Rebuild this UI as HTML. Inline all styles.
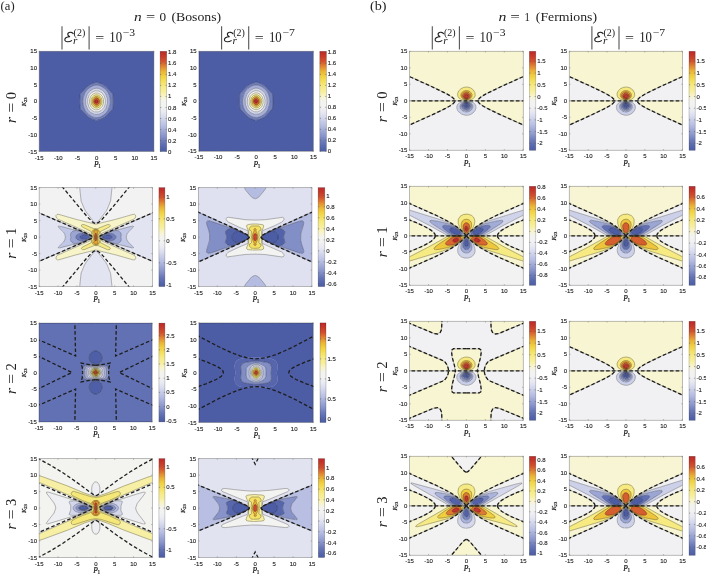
<!DOCTYPE html><html><head><meta charset="utf-8"><style>html,body{margin:0;padding:0;background:#fff;width:706px;height:574px;overflow:hidden}svg{display:block;filter:blur(0.3px)}.tk{font-family:"Liberation Sans",sans-serif;font-size:6px;fill:#222;stroke:#222;stroke-width:0.12px}.al{font-family:"Liberation Serif",serif;font-size:7.5px;font-style:italic;fill:#111;stroke:#111;stroke-width:0.18px}.sub{font-size:5.2px;font-style:normal}.ttl{font-family:"Liberation Serif",serif;font-size:14.5px;fill:#222}.ttls{font-family:"Liberation Serif",serif;font-size:9.5px;fill:#222}.hd{font-family:"Liberation Serif",serif;font-size:11px;fill:#222}.rl{font-family:"Liberation Serif",serif;font-size:14.5px;fill:#222}</style></head><body>
<svg width="706" height="574" viewBox="0 0 706 574">
<text x="0.60" y="10.30" font-family="Liberation Serif" font-size="12.5" textLength="14.00" lengthAdjust="spacingAndGlyphs" fill="#222">(a)</text>
<text x="370.00" y="10.30" font-family="Liberation Serif" font-size="12.5" textLength="16.50" lengthAdjust="spacingAndGlyphs" fill="#222">(b)</text>
<text x="134.00" y="21.20" font-family="Liberation Serif" font-size="12.5" font-style="italic" textLength="7.70" lengthAdjust="spacingAndGlyphs" fill="#222">n</text>
<text x="146.00" y="21.20" font-family="Liberation Serif" font-size="12.5" textLength="9.20" lengthAdjust="spacingAndGlyphs" fill="#222">=</text>
<text x="159.50" y="21.20" font-family="Liberation Serif" font-size="12.5" textLength="6.60" lengthAdjust="spacingAndGlyphs" fill="#222">0</text>
<text x="171.40" y="21.20" font-family="Liberation Serif" font-size="12.5" textLength="49.80" lengthAdjust="spacingAndGlyphs" fill="#222">(Bosons)</text>
<text x="498.50" y="21.20" font-family="Liberation Serif" font-size="12.5" font-style="italic" textLength="7.90" lengthAdjust="spacingAndGlyphs" fill="#222">n</text>
<text x="510.20" y="21.20" font-family="Liberation Serif" font-size="12.5" textLength="9.60" lengthAdjust="spacingAndGlyphs" fill="#222">=</text>
<text x="524.60" y="21.20" font-family="Liberation Serif" font-size="12.5" textLength="5.40" lengthAdjust="spacingAndGlyphs" fill="#222">1</text>
<text x="535.80" y="21.20" font-family="Liberation Serif" font-size="12.5" textLength="61.20" lengthAdjust="spacingAndGlyphs" fill="#222">(Fermions)</text>
<path d="M62.00 26.3V49.4M89.10 26.3V49.4" stroke="#555" stroke-width="1.1"/>
<path d="M73.20 33.6C72.40 32.2 69.60 31.8 68.30 33.0C67.20 34.1 67.80 36.1 70.00 36.7C66.40 36.7 64.30 38.4 64.90 40.3C65.50 42.1 69.30 42.3 71.60 40.6" fill="none" stroke="#222" stroke-width="1.15" stroke-linecap="round"/>
<text x="73.60" y="35.90" font-family="Liberation Serif" font-size="9.5" textLength="11.60" lengthAdjust="spacingAndGlyphs" fill="#222">(2)</text>
<text x="73.00" y="43.60" font-family="Liberation Serif" font-size="9.5" font-style="italic" textLength="4.40" lengthAdjust="spacingAndGlyphs" fill="#222">r</text>
<text x="95.20" y="41.60" font-family="Liberation Serif" font-size="13.5" textLength="9.00" lengthAdjust="spacingAndGlyphs" fill="#222">=</text>
<text x="109.30" y="41.70" font-family="Liberation Serif" font-size="14.5" textLength="12.80" lengthAdjust="spacingAndGlyphs" fill="#222">10</text>
<text x="122.80" y="36.20" font-family="Liberation Serif" font-size="9.5" textLength="12.40" lengthAdjust="spacingAndGlyphs" fill="#222">−3</text>
<path d="M221.60 26.3V49.4M248.70 26.3V49.4" stroke="#555" stroke-width="1.1"/>
<path d="M232.80 33.6C232.00 32.2 229.20 31.8 227.90 33.0C226.80 34.1 227.40 36.1 229.60 36.7C226.00 36.7 223.90 38.4 224.50 40.3C225.10 42.1 228.90 42.3 231.20 40.6" fill="none" stroke="#222" stroke-width="1.15" stroke-linecap="round"/>
<text x="233.20" y="35.90" font-family="Liberation Serif" font-size="9.5" textLength="11.60" lengthAdjust="spacingAndGlyphs" fill="#222">(2)</text>
<text x="232.60" y="43.60" font-family="Liberation Serif" font-size="9.5" font-style="italic" textLength="4.40" lengthAdjust="spacingAndGlyphs" fill="#222">r</text>
<text x="254.80" y="41.60" font-family="Liberation Serif" font-size="13.5" textLength="9.00" lengthAdjust="spacingAndGlyphs" fill="#222">=</text>
<text x="268.90" y="41.70" font-family="Liberation Serif" font-size="14.5" textLength="12.80" lengthAdjust="spacingAndGlyphs" fill="#222">10</text>
<text x="282.40" y="36.20" font-family="Liberation Serif" font-size="9.5" textLength="12.40" lengthAdjust="spacingAndGlyphs" fill="#222">−7</text>
<path d="M432.30 26.3V49.4M459.40 26.3V49.4" stroke="#555" stroke-width="1.1"/>
<path d="M443.50 33.6C442.70 32.2 439.90 31.8 438.60 33.0C437.50 34.1 438.10 36.1 440.30 36.7C436.70 36.7 434.60 38.4 435.20 40.3C435.80 42.1 439.60 42.3 441.90 40.6" fill="none" stroke="#222" stroke-width="1.15" stroke-linecap="round"/>
<text x="443.90" y="35.90" font-family="Liberation Serif" font-size="9.5" textLength="11.60" lengthAdjust="spacingAndGlyphs" fill="#222">(2)</text>
<text x="443.30" y="43.60" font-family="Liberation Serif" font-size="9.5" font-style="italic" textLength="4.40" lengthAdjust="spacingAndGlyphs" fill="#222">r</text>
<text x="465.50" y="41.60" font-family="Liberation Serif" font-size="13.5" textLength="9.00" lengthAdjust="spacingAndGlyphs" fill="#222">=</text>
<text x="479.60" y="41.70" font-family="Liberation Serif" font-size="14.5" textLength="12.80" lengthAdjust="spacingAndGlyphs" fill="#222">10</text>
<text x="493.10" y="36.20" font-family="Liberation Serif" font-size="9.5" textLength="12.40" lengthAdjust="spacingAndGlyphs" fill="#222">−3</text>
<path d="M591.90 26.3V49.4M619.00 26.3V49.4" stroke="#555" stroke-width="1.1"/>
<path d="M603.10 33.6C602.30 32.2 599.50 31.8 598.20 33.0C597.10 34.1 597.70 36.1 599.90 36.7C596.30 36.7 594.20 38.4 594.80 40.3C595.40 42.1 599.20 42.3 601.50 40.6" fill="none" stroke="#222" stroke-width="1.15" stroke-linecap="round"/>
<text x="603.50" y="35.90" font-family="Liberation Serif" font-size="9.5" textLength="11.60" lengthAdjust="spacingAndGlyphs" fill="#222">(2)</text>
<text x="602.90" y="43.60" font-family="Liberation Serif" font-size="9.5" font-style="italic" textLength="4.40" lengthAdjust="spacingAndGlyphs" fill="#222">r</text>
<text x="625.10" y="41.60" font-family="Liberation Serif" font-size="13.5" textLength="9.00" lengthAdjust="spacingAndGlyphs" fill="#222">=</text>
<text x="639.20" y="41.70" font-family="Liberation Serif" font-size="14.5" textLength="12.80" lengthAdjust="spacingAndGlyphs" fill="#222">10</text>
<text x="652.70" y="36.20" font-family="Liberation Serif" font-size="9.5" textLength="12.40" lengthAdjust="spacingAndGlyphs" fill="#222">−7</text>
<g>
<clipPath id="cA0"><rect x="39.2" y="51.3" width="114.7" height="100.2"/></clipPath>
<g clip-path="url(#cA0)">
<path fill="#4c5ca5" stroke="#4c5ca5" stroke-width="0.3" d="M39.6 151.5l114.3 0 0-100.2-114.7 0 0 100.2zM95.9 120.4l-4.7-1.5-3.1-1.8-7.8-8-0.5-6.7 0.3-8.3 6.8-7.4 3.9-2.7 5.8-1.9 5.3 1.8 2.3 1.2 1.9 1.5 6.9 7.5 0.3 7.3-0.3 7.3-6.1 6.7-2.3 2-3.5 1.8-4.5 1.5-0.4-0.1z"/>
<path fill="#717fbd" stroke="#717fbd" stroke-width="0.3" d="M96.2 120.6l0.4 0.1 4.5-1.5 3.5-1.8 2.3-2 6.1-6.7 0.3-7.3-0.3-7.3-6.9-7.5-1.9-1.5-2.3-1.2-5.3-1.8-5.8 1.9-3.9 2.7-6.8 7.4-0.3 8.3 0.5 6.7 7.8 8 3.1 1.8 4.7 1.5zM94.1 117.4l-2.5-1-3.1-2-1.8-1.6-1.4-2-1.4-3.1-0.8-3-0.3-3 0.2-3.3 0.8-3 1.1-2.7 1.6-2.3 2-2 3.1-2 2.3-1 2.7-0.3 2.6 0.3 2.3 1 3.1 2 1.8 1.6 1.6 2.4 1.2 2.7 0.8 3 0.3 3-0.2 3.3-0.8 3-1.1 2.7-1.6 2.3-1.6 1.7-2.9 2-2.5 1.2-2.7 0.4-2.6-0.2z"/>
<path fill="#a6afda" stroke="#a6afda" stroke-width="0.3" d="M94.3 117.5l2.6 0.2 2.7-0.4 2.5-1.2 2.9-2 1.6-1.7 1.6-2.3 1.1-2.7 0.8-3 0.2-3.3-0.3-3-0.8-3-1.2-2.7-1.6-2.4-1.8-1.6-3.1-2-2.3-1-2.6-0.3-2.7 0.3-2.3 1-3.1 2-2 2-1.6 2.3-1.1 2.7-0.8 3-0.2 3.3 0.3 3 0.8 3 1.4 3.1 1.4 2 1.8 1.6 3.1 2 2.5 1zM94.8 114.4l-2.1-0.6-1.9-1.1-1.8-1.6-1.5-2-1.1-2.4-0.7-2.3-0.2-2.3 0.1-2.7 0.6-2.7 1-2.3 1.3-2 1.6-1.7 1.9-1.3 1.9-0.8 2.3-0.4 2.3 0.2 1.9 0.6 1.9 1.1 1.8 1.6 1.5 2 1.1 2.4 0.7 2.3 0.2 2.3-0.1 2.7-0.6 2.7-1 2.3-1.3 2-1.5 1.7-2 1.3-1.9 0.8-1.9 0.4-2.3-0.1z"/>
<path fill="#d3d7ec" stroke="#d3d7ec" stroke-width="0.3" d="M95 114.5l2.3 0.1 1.9-0.4 1.9-0.8 2-1.3 1.5-1.7 1.3-2 1-2.3 0.6-2.7 0.1-2.7-0.2-2.3-0.7-2.3-1.1-2.4-1.5-2-1.8-1.6-1.9-1.1-1.9-0.6-2.3-0.2-2.3 0.4-1.9 0.8-1.9 1.3-1.6 1.7-1.3 2-1 2.3-0.6 2.7-0.1 2.7 0.2 2.3 0.7 2.3 1.1 2.4 1.5 2 1.8 1.6 1.9 1.1 2.1 0.6zM94.4 111.8l-1.7-0.8-1.5-1-2.4-3.3-1.1-4 0.2-4 1.4-3.6 2.7-2.9 1.5-0.8 1.9-0.6 3.4 0.3 3.1 1.7 2.4 3.3 1.1 4-0.2 4-1.4 3.6-2.7 2.9-3 1.3-3.5-0.1z"/>
<path fill="#f2f2f3" stroke="#f2f2f3" stroke-width="0.3" d="M94.6 111.8l3.5 0.1 3-1.3 2.7-2.9 1.4-3.6 0.2-4-1.1-4-2.4-3.3-3.1-1.7-3.4-0.3-1.9 0.6-1.5 0.8-2.7 2.9-1.4 3.6-0.2 4 1.1 4 2.4 3.3 1.5 1 1.7 0.8zM95.3 109.8l-2.6-1.2-2.1-2.5-1-3 0-3.4 1-3 2.1-2.5 2.7-1.2 2.7 0.1 2.4 1.3 2 2.3 1 3 0 3.4-1 3-2 2.3-2.4 1.3-2.7 0.1z"/>
<path fill="#f8f4cb" stroke="#f8f4cb" stroke-width="0.3" d="M95.4 109.8l2.7-0.1 2.4-1.3 2-2.3 1-3 0-3.4-1-3-2-2.3-2.4-1.3-2.7-0.1-2.7 1.2-2.1 2.5-1 3 0 3.4 1 3 2.1 2.5 2.6 1.2zM94.9 107.7l-2-1.3-1.3-2-0.6-2.3 0.2-2.7 1.1-2.3 1.6-1.5 2.3-0.8 2 0.3 2 1.3 1.3 2 0.6 2.3-0.2 2.7-1.1 2.3-1.6 1.5-1.9 0.8-2.3-0.2z"/>
<path fill="#f6e97f" stroke="#f6e97f" stroke-width="0.3" d="M95 107.8l2.3 0.2 1.9-0.8 1.8-1.8 0.9-2.3 0.1-2.7-0.6-2.3-1.4-1.9-1.9-1.2-2.3-0.2-1.9 0.8-1.6 1.5-1.1 2.3-0.2 2.7 0.6 2.3 1.3 2 2 1.3zM95.8 106.4l-1.5-0.7-1.2-1.3-0.7-2 0-2 0.7-2 1.2-1.3 1.5-0.7 1.5 0 1.5 0.7 1.2 1.3 0.7 2 0 2-0.7 2-1.2 1.3-1.5 0.7-1.5 0z"/>
<path fill="#eec53d" stroke="#eec53d" stroke-width="0.3" d="M95.8 106.4l1.5 0 1.5-0.7 1.2-1.3 0.7-2 0-2-0.7-2-1.2-1.3-1.5-0.7-1.5 0-1.5 0.7-1.2 1.3-0.7 2 0 2 0.7 2 1.2 1.3 1.5 0.7zM95.3 104.7l-1-0.9-0.6-1.1-0.2-1.3 0.2-1.3 0.8-1.4 0.9-0.7 1.2-0.3 1.1 0.3 0.9 0.7 0.8 1.4 0.2 1.3-0.2 1.3-0.8 1.4-0.9 0.7-1.1 0.3-1.2-0.3z"/>
<path fill="#d8672e" stroke="#d8672e" stroke-width="0.3" d="M95.4 104.8l1.2 0.3 1.1-0.3 0.9-0.7 0.8-1.4 0.2-1.3-0.2-1.3-0.6-1.1-1-0.9-1.2-0.4-1.2 0.3-0.9 0.7-0.8 1.4-0.2 1.3 0.2 1.3 0.6 1.1 1 0.9zM96.3 103.4l-1-0.7-0.4-1.6 0.7-1.4 1.2-0.3 1 0.7 0.4 1.3-0.5 1.5-1.1 0.5z"/>
<path fill="#be2c28" stroke="#be2c28" stroke-width="0.3" d="M96.5 103.4l1.1-0.5 0.5-1.5-0.5-1.5-1.1-0.5-1.2 0.5-0.5 1.5 0.4 1.3 1 0.7z"/>
<path fill="none" stroke="#000" stroke-opacity="0.55" stroke-width="0.5" d="M96.2 120.6l4.9-1.4 3.5-1.8 2.3-2 6.1-6.7 0.3-7.3-0.3-7.3-6.9-7.5-4.2-2.7-5.3-1.8-5.8 1.9-3.9 2.7-6.8 7.4-0.3 8.3 0.5 6.7 7.8 8 3.1 1.8 4.7 1.5M94.3 117.5l2.6 0.2 2.7-0.4 2.5-1.2 2.9-2 1.6-1.7 1.6-2.3 1.9-5.7 0.2-3.3-0.3-3-0.8-3-1.2-2.7-1.6-2.4-1.8-1.6-3.1-2-2.3-1-2.6-0.3-2.7 0.3-2.3 1-3.1 2-2 2-1.6 2.3-1.9 5.7-0.2 3.3 0.3 3 0.8 3 1.4 3.1 3.2 3.6 3.1 2 2.5 1M95 114.5l4.2-0.3 3.9-2.1 2.8-3.7 1.6-5-0.1-5-1.8-4.7-3.3-3.6-3.8-1.7-2.3-0.2-2.3 0.4-3.8 2.1-2.9 3.7-1.6 5 0.1 5 1.8 4.7 3.3 3.6 4 1.7M94.6 111.8l3.5 0.1 3-1.3 2.7-2.9 1.4-3.6 0.2-4-1.1-4-2.4-3.3-3.1-1.7-3.4-0.3-3.4 1.4-2.7 2.9-1.4 3.6-0.2 4 1.1 4 2.4 3.3 3.2 1.8M95.4 109.8l2.7-0.1 2.4-1.3 2-2.3 1-3 0-3.4-1-3-2-2.3-2.4-1.3-2.7-0.1-2.7 1.2-2.1 2.5-1 3 0 3.4 1 3 2.1 2.5 2.6 1.2M95 107.8l2.3 0.2 1.9-0.8 1.8-1.8 0.9-2.3 0.1-2.7-0.6-2.3-1.4-1.9-1.9-1.2-2.3-0.2-1.9 0.8-1.6 1.5-1.1 2.3-0.2 2.7 0.6 2.3 1.3 2 2 1.3M95.8 106.4l1.5 0 1.5-0.7 1.2-1.3 0.7-2 0-2-0.7-2-1.2-1.3-1.5-0.7-1.5 0-1.5 0.7-1.2 1.3-0.7 2 0 2 0.7 2 1.2 1.3 1.5 0.7M95.4 104.8l1.2 0.3 1.1-0.3 0.9-0.7 0.8-1.4 0-2.6-1.6-2-1.2-0.4-1.2 0.3-0.9 0.7-0.8 1.4 0 2.6 1.6 2M96.5 103.4l1.1-0.5 0.5-1.5-0.5-1.5-1.1-0.5-1.2 0.5-0.5 1.5 0.4 1.3 1 0.7"/>
</g>
<rect x="39.2" y="51.3" width="114.7" height="100.2" fill="none" stroke="#000" stroke-opacity="0.33" stroke-width="0.8"/>
<path stroke="#777" stroke-width="0.5" d="M39.2 151.5v-1.2M39.2 51.3v1.2M39.2 151.5h1.2M153.9 151.5h-1.2M58.3 151.5v-1.2M58.3 51.3v1.2M39.2 134.8h1.2M153.9 134.8h-1.2M77.4 151.5v-1.2M77.4 51.3v1.2M39.2 118.1h1.2M153.9 118.1h-1.2M96.6 151.5v-1.2M96.6 51.3v1.2M39.2 101.4h1.2M153.9 101.4h-1.2M115.7 151.5v-1.2M115.7 51.3v1.2M39.2 84.7h1.2M153.9 84.7h-1.2M134.8 151.5v-1.2M134.8 51.3v1.2M39.2 68.0h1.2M153.9 68.0h-1.2M153.9 151.5v-1.2M153.9 51.3v1.2M39.2 51.3h1.2M153.9 51.3h-1.2"/>
<text class="tk" x="39.2" y="159.6" text-anchor="middle">-15</text>
<text class="tk" x="37.0" y="153.5" text-anchor="end">-15</text>
<text class="tk" x="58.3" y="159.6" text-anchor="middle">-10</text>
<text class="tk" x="37.0" y="136.8" text-anchor="end">-10</text>
<text class="tk" x="77.4" y="159.6" text-anchor="middle">-5</text>
<text class="tk" x="37.0" y="120.1" text-anchor="end">-5</text>
<text class="tk" x="96.6" y="159.6" text-anchor="middle">0</text>
<text class="tk" x="37.0" y="103.4" text-anchor="end">0</text>
<text class="tk" x="115.7" y="159.6" text-anchor="middle">5</text>
<text class="tk" x="37.0" y="86.7" text-anchor="end">5</text>
<text class="tk" x="134.8" y="159.6" text-anchor="middle">10</text>
<text class="tk" x="37.0" y="70.0" text-anchor="end">10</text>
<text class="tk" x="153.9" y="159.6" text-anchor="middle">15</text>
<text class="tk" x="37.0" y="53.3" text-anchor="end">15</text>
<text class="al" x="94.0" y="166.7">P<tspan class="sub" dx="-0.4" dy="1.0">1</tspan></text>
<text class="al" style="font-size:6.6px" transform="translate(26.2,106.2) rotate(-90)">K<tspan class="sub" style="font-size:4.6px" dx="-0.2" dy="1.0">23</tspan></text>
<linearGradient id="gA0" x1="0" y1="1" x2="0" y2="0"><stop offset="0.000" stop-color="#4c5ca5"/><stop offset="0.050" stop-color="#5969ae"/><stop offset="0.100" stop-color="#6c7ab9"/><stop offset="0.150" stop-color="#8793c9"/><stop offset="0.200" stop-color="#9da7d5"/><stop offset="0.250" stop-color="#b4bce1"/><stop offset="0.300" stop-color="#c7cde8"/><stop offset="0.350" stop-color="#dbddef"/><stop offset="0.400" stop-color="#eaebf2"/><stop offset="0.450" stop-color="#f2f2f2"/><stop offset="0.500" stop-color="#f3f3f0"/><stop offset="0.550" stop-color="#f8f4ca"/><stop offset="0.600" stop-color="#f7ee9c"/><stop offset="0.650" stop-color="#f6ea84"/><stop offset="0.700" stop-color="#f4df60"/><stop offset="0.750" stop-color="#f1d040"/><stop offset="0.800" stop-color="#eab437"/><stop offset="0.850" stop-color="#e08431"/><stop offset="0.900" stop-color="#d1522d"/><stop offset="0.950" stop-color="#c63a2a"/><stop offset="1.000" stop-color="#bc2828"/></linearGradient>
<rect x="160.1" y="51.3" width="6.6" height="100.2" fill="url(#gA0)" stroke="#000" stroke-opacity="0.3" stroke-width="0.6"/>
<text class="tk" x="168.1" y="153.5">0</text>
<text class="tk" x="168.1" y="142.5">0.2</text>
<text class="tk" x="168.1" y="131.5">0.4</text>
<text class="tk" x="168.1" y="120.5">0.6</text>
<text class="tk" x="168.1" y="109.5">0.8</text>
<text class="tk" x="168.1" y="98.4">1</text>
<text class="tk" x="168.1" y="87.4">1.2</text>
<text class="tk" x="168.1" y="76.4">1.4</text>
<text class="tk" x="168.1" y="65.4">1.6</text>
<text class="tk" x="168.1" y="54.4">1.8</text>
<path stroke="#555" stroke-width="0.5" d="M166.7 151.5h-1.2M160.1 151.5h1.2M166.7 140.5h-1.2M160.1 140.5h1.2M166.7 129.5h-1.2M160.1 129.5h1.2M166.7 118.5h-1.2M160.1 118.5h1.2M166.7 107.5h-1.2M160.1 107.5h1.2M166.7 96.4h-1.2M160.1 96.4h1.2M166.7 85.4h-1.2M160.1 85.4h1.2M166.7 74.4h-1.2M160.1 74.4h1.2M166.7 63.4h-1.2M160.1 63.4h1.2M166.7 52.4h-1.2M160.1 52.4h1.2"/>
</g>
<g>
<clipPath id="cA20"><rect x="198.9" y="51.3" width="114.5" height="100.0"/></clipPath>
<g clip-path="url(#cA20)">
<path fill="#4c5ca5" stroke="#4c5ca5" stroke-width="0.3" d="M199.3 151.3l114.1 0 0-100-114.5 0 0 100zM255.5 120.3l-4.7-1.5-3-1.8-7.8-8-0.6-6.7 0.4-8.3 6.7-7.4 3.9-2.6 5.8-2 5.3 1.8 2.3 1.2 1.9 1.5 6.8 7.5 0.4 7.3-0.4 7.3-6 6.7-2.3 2-3.5 1.8-4.5 1.5-0.4-0.2z"/>
<path fill="#717fbd" stroke="#717fbd" stroke-width="0.3" d="M255.8 120.4l0.4 0.2 4.5-1.5 3.5-1.8 2.3-2 6-6.7 0.4-7.3-0.4-7.3-6.8-7.5-1.9-1.5-2.3-1.2-5.3-1.8-5.8 2-3.9 2.6-6.7 7.4-0.4 8.3 0.6 6.7 7.8 8 3 1.8 4.7 1.5zM253.7 117.3l-2.5-1-3.1-2-1.7-1.7-1.5-2-1.4-3-0.8-3-0.3-3 0.3-3.3 0.7-3 1.1-2.7 1.6-2.3 2-2 3.1-2 2.3-0.9 2.7-0.4 2.6 0.4 2.3 0.9 3.1 2 1.7 1.7 1.7 2.3 1.2 2.7 0.8 3 0.3 3-0.3 3.3-0.7 3-1.1 2.7-1.6 2.3-1.6 1.7-2.9 2-2.5 1.1-2.7 0.5-2.6-0.3z"/>
<path fill="#a6afda" stroke="#a6afda" stroke-width="0.3" d="M253.9 117.3l2.6 0.3 2.7-0.5 2.5-1.1 2.9-2 1.6-1.7 1.6-2.3 1.1-2.7 0.7-3 0.3-3.3-0.3-3-0.8-3-1.2-2.7-1.7-2.3-1.7-1.7-3.1-2-2.3-0.9-2.6-0.4-2.7 0.4-2.3 0.9-3.1 2-2 2-1.6 2.3-1.1 2.7-0.7 3-0.3 3.3 0.3 3 0.8 3 1.4 3 1.5 2 1.7 1.7 3.1 2 2.5 1zM254.4 114.3l-2.1-0.6-1.9-1.1-1.8-1.6-1.5-2-1.1-2.4-0.6-2.3-0.3-2.3 0.1-2.7 0.6-2.7 1-2.3 1.3-2 1.6-1.7 1.9-1.3 1.9-0.8 2.3-0.4 2.3 0.2 1.9 0.6 1.9 1.1 1.8 1.6 1.5 2 1.1 2.4 0.6 2.3 0.3 2.3-0.1 2.7-0.6 2.7-1 2.3-1.3 2-1.6 1.7-1.9 1.3-1.9 0.8-1.9 0.3-2.3-0.1z"/>
<path fill="#d3d7ec" stroke="#d3d7ec" stroke-width="0.3" d="M254.6 114.3l2.3 0.1 1.9-0.3 1.9-0.8 1.9-1.3 1.6-1.7 1.3-2 1-2.3 0.6-2.7 0.1-2.7-0.3-2.3-0.6-2.3-1.1-2.4-1.5-2-1.8-1.6-1.9-1.1-1.9-0.6-2.3-0.2-2.3 0.4-1.9 0.8-1.9 1.3-1.6 1.7-1.3 2-1 2.3-0.6 2.7-0.1 2.7 0.3 2.3 0.6 2.3 1.1 2.4 1.5 2 1.8 1.6 1.9 1.1 2.1 0.6zM254 111.6l-1.7-0.7-1.5-1.1-2.4-3.2-1.1-4 0.2-4 1.5-3.6 2.6-2.8 1.5-0.9 1.9-0.6 3.4 0.3 3.1 1.8 2.4 3.2 1.1 4-0.2 4-1.5 3.6-2.6 2.8-3 1.4-3.5-0.1z"/>
<path fill="#f2f2f3" stroke="#f2f2f3" stroke-width="0.3" d="M254.2 111.7l3.5 0.1 3-1.4 2.6-2.8 1.5-3.6 0.2-4-1.1-4-2.4-3.2-3.1-1.8-3.4-0.3-1.9 0.6-1.5 0.9-2.6 2.8-1.5 3.6-0.2 4 1.1 4 2.4 3.2 1.5 1.1 1.7 0.7zM254.9 109.6l-2.6-1.2-2.1-2.4-1-3 0-3.4 1-3 2.1-2.4 2.7-1.3 2.7 0.1 2.4 1.3 2 2.3 1 3 0 3.4-1 3-2 2.3-2.4 1.3-2.7 0.1z"/>
<path fill="#f8f4cb" stroke="#f8f4cb" stroke-width="0.3" d="M255 109.7l2.7-0.1 2.4-1.3 2-2.3 1-3 0-3.4-1-3-2-2.3-2.4-1.3-2.7-0.1-2.7 1.3-2.1 2.4-1 3 0 3.4 1 3 2.1 2.4 2.6 1.2zM254.5 107.6l-2-1.3-1.3-2-0.6-2.3 0.3-2.7 1-2.3 1.6-1.5 2.3-0.8 2 0.3 2 1.3 1.3 2 0.6 2.3-0.3 2.7-1 2.3-1.6 1.5-1.9 0.8-2.3-0.2z"/>
<path fill="#f6e97f" stroke="#f6e97f" stroke-width="0.3" d="M254.6 107.7l2.3 0.2 1.9-0.8 1.6-1.5 1-2.3 0.3-2.7-0.6-2.3-1.3-2-2-1.3-2-0.3-2.3 0.8-1.6 1.5-1 2.3-0.3 2.7 0.6 2.3 1.3 2 2 1.3zM255.4 106.3l-1.5-0.7-1.2-1.3-0.7-2 0-2 0.7-2 1.2-1.3 1.5-0.7 1.5 0 1.5 0.7 1.2 1.3 0.7 2 0 2-0.7 2-1.2 1.3-1.5 0.7-1.5 0z"/>
<path fill="#eec53d" stroke="#eec53d" stroke-width="0.3" d="M255.4 106.3l1.5 0 1.5-0.7 1.2-1.3 0.7-2 0-2-0.7-2-1.2-1.3-1.5-0.7-1.5 0-1.5 0.7-1.2 1.3-0.7 2 0 2 0.7 2 1.2 1.3 1.5 0.7zM254.9 104.6l-1-0.9-0.6-1.1-0.2-1.3 0.2-1.3 0.8-1.4 0.9-0.7 1.2-0.3 1.1 0.3 0.9 0.7 0.8 1.4 0.2 1.3-0.2 1.3-0.8 1.4-0.9 0.7-1.1 0.3-1.2-0.3z"/>
<path fill="#d8672e" stroke="#d8672e" stroke-width="0.3" d="M255 104.7l1.2 0.3 1.1-0.3 0.9-0.7 0.8-1.4 0.2-1.3-0.2-1.3-0.8-1.4-0.9-0.7-1.1-0.3-1.2 0.3-0.9 0.7-0.8 1.4-0.2 1.3 0.2 1.3 0.6 1.1 1 0.9zM255.9 103.3l-1-0.7-0.4-1.3 0.5-1.5 1.2-0.5 1.1 0.5 0.5 1.5-0.5 1.5-1.1 0.5z"/>
<path fill="#be2c28" stroke="#be2c28" stroke-width="0.3" d="M256.1 103.3l1.1-0.5 0.5-1.5-0.5-1.5-1.1-0.5-1.2 0.5-0.5 1.5 0.4 1.3 1 0.7z"/>
<path fill="none" stroke="#000" stroke-opacity="0.55" stroke-width="0.5" d="M255.8 120.4l4.9-1.3 3.5-1.8 2.3-2 6-6.7 0.4-7.3-0.4-7.3-6.8-7.5-4.2-2.7-5.3-1.8-5.8 2-3.9 2.6-6.7 7.4-0.4 8.3 0.6 6.7 7.8 8 3 1.8 4.7 1.5M253.9 117.3l2.6 0.3 2.7-0.5 2.5-1.1 2.9-2 1.6-1.7 1.6-2.3 1.8-5.7 0.3-3.3-0.3-3-0.8-3-1.2-2.7-1.7-2.3-1.7-1.7-3.1-2-2.3-0.9-2.6-0.4-2.7 0.4-2.3 0.9-3.1 2-2 2-1.6 2.3-1.8 5.7-0.3 3.3 0.3 3 0.8 3 1.4 3 3.2 3.7 3.1 2 2.5 1M254.6 114.3l4.2-0.2 3.8-2.1 2.9-3.7 1.6-5-0.2-5-1.7-4.7-3.3-3.6-3.8-1.7-2.3-0.2-2.3 0.4-3.8 2.1-2.9 3.7-1.6 5 0.2 5 1.7 4.7 3.3 3.6 4 1.7M254.2 111.7l3.5 0.1 3-1.4 2.6-2.8 1.5-3.6 0.2-4-1.1-4-2.4-3.2-3.1-1.8-3.4-0.3-3.4 1.5-2.6 2.8-1.5 3.6-0.2 4 1.1 4 2.4 3.2 3.2 1.8M255 109.7l2.7-0.1 2.4-1.3 2-2.3 1-3 0-3.4-1-3-2-2.3-2.4-1.3-2.7-0.1-2.7 1.3-2.1 2.4-1 3 0 3.4 1 3 2.1 2.4 2.6 1.2M254.6 107.7l2.3 0.2 1.9-0.8 1.6-1.5 1-2.3 0.3-2.7-0.6-2.3-1.3-2-2-1.3-2-0.3-2.3 0.8-1.6 1.5-1 2.3-0.3 2.7 0.6 2.3 1.3 2 2 1.3M255.4 106.3l1.5 0 1.5-0.7 1.2-1.3 0.7-2 0-2-0.7-2-1.2-1.3-1.5-0.7-1.5 0-1.5 0.7-1.2 1.3-0.7 2 0 2 0.7 2 1.2 1.3 1.5 0.7M255 104.7l1.2 0.3 1.1-0.3 0.9-0.7 0.8-1.4 0-2.6-0.8-1.4-0.9-0.7-1.1-0.3-1.2 0.3-0.9 0.7-0.8 1.4 0 2.6 1.6 2M256.1 103.3l1.1-0.5 0.5-1.5-0.5-1.5-1.1-0.5-1.2 0.5-0.5 1.5 0.4 1.3 1 0.7"/>
</g>
<rect x="198.9" y="51.3" width="114.5" height="100.0" fill="none" stroke="#000" stroke-opacity="0.33" stroke-width="0.8"/>
<path stroke="#777" stroke-width="0.5" d="M198.9 151.3v-1.2M198.9 51.3v1.2M198.9 151.3h1.2M313.4 151.3h-1.2M218.0 151.3v-1.2M218.0 51.3v1.2M198.9 134.6h1.2M313.4 134.6h-1.2M237.1 151.3v-1.2M237.1 51.3v1.2M198.9 118.0h1.2M313.4 118.0h-1.2M256.1 151.3v-1.2M256.1 51.3v1.2M198.9 101.3h1.2M313.4 101.3h-1.2M275.2 151.3v-1.2M275.2 51.3v1.2M198.9 84.6h1.2M313.4 84.6h-1.2M294.3 151.3v-1.2M294.3 51.3v1.2M198.9 68.0h1.2M313.4 68.0h-1.2M313.4 151.3v-1.2M313.4 51.3v1.2M198.9 51.3h1.2M313.4 51.3h-1.2"/>
<text class="tk" x="198.9" y="159.4" text-anchor="middle">-15</text>
<text class="tk" x="196.7" y="153.3" text-anchor="end">-15</text>
<text class="tk" x="218.0" y="159.4" text-anchor="middle">-10</text>
<text class="tk" x="196.7" y="136.6" text-anchor="end">-10</text>
<text class="tk" x="237.1" y="159.4" text-anchor="middle">-5</text>
<text class="tk" x="196.7" y="120.0" text-anchor="end">-5</text>
<text class="tk" x="256.1" y="159.4" text-anchor="middle">0</text>
<text class="tk" x="196.7" y="103.3" text-anchor="end">0</text>
<text class="tk" x="275.2" y="159.4" text-anchor="middle">5</text>
<text class="tk" x="196.7" y="86.6" text-anchor="end">5</text>
<text class="tk" x="294.3" y="159.4" text-anchor="middle">10</text>
<text class="tk" x="196.7" y="70.0" text-anchor="end">10</text>
<text class="tk" x="313.4" y="159.4" text-anchor="middle">15</text>
<text class="tk" x="196.7" y="53.3" text-anchor="end">15</text>
<text class="al" x="253.5" y="166.5">P<tspan class="sub" dx="-0.4" dy="1.0">1</tspan></text>
<text class="al" style="font-size:6.6px" transform="translate(185.9,106.1) rotate(-90)">K<tspan class="sub" style="font-size:4.6px" dx="-0.2" dy="1.0">23</tspan></text>
<linearGradient id="gA20" x1="0" y1="1" x2="0" y2="0"><stop offset="0.000" stop-color="#4c5ca5"/><stop offset="0.050" stop-color="#5969ae"/><stop offset="0.100" stop-color="#6c7ab9"/><stop offset="0.150" stop-color="#8793c9"/><stop offset="0.200" stop-color="#9da7d5"/><stop offset="0.250" stop-color="#b4bce1"/><stop offset="0.300" stop-color="#c7cde8"/><stop offset="0.350" stop-color="#dbddef"/><stop offset="0.400" stop-color="#eaebf2"/><stop offset="0.450" stop-color="#f2f2f2"/><stop offset="0.500" stop-color="#f3f3f0"/><stop offset="0.550" stop-color="#f8f4ca"/><stop offset="0.600" stop-color="#f7ee9c"/><stop offset="0.650" stop-color="#f6ea84"/><stop offset="0.700" stop-color="#f4df60"/><stop offset="0.750" stop-color="#f1d040"/><stop offset="0.800" stop-color="#eab437"/><stop offset="0.850" stop-color="#e08431"/><stop offset="0.900" stop-color="#d1522d"/><stop offset="0.950" stop-color="#c63a2a"/><stop offset="1.000" stop-color="#bc2828"/></linearGradient>
<rect x="319.8" y="51.3" width="6.6" height="100.0" fill="url(#gA20)" stroke="#000" stroke-opacity="0.3" stroke-width="0.6"/>
<text class="tk" x="327.8" y="153.3">0</text>
<text class="tk" x="327.8" y="142.3">0.2</text>
<text class="tk" x="327.8" y="131.3">0.4</text>
<text class="tk" x="327.8" y="120.3">0.6</text>
<text class="tk" x="327.8" y="109.3">0.8</text>
<text class="tk" x="327.8" y="98.4">1</text>
<text class="tk" x="327.8" y="87.4">1.2</text>
<text class="tk" x="327.8" y="76.4">1.4</text>
<text class="tk" x="327.8" y="65.4">1.6</text>
<text class="tk" x="327.8" y="54.4">1.8</text>
<path stroke="#555" stroke-width="0.5" d="M326.4 151.3h-1.2M319.8 151.3h1.2M326.4 140.3h-1.2M319.8 140.3h1.2M326.4 129.3h-1.2M319.8 129.3h1.2M326.4 118.3h-1.2M319.8 118.3h1.2M326.4 107.3h-1.2M319.8 107.3h1.2M326.4 96.4h-1.2M319.8 96.4h1.2M326.4 85.4h-1.2M319.8 85.4h1.2M326.4 74.4h-1.2M319.8 74.4h1.2M326.4 63.4h-1.2M319.8 63.4h1.2M326.4 52.4h-1.2M319.8 52.4h1.2"/>
</g>
<g>
<clipPath id="cA1"><rect x="39.2" y="187.6" width="113.3" height="99.0"/></clipPath>
<g clip-path="url(#cA1)">
<path fill="#5160a8" stroke="#5160a8" stroke-width="0.3" d="M82.3 239.2l3.7 0 1.5-0.4 0.9-0.7 0.4-0.7-0.1-1-0.8-0.7-1.5-0.7-3.8-0.1-1.5 0.5-1 0.7-0.5 1 0.2 0.7 0.7 0.6 1.4 0.7zM105.3 239.2l3.8 0.1 1.5-0.5 1-0.7 0.5-1-0.2-0.7-0.7-0.6-1.4-0.7-3.4-0.2-2.8 0.9-0.7 1 0.1 1 0.8 0.7 1.2 0.6z"/>
<path fill="#707dbc" stroke="#707dbc" stroke-width="0.3" d="M80 240.8l2.6 0.3 2.4-0.4 3-1.3 1.3-1 0.4-1.3-0.4-1.3-1.3-1-3-1.3-2.4-0.4-2.6 0.3-2.6 1.1-1.4 1.3-0.3 1.6 0.6 1.4 1.4 1.1 2.1 0.8zM81.9 239.1l-1.4-0.7-0.7-0.6-0.2-0.7 0.5-1 1-0.7 1.5-0.5 3.8 0.1 1.5 0.7 0.8 0.7 0.1 1-0.4 0.7-0.9 0.7-1.5 0.4-3.7 0zM106.8 240.7l2.3 0.4 2.6-0.3 2.6-1.1 1.4-1.3 0.3-1.6-0.6-1.3-1.4-1.2-2.3-0.9-2.6-0.3-2.4 0.4-3 1.3-1.3 1-0.4 1.3 0.4 1.3 1.3 1 3 1.3zM105 239.1l-1.2-0.6-0.8-0.7-0.1-1 0.7-1 2.8-0.9 3.4 0.2 1.4 0.7 0.7 0.6 0.2 0.7-0.5 1-1 0.7-1.5 0.5-3.8-0.1z"/>
<path fill="#9ba5d4" stroke="#9ba5d4" stroke-width="0.3" d="M75.5 243.7l3.4-0.5 3.6-1.2 6.1-2.6 1.7-1 0.3-0.6 0-1.7-0.3-0.3-2.4-1.4-7.2-2.9-4.9-1-1.9 0.1-1.8 1.1-1.1 1.1-0.6 2 0.5 2.3-0.5 2.3 0.6 2 0.9 1 1.6 1 1.8 0.3zM79.8 240.7l-2.1-0.8-1.4-1.1-0.6-1.4 0.3-1.6 1.4-1.3 2.6-1.1 2.6-0.3 2.4 0.4 3 1.3 1.3 1 0.4 1.3-0.4 1.3-1.3 1-3 1.3-2.4 0.4-2.6-0.3zM115.9 243.7l1.9-0.1 1.8-1.1 1.1-1.1 0.6-2-0.5-2.3 0.5-2.3-0.5-1.7-1.2-1.4-1.5-0.9-1.1-0.3-3 0.3-4.8 1.4-6.1 2.6-1.7 1-0.3 0.6 0 1.7 0.3 0.3 2.4 1.4 7.2 2.9 4.7 1zM106.7 240.7l-3-1.3-1.3-1-0.4-1.3 0.4-1.3 1.3-1 3-1.3 2.4-0.4 2.6 0.3 2.3 0.9 1.4 1.2 0.6 1.3-0.3 1.6-1.4 1.3-2.6 1.1-2.6 0.3-2.3-0.4z"/>
<path fill="#c1c7e6" stroke="#c1c7e6" stroke-width="0.3" d="M58.8 248.1l3.8-0.7 10.2-2.8 4.5-0.3 9.5-3.8 3.9-2.1 0.5-0.6 0.1-1-1.1-1.4-4.2-2.1-8.7-3.4-4.5-0.3-10.2-2.8-4.1-0.6-0.3 0.7 0.5 0.6 4.7 4.3 1.5 2.7 0.5 2.3-0.5 2.9-1.5 2.7-4.7 4.3-0.5 0.6 0.3 0.7zM75.3 243.7l-1.8-0.3-1.6-1-0.9-1-0.6-2 0.5-2.3-0.5-2.3 0.6-2 1.1-1.1 1.8-1.1 1.9-0.1 4.9 1 7.2 2.9 2.4 1.4 0.3 0.3 0 1.7-0.3 0.6-1.7 1-6.1 2.6-3.6 1.2-3.4 0.5zM132.5 248l0.7 0 0.3-0.3-0.2-0.7-5-4.6-1.5-2.7-0.5-1.6 0-1.7 0.5-1.9 1.5-2.7 4.7-4.3 0.5-0.6-0.3-0.7-4.1 0.6-10.2 2.8-2.3 0.3-1.9-0.1-1.1 0.3-11.3 4.9-1.6 1.1-0.3 1 0.3 1 1.6 1.1 11.3 4.9 1.1 0.3 1.9-0.1 2.3 0.3 10.2 2.8 3.2 0.6zM115.7 243.7l-4.7-1-7.2-2.9-2.4-1.4-0.3-0.3 0-1.7 0.3-0.6 1.7-1 6.1-2.6 4.8-1.4 3-0.3 1.1 0.3 1.5 0.9 1.2 1.4 0.5 1.7-0.5 2.3 0.5 2.3-0.6 2-1.1 1.1-1.8 1.1-1.9 0.1z"/>
<path fill="#e2e4f1" stroke="#e2e4f1" stroke-width="0.3" d="M80 286.6l32 0-1.4-13.2-3.3-8.2-1.3-2.4-7.9-10.2-1.1-1-1.2-0.3-1.1 0.3-1.1 1-7.9 10.2-1.3 2.4-3.3 7.9-1.4 13.5zM39.5 261.2l48-20.7 3.1-1.6 1.3-1.8-1.3-1.8-3.1-1.6-48.3-20.8 0 48.4zM58.5 248l-0.3-0.7 0.5-0.6 4.7-4.3 1.5-2.7 0.5-2.9-0.5-2.3-1.5-2.7-4.7-4.3-0.5-0.6 0.3-0.7 4.1 0.6 10.2 2.8 4.5 0.3 8.7 3.4 4.2 2.1 1.1 1.4-0.1 1-0.5 0.6-3.9 2.1-9.5 3.8-4.5 0.3-10.2 2.8-3.8 0.7zM152.5 261.3l0-48.4-48.3 20.8-3.1 1.6-1.3 1.8 1.3 1.8 3.1 1.6 48 20.7zM132.3 248l-3.2-0.6-10.2-2.8-2.3-0.3-1.9 0.1-1.1-0.3-11.3-4.9-1.6-1.1-0.3-1 0.3-1 1.6-1.1 11.3-4.9 1.1-0.3 1.9 0.1 2.3-0.3 10.2-2.8 4.1-0.6 0.3 0.7-0.5 0.6-4.7 4.3-1.5 2.7-0.5 1.9 0 1.7 0.5 1.6 1.5 2.7 5 4.6 0.2 0.7-0.3 0.3-0.7 0zM94.7 222.6l1.5 0.2 1.6-0.9 9.2-12.2 3.6-8.6 1.4-13.5-32.3 0 1.3 12.9 0.5 1.9 3.8 8.3 8.3 10.9 1.1 1z"/>
<path fill="#f2f2f2" stroke="#f2f2f2" stroke-width="0.3" d="M39.6 286.6l40.1 0 1.4-13.5 3.3-7.9 1.3-2.4 7.9-10.2 1.1-1 1.1-0.3 1.2 0.3 1.1 1 7.9 10.2 1.3 2.4 3.3 8.2 1.4 13.2 40.5 0 0-25.3-48.3-20.8-3.1-1.6-1.3-1.8 1.3-1.8 3.1-1.6 48.3-20.8 0-25.3-40.5 0-1.4 13.2-3.3 8.2-1.3 2.4-7.9 10.2-1.1 1-1.2 0.3-1.1-0.3-1.1-1-7.9-10.2-1.3-2.4-3.3-7.9-1.4-13.5-40.5 0 0 25.3 48.3 20.8 3.1 1.6 1.3 1.8-1.3 1.8-3.1 1.6-48.3 20.8 0 25.3zM57.1 259.9l-0.9-0.8-0.2-1.2 0.5-1.7 1.2-1.1 3-1.6 29.1-12.6 0.8-0.6 0.5-1.5 1.4-1.7-1.4-1.6-0.5-1.5-0.8-0.7-29.1-12.6-3-1.6-1.1-1-0.6-1.5 0.1-1.3 0.9-0.9 1.8 0 17.8 5.1 19.2 4.7 5-1.4 13.9-3.2 17.8-5.1 1.9-0.2 1 0.7 0.3 1.3-0.5 1.7-1.2 1.1-3 1.6-29.5 12.8-0.9 2-1.4 1.6 1.4 1.7 0.9 2 29.5 12.7 3 1.6 1.1 1 0.6 1.5-0.1 1.3-0.9 0.9-1.8 0-16.7-4.8-20.4-5-20 4.9-16.6 4.8-1.9 0.2z"/>
<path fill="#f8f4c9" stroke="#f8f4c9" stroke-width="0.3" d="M57.3 259.9l1.9-0.2 16.6-4.8 20-4.9 20.4 5 16.7 4.8 1.8 0 0.9-0.9 0.1-1.3-0.6-1.5-1.1-1-3-1.6-29.5-12.7-0.9-2-1.4-1.7 1.4-1.7 0.9-1.9 29.5-12.8 3-1.6 1.2-1.1 0.5-1.7-0.2-1.2-0.9-0.8-1.7 0.1-17.8 5.1-19.3 4.7-19.2-4.7-17.8-5.1-1.8 0-0.9 0.9-0.1 1.3 0.6 1.5 1.1 1 3 1.6 29.1 12.6 0.8 0.7 0.5 1.4 1.4 1.7-1.4 1.7-0.5 1.5-0.8 0.6-29.1 12.6-3 1.6-1.2 1.1-0.5 1.7 0.2 1.2 0.9 0.8zM82.3 249.6l-0.9-1 0.1-0.6 0.6-0.7 9.1-4.6 0.5-3.6 1.5-2-1.5-1.9-0.5-3.7-8.9-4.5-0.9-1.1 0.3-1 0.9-0.4 1.5 0.1 9.5 4 3.8 0.1 9.8-4 2.2-0.1 0.6 0.3 0.3 0.7-0.1 0.6-0.6 0.7-9.1 4.6-0.5 3.7-1.5 1.9 1.5 2 0.5 3.6 8.9 4.5 0.9 1.1-0.3 1-0.9 0.4-1.5 0-9.5-4.1-3.8-0.1-1.1 0.3-8.7 3.7-1.9 0.2z"/>
<path fill="#f6eb89" stroke="#f6eb89" stroke-width="0.3" d="M82.6 249.7l1.9-0.2 8.7-3.7 1.1-0.3 3.8 0.1 9.5 4.1 1.5 0 0.9-0.4 0.3-1-0.9-1.1-8.9-4.5-0.5-3.6-1.5-2 1.5-1.9 0.5-3.7 9.1-4.6 0.6-0.7 0.1-0.6-0.3-0.7-0.6-0.3-2.2 0.1-9.8 4-3.8-0.1-9.5-4-1.5-0.1-0.9 0.4-0.3 1 0.9 1.1 8.9 4.5 0.5 3.7 1.5 1.9-1.5 2-0.5 3.6-9.1 4.6-0.6 0.7-0.1 0.7 0.9 0.9zM94.4 244.7l-1.6-0.7-0.5-1.3-0.1-1.3 1.1-1.7 0.4-2.3 0.3-0.3-0.3-0.3-0.4-2-1.1-2 0.1-1.3 0.3-1 1-0.7 1.5-0.5 2.2 0.2 1.6 0.7 0.5 1.3 0.1 1.3-1.2 2-0.3 2-0.3 0.3 0.3 0.3 0.4 2.3 1.1 1.7-0.1 1.3-0.3 1-0.6 0.6-1.9 0.6-1.9-0.1z"/>
<path fill="#f3d94a" stroke="#f3d94a" stroke-width="0.3" d="M94.7 244.8l1.9 0.1 1.9-0.6 0.6-0.6 0.3-1 0.1-1.3-1.1-1.7-0.4-2.3-0.3-0.3 0.3-0.3 0.3-2 1.2-2-0.1-1.3-0.5-1.3-1.6-0.7-2.2-0.2-1.5 0.5-1 0.7-0.3 1-0.1 1.3 1.1 2 0.4 2 0.3 0.3-0.3 0.3-0.4 2.3-1.1 1.7 0.1 1.3 0.5 1.3 1.6 0.7zM94.6 244l-0.7-0.3-0.4-0.7 0.7-1.9 0.2-3.7 0.2-0.3-0.2-0.3-0.2-3.7-0.6-2.3 1.5-0.8 1.9 0.1 0.8 0.4 0.4 0.7-0.6 1.6-0.3 4-0.2 0.3 0.2 0.3 0.2 3.7 0.6 2.3-1.5 0.8-1.9-0.1z"/>
<path fill="#e6a335" stroke="#e6a335" stroke-width="0.3" d="M94.7 244.1l1.9 0.1 1.5-0.8-0.6-2.3-0.2-3.7-0.2-0.3 0.2-0.3 0.3-4 0.6-1.6-0.4-0.7-0.7-0.3-2-0.2-1.5 0.8 0.6 2.3 0.2 3.7 0.2 0.3-0.2 0.3-0.2 3.7-0.7 1.9 0.4 0.7 0.7 0.3zM95.8 241.1l-0.6-1.4-0.2-2.3 0.4-0.3-0.4-0.7 0.5-2.9 0.3-0.4 0.4 0.4 0.5 2.9-0.4 0.7 0.4 0.7-0.3 2.3-0.6 1z"/>
<path fill="#cf4b2c" stroke="#cf4b2c" stroke-width="0.3" d="M95.8 241.1l0.6-1 0.3-2.3-0.4-0.7 0.4-0.7-0.5-2.9-0.4-0.4-0.3 0.4-0.5 2.9 0.4 0.7-0.4 0.3 0.2 2.3 0.6 1.4z"/>
<path fill="none" stroke="#000" stroke-opacity="0.55" stroke-width="0.5" d="M82.3 239.2l-1.8-0.8-0.8-1 0.1-1 1.3-1 2.3-0.6 2.3 0.1 1.8 0.5 1.2 1 0 1.4-1.2 1-2.6 0.6-2.6-0.2M105.3 239.2l-2.3-1.4-0.1-1 0.4-0.7 2.4-1.1 3.7 0 1.6 0.6 0.9 0.8 0.2 0.7-0.5 1-2.2 1.1-3.7 0M80 240.8l-3-1.4-1.3-1.6 0.3-2 2.1-1.7 3-0.9 3 0.1 3.9 1.5 1.5 1.3 0 2-2.1 1.6-3.6 1.3-3.8-0.2M106.8 240.7l-3.1-1.3-1.5-1.3 0-2 1.5-1.3 3-1.3 3.5-0.3 3.4 0.9 2.1 1.7 0.3 1-0.2 1.3-1.8 1.8-3.4 1.1-3.8-0.3M75.5 243.7l-1.9-0.3-1.7-1-1-1.3-0.5-1.7 0.5-2.3-0.5-2.3 0.5-1.7 1-1.3 1.7-1 2.4-0.3 4.7 1 6.5 2.6 3.4 2 0 2-2.7 1.7-7.2 2.9-5.2 1M115.9 243.7l-4.9-1-4.2-1.6-5-2.3-0.7-1 0.3-2 2.4-1.4 7.2-2.9 4.9-1 1.9 0.1 1.8 1.1 1.1 1.1 0.6 2-0.5 2.3 0.5 2.3-0.6 2-2.5 2-2 0.3M58.8 248.1l-0.6-0.4 0.3-0.8 5.2-5 1.2-2.2 0.5-2.6-0.5-2.6-1.2-2.2-5.2-5-0.3-0.8 0.6-0.4 3.8 0.7 10.2 2.8 5.3 0.5 11.3 4.9 1.6 1.1 0.3 1-0.3 1-1.6 1.1-11.3 4.9-5.3 0.5-13.6 3.4M132.5 248l-13.6-3.4-5.3-0.5-11.3-4.9-1.6-1.1-0.3-1 0.3-1 1.6-1.1 11.3-4.9 5.3-0.5 10.2-2.8 3.8-0.7 0.6 0.4-0.3 0.8-5.2 5-1.2 2.2-0.5 2.6 0.5 2.6 1.2 2.2 5.2 5 0.3 0.8-0.6 0.4M79.7 286.6l1.4-13.5 3.3-7.9 1.3-2.4 7.9-10.2 1.1-1 1.1-0.3 1.2 0.3 1.1 1 7.9 10.2 1.3 2.4 3.3 8.2 1.4 13.2M152.5 261.3l-48.3-20.8-3.1-1.6-1.3-1.8 1.3-1.8 3.1-1.6 48.3-20.8M39.2 212.9l48.3 20.8 3.1 1.6 1.3 1.8-1.3 1.8-3.1 1.6-48.3 20.8M112 187.6l-1.4 13.2-3.3 8.2-1.3 2.4-7.9 10.2-1.1 1-1.2 0.3-1.1-0.3-1.1-1-7.9-10.2-1.3-2.4-3.3-7.9-1.4-13.5M57.3 259.9l1.9-0.2 16.6-4.8 20-4.9 20.4 5 16.7 4.8 1.8 0 0.9-0.9 0.1-1.3-0.6-1.5-1.1-1-32.5-14.3-0.9-2-1.4-1.7 1.4-1.7 0.9-1.9 32.5-14.4 1.2-1.1 0.5-1.7-0.2-1.2-0.9-0.8-1.7 0.1-17.8 5.1-19.3 4.7-19.2-4.7-17.8-5.1-1.8 0-0.9 0.9-0.1 1.3 0.6 1.5 1.1 1 32.1 14.2 2.7 3.8-1.4 1.7-0.5 1.5-0.8 0.6-32.1 14.2-1.2 1.1-0.5 1.7 0.2 1.2 0.9 0.8M82.6 249.7l1.9-0.2 9.8-4 3.8 0.1 9.5 4.1 1.5 0 0.9-0.4 0.3-1-0.9-1.1-8.9-4.5-0.5-3.6-1.5-2 1.5-1.9 0.5-3.7 9.1-4.6 0.7-1.3-0.9-1-2.2 0.1-9.8 4-3.8-0.1-9.5-4-1.5-0.1-0.9 0.4-0.3 1 0.9 1.1 8.9 4.5 0.5 3.7 1.5 1.9-1.5 2-0.5 3.6-9.1 4.6-0.7 1.4 0.9 0.9M94.7 244.8l1.9 0.1 1.9-0.6 0.9-1.6 0.1-1.3-1.1-1.7-0.7-2.6 0.6-2.3 1.2-2-0.1-1.3-0.5-1.3-1.6-0.7-2.2-0.2-1.5 0.5-1 0.7-0.3 1-0.1 1.3 1.1 2 0.7 2.3-0.7 2.6-1.1 1.7 0.1 1.3 0.5 1.3 1.6 0.7M94.7 244.1l1.9 0.1 1.5-0.8-1-6.3 0.5-4.3 0.6-1.6-1.1-1-2-0.2-1.5 0.8 1 6.3-0.4 4-0.7 1.9 1.1 1M95.8 241.1l0.6-1 0.3-2.3-0.4-0.7 0.4-0.7-0.5-2.9-0.4-0.4-0.3 0.4-0.5 2.9 0.4 0.7-0.4 0.3 0.2 2.3 0.6 1.4"/>
<path fill="none" stroke="#1e1e1e" stroke-width="1.3" stroke-dasharray="3.6 2.2" d="M35.3 263l50.2-21.7 5.9-2.9 0.9-0.7 0.3-0.6-0.3-0.6-0.9-0.7-5.9-2.9-50.2-21.7"/>
<path fill="none" stroke="#1e1e1e" stroke-width="1.3" stroke-dasharray="3.6 2.2" d="M156.4 263l-50.2-21.7-5.9-2.9-0.9-0.7-0.3-0.6 0.3-0.6 0.9-0.7 5.9-2.9 50.2-21.7"/>
<path fill="none" stroke="#1e1e1e" stroke-width="1.3" stroke-dasharray="3.6 2.2" d="M58.1 181.8l28.7 34.4 5.7 5.8 1.9 1.2 1 0.3 0.9 0 1.9-0.8 2-1.5 2.8-2.9 9.6-11.1 21-25.4"/>
<path fill="none" stroke="#1e1e1e" stroke-width="1.3" stroke-dasharray="3.6 2.2" d="M58.1 292.4l28.7-34.4 5.7-5.8 1.9-1.2 1-0.3 0.9 0 1.9 0.8 2 1.5 2.8 2.9 9.6 11.1 21 25.4"/>
</g>
<rect x="39.2" y="187.6" width="113.3" height="99.0" fill="none" stroke="#000" stroke-opacity="0.33" stroke-width="0.8"/>
<path stroke="#777" stroke-width="0.5" d="M39.2 286.6v-1.2M39.2 187.6v1.2M39.2 286.6h1.2M152.5 286.6h-1.2M58.1 286.6v-1.2M58.1 187.6v1.2M39.2 270.1h1.2M152.5 270.1h-1.2M77.0 286.6v-1.2M77.0 187.6v1.2M39.2 253.6h1.2M152.5 253.6h-1.2M95.8 286.6v-1.2M95.8 187.6v1.2M39.2 237.1h1.2M152.5 237.1h-1.2M114.7 286.6v-1.2M114.7 187.6v1.2M39.2 220.6h1.2M152.5 220.6h-1.2M133.6 286.6v-1.2M133.6 187.6v1.2M39.2 204.1h1.2M152.5 204.1h-1.2M152.5 286.6v-1.2M152.5 187.6v1.2M39.2 187.6h1.2M152.5 187.6h-1.2"/>
<text class="tk" x="39.2" y="294.7" text-anchor="middle">-15</text>
<text class="tk" x="37.0" y="288.6" text-anchor="end">-15</text>
<text class="tk" x="58.1" y="294.7" text-anchor="middle">-10</text>
<text class="tk" x="37.0" y="272.1" text-anchor="end">-10</text>
<text class="tk" x="77.0" y="294.7" text-anchor="middle">-5</text>
<text class="tk" x="37.0" y="255.6" text-anchor="end">-5</text>
<text class="tk" x="95.8" y="294.7" text-anchor="middle">0</text>
<text class="tk" x="37.0" y="239.1" text-anchor="end">0</text>
<text class="tk" x="114.7" y="294.7" text-anchor="middle">5</text>
<text class="tk" x="37.0" y="222.6" text-anchor="end">5</text>
<text class="tk" x="133.6" y="294.7" text-anchor="middle">10</text>
<text class="tk" x="37.0" y="206.1" text-anchor="end">10</text>
<text class="tk" x="152.5" y="294.7" text-anchor="middle">15</text>
<text class="tk" x="37.0" y="189.6" text-anchor="end">15</text>
<text class="al" x="93.2" y="301.8">P<tspan class="sub" dx="-0.4" dy="1.0">1</tspan></text>
<text class="al" style="font-size:6.6px" transform="translate(26.2,241.9) rotate(-90)">K<tspan class="sub" style="font-size:4.6px" dx="-0.2" dy="1.0">23</tspan></text>
<linearGradient id="gA1" x1="0" y1="1" x2="0" y2="0"><stop offset="0.000" stop-color="#4c5ca5"/><stop offset="0.050" stop-color="#5969ae"/><stop offset="0.100" stop-color="#6c7ab9"/><stop offset="0.150" stop-color="#8793c9"/><stop offset="0.200" stop-color="#9da7d5"/><stop offset="0.250" stop-color="#b4bce1"/><stop offset="0.300" stop-color="#c7cde8"/><stop offset="0.350" stop-color="#dbddef"/><stop offset="0.400" stop-color="#eaebf2"/><stop offset="0.450" stop-color="#f2f2f2"/><stop offset="0.500" stop-color="#f3f3f0"/><stop offset="0.550" stop-color="#f8f4ca"/><stop offset="0.600" stop-color="#f7ee9c"/><stop offset="0.650" stop-color="#f6ea84"/><stop offset="0.700" stop-color="#f4df60"/><stop offset="0.750" stop-color="#f1d040"/><stop offset="0.800" stop-color="#eab437"/><stop offset="0.850" stop-color="#e08431"/><stop offset="0.900" stop-color="#d1522d"/><stop offset="0.950" stop-color="#c63a2a"/><stop offset="1.000" stop-color="#bc2828"/></linearGradient>
<rect x="158.9" y="187.6" width="6.0" height="99.0" fill="url(#gA1)" stroke="#000" stroke-opacity="0.3" stroke-width="0.6"/>
<text class="tk" x="166.3" y="286.8">-1</text>
<text class="tk" x="166.3" y="264.8">-0.5</text>
<text class="tk" x="166.3" y="242.8">0</text>
<text class="tk" x="166.3" y="220.8">0.5</text>
<text class="tk" x="166.3" y="198.8">1</text>
<path stroke="#555" stroke-width="0.5" d="M164.9 284.8h-1.2M158.9 284.8h1.2M164.9 262.8h-1.2M158.9 262.8h1.2M164.9 240.8h-1.2M158.9 240.8h1.2M164.9 218.8h-1.2M158.9 218.8h1.2M164.9 196.8h-1.2M158.9 196.8h1.2"/>
</g>
<g>
<clipPath id="cA21"><rect x="198.4" y="187.6" width="113.5" height="99.0"/></clipPath>
<g clip-path="url(#cA21)">
<path fill="#4c5ca5" stroke="#4c5ca5" stroke-width="0.3" d="M237.4 242.8l2.1-0.1 2.4-1 4.9-2.6 1.2-0.9 0.3-0.8-0.3-1.3-1.2-1-7.2-3.6-1.9-0.1-3 1-1.6 1.4-0.8 1.7 0 3.3 0.8 1.6 1.6 1.4 2.5 0.9zM271 242.8l1.9 0 2.7-1 1.6-1.4 0.8-1.6 0-3.3-0.8-1.7-1.6-1.4-3-1-1.9 0.1-4.3 2-3.4 1.9-1 1.4 0.3 1.3 1.2 1 7.3 3.6z"/>
<path fill="#5363aa" stroke="#5363aa" stroke-width="0.3" d="M230.2 245.7l1.1 0.3 2.1-0.3 7.4-3.2 6.4-3.4 1.5-1.7-0.4-1.3-2.2-1.7-5.3-2.7-7.4-3.2-2.1-0.3-2.3 0.6-2.2 1.2-1.3 1.5 0 1.3 1.1 3 0 1.3 0 1.3-1.1 3 0 1.3 1.5 1.7 3 1.3zM237.2 242.7l-2.5-0.9-1.6-1.4-0.8-1.6 0-3.3 0.8-1.7 1.6-1.4 3-1 1.9 0.1 7.2 3.6 1.2 1 0.3 1.3-0.3 0.8-1.2 0.9-4.9 2.6-2.4 1-2.1 0.1zM277.1 245.7l2.3 0.2 1.9-0.5 2.2-1.2 1.3-1.5 0-1.3-1.1-3 0-1.3 0-1.3 1.1-3 0-1.3-1.3-1.5-2.6-1.3-1.9-0.5-2.9 0.6-11.1 5.2-2.3 1.4-1.1 1.4 0.4 1.3 2.2 1.7 5.3 2.7 7.4 3.2zM270.8 242.7l-7.3-3.6-1.2-1-0.3-1.3 1-1.4 3.4-1.9 4.3-2 1.9-0.1 3 1 1.6 1.4 0.8 1.7 0 3.3-0.8 1.6-1.6 1.4-2.7 1-1.9 0z"/>
<path fill="#828ec6" stroke="#828ec6" stroke-width="0.3" d="M207.5 253.3l2.3 0 4.5-1.3 13.2-4.7 5.3-1.1 12.1-5.6 2.7-1.6 1.4-1.9-1.4-1.9-2.7-1.6-12.1-5.6-5.3-1.1-13.2-4.7-4.5-1.3-2.3 0-0.9 1 0 2 2.1 6.3 0.8 3.6 0.1 5.9-0.5 3-2.5 7.6 0 2 0.8 1zM230 245.7l-3-1.3-1.5-1.7 0-1.3 1.1-3 0-1.3 0-1.3-1.1-3 0-1.3 1.3-1.5 2.2-1.2 2.3-0.6 2.1 0.3 7.4 3.2 5.3 2.7 2.2 1.7 0.4 1.3-1.5 1.7-6.4 3.4-7.4 3.2-2.1 0.3-1.1-0.3zM300.5 253.3l2.3 0 0.8-0.7 0.2-0.6-0.1-1.7-2.1-6.3-0.9-3.9 0.1-6.3 0.8-3.6 2.1-6.3 0-2-0.9-1-2.3 0-4.5 1.3-13.2 4.7-5.7 1.2-12.9 6.1-1.9 1.4-1 1.5 1 1.5 1.9 1.4 12.9 6.1 5.7 1.2 13.2 4.7 4.4 1.3zM276.9 245.7l-7.4-3.2-5.3-2.7-2.2-1.7-0.4-1.3 1.1-1.4 2.3-1.4 11.1-5.2 2.9-0.6 1.9 0.5 2.6 1.3 1.3 1.5 0 1.3-1.1 3 0 1.3 0 1.3 1.1 3 0 1.3-1.3 1.5-2.2 1.2-1.9 0.5-2.3-0.2z"/>
<path fill="#b4bce1" stroke="#b4bce1" stroke-width="0.3" d="M244.2 286.6l21.9 0-1.8-3-5.6-6.6-1.7-1-1.8-0.6-1.9 0.6-1.7 1-5.6 6.6-1.8 3zM198.7 261.9l43.6-19.6 4.9-2.7 2-2.4-2-2.4-4.9-2.7-43.9-19.8 0 49.8zM207.4 253.3l-0.8-1 0-2 2.5-7.6 0.5-3-0.1-5.9-0.8-3.6-2.1-6.3 0-2 0.9-1 2.3 0 4.5 1.3 13.2 4.7 5.3 1.1 12.1 5.6 2.7 1.6 1.4 1.9-1.4 1.9-2.7 1.6-12.1 5.6-5.3 1.1-13.2 4.7-4.5 1.3-2.3 0zM311.9 262l0-49.8-43.9 19.8-4.9 2.7-2 2.4 2 2.4 4.9 2.7 43.6 19.6zM300.4 253.3l-4.4-1.3-13.2-4.7-5.7-1.2-12.9-6.1-1.9-1.4-1-1.5 1-1.5 1.9-1.4 12.9-6.1 5.7-1.2 13.2-4.7 4.5-1.3 2.3 0 0.9 1 0 2-2.1 6.3-0.8 3.6-0.1 6.3 0.9 3.9 2.1 6.3 0.1 1.7-0.2 0.6-0.8 0.7-2.3 0zM254 198.6l1.2 0.2 1.1-0.2 2.3-1.3 5.7-6.7 1.8-3-21.9 0 1.8 3 5.4 6.3 1 0.9 1.5 0.7z"/>
<path fill="#dfe1f0" stroke="#dfe1f0" stroke-width="0.3" d="M198.8 286.6l45.4 0 1.8-3 5.6-6.6 1.7-1 1.9-0.6 1.8 0.6 1.7 1 5.6 6.6 1.8 3 45.8 0 0-24.6-43.9-19.8-4.9-2.7-2-2.4 2-2.4 4.9-2.7 43.9-19.8 0-24.6-45.8 0-1.8 3-5.6 6.6-1.7 1-1.8 0.6-1.9-0.6-1.7-1-5.6-6.6-1.8-3-45.8 0 0 24.6 43.9 19.8 4.9 2.7 2 2.4-2 2.4-4.9 2.7-43.9 19.8 0 24.6zM227.5 256.9l-1.1-0.7-0.2-1.3 0.7-1.3 1.4-1.4 10.6-5 8.7-3.6 0.4-0.9 0-3.3 1.3-2.3-1.3-2.3 0-3.3-0.4-0.9-8.3-3.3-10.6-5.1-1.3-0.9-1.1-1.7-0.1-1 0.6-1 1.9-0.3 7.9 1.4 8.7 1 9.9 0.4 10.2-0.4 17.4-2.4 1 0.7 0.2 1.3-0.9 1.6-1.5 1.3-7.9 3.9-11 4.5-0.4 0.9 0 3.3-1.3 2.3 1.3 2.3 0 3.3 0.4 0.9 13.3 5.6 5.6 2.8 1.5 1.3 0.8 1.3 0.1 1-0.6 1-1.8 0.3-7.9-1.4-8.7-1-9.8-0.4-10.3 0.4-17.4 2.4z"/>
<path fill="#f3f3f1" stroke="#f3f3f1" stroke-width="0.3" d="M227.5 256.9l17.4-2.4 10.3-0.4 9.8 0.4 8.7 1 7.9 1.4 1.8-0.3 0.6-1-0.1-1-0.8-1.3-1.5-1.3-5.6-2.8-13.3-5.6-0.4-0.9 0-3.3-1.3-2.3 1.3-2.3 0-3.3 0.4-0.9 11-4.5 7.9-3.9 1.5-1.3 0.9-1.6-0.2-1.3-1-0.7-17.4 2.4-10.2 0.4-9.9-0.4-8.7-1-7.9-1.4-1.9 0.3-0.6 1 0.1 1 1.1 1.7 1.3 0.9 10.6 5.1 8.3 3.3 0.4 0.9 0 3.3 1.3 2.3-1.3 2.3 0 3.3-0.4 0.9-8.7 3.6-10.6 5-1.4 1.4-0.7 1.3 0.2 1.3 1.1 0.7zM252.2 250l-3.9-0.3-1.1-0.4-0.5-0.7 0.1-1.6 1.8-4 0.1-4.2 0.9-1.7-0.9-1.7-0.1-4.2-1.9-4.3 0.1-1.7 1.9-0.8 4.6-0.4 3.7 0 5.7 0.7 0.8 0.5 0.1 1.7-1.9 4.3-0.1 4.2-0.9 1.7 0.9 1.7 0.1 4.2 1.9 4.3-0.1 1.7-1.9 0.8-4.6 0.4-4.5-0.1z"/>
<path fill="#f7efa3" stroke="#f7efa3" stroke-width="0.3" d="M252.5 250.1l4.5 0.1 4.6-0.4 1.9-0.8 0.1-1.7-1.9-4.3-0.1-4.2-0.9-1.7 0.9-1.7 0.1-4.2 1.9-4.3-0.1-1.7-0.8-0.5-5.7-0.7-3.7 0-4.6 0.4-1.9 0.8-0.1 1.7 1.9 4.3 0.1 4.2 0.9 1.7-0.9 1.7-0.1 4.2-1.8 4-0.1 1.6 0.5 0.7 1.1 0.4 3.9 0.3zM252.9 248.3l-1.5-0.2-0.8-0.6-1-1.2-0.4-1.3 0.3-1.1 1.5-0.5 0.5-0.7-0.5-4.9 0.8-0.7-0.8-0.7 0.5-4.9-0.5-0.7-1.7-0.6 0-1.7 0.7-1.3 1.7-1.2 6.9 0 1.8 1.4 0.7 1.8-0.3 1.1-1.5 0.5-0.5 0.7 0.5 4.9-0.8 0.7 0.8 0.7-0.5 4.9 0.5 0.7 1.7 0.6 0 1.7-0.6 1.1-1.5 1.3-1.9 0.3-3.7 0z"/>
<path fill="#f4e164" stroke="#f4e164" stroke-width="0.3" d="M253.3 248.4l3.7 0 1.9-0.3 1.5-1.3 0.6-1.1 0-1.7-1.7-0.6-0.5-0.7 0.5-4.9-0.8-0.7 0.8-0.7-0.5-4.9 0.5-0.7 1.5-0.5 0.3-1.1-0.7-1.8-1.8-1.4-6.9 0-1.7 1.2-0.7 1.3 0 1.7 1.7 0.6 0.5 0.7-0.5 4.9 0.8 0.7-0.8 0.7 0.5 4.9-0.5 0.7-1.5 0.5-0.3 1.1 0.4 1.3 1 1.2 0.8 0.6 1.5 0.2zM254.9 245.7l-0.9-0.7 0.3-1.6-1.5-3.3-0.4-2.3 0.5-0.7-0.5-0.7 0.5-2.6 1.4-3-0.3-1.6 0.8-0.7 0.6 0 0.9 0.7-0.3 1.6 1.5 3.3 0.4 2.3-0.5 0.7 0.5 0.7-0.5 2.6-1.4 3 0.3 1.6-1.1 0.7z"/>
<path fill="#e9af36" stroke="#e9af36" stroke-width="0.3" d="M255.1 245.7l1.1-0.7-0.3-1.6 1.4-3 0.5-2.6-0.5-0.7 0.5-0.7-0.4-2.3-1.5-3.3 0.3-1.6-0.9-0.7-0.6 0-0.8 0.7 0.3 1.6-1.4 3-0.5 2.6 0.5 0.7-0.5 0.7 0.4 2.3 1.5 3.3-0.3 1.6 0.9 0.7zM255.1 240.7l-0.7-0.3-0.6-1-0.4-1.6 0.6-0.7-0.6-0.7 0.6-2.1 1.2-0.8 1.1 0.8 0.6 2.1-0.6 0.7 0.6 0.7-0.4 1.6-0.6 1-0.7 0.3z"/>
<path fill="#cd462c" stroke="#cd462c" stroke-width="0.3" d="M255.2 240.7l0.7-0.3 0.6-1 0.4-1.6-0.6-0.7 0.6-0.7-0.6-2.1-1.1-0.8-1.2 0.8-0.6 2.1 0.6 0.7-0.6 0.7 0.4 1.6 0.6 1 0.7 0.3z"/>
<path fill="none" stroke="#000" stroke-opacity="0.55" stroke-width="0.5" d="M237.4 242.8l-2.7-1-1.6-1.4-0.8-1.6 0-3.3 0.8-1.7 1.6-1.4 3-1 1.8 0.1 7.3 3.6 1.2 1 0.3 1.3-1 1.4-3.4 1.9-4.3 2-1.9 0.1M271 242.8l-7.5-3.7-1.2-1-0.3-1.3 1-1.4 3.4-1.9 4.3-2 1.9-0.1 3 1 1.6 1.4 0.8 1.7 0 3.3-0.8 1.6-1.5 1.3-2.8 1.1-1.5 0M230.2 245.7l-3.2-1.3-1.5-1.7 0-1.3 1.1-3 0-1.3 0-1.3-1.1-3 0-1.3 1.3-1.5 2.2-1.2 1.9-0.5 2.3 0.2 12.9 5.9 1.9 1.4 0.7 1.5-1.5 1.8-5.7 3-8.1 3.6-2.8 0.2M277.1 245.7l-12.9-5.9-2.2-1.7-0.4-1.2 1.5-1.8 5.7-3 8.1-3.6 2.8-0.2 3.4 1.5 1.6 1.4 0.1 1.6-1.1 3 0 2 1.1 3.6 0 1.3-1.3 1.5-2.2 1.2-1.9 0.5-1.9-0.1M207.5 253.3l-0.9-1 0-2 2.9-9.9 0.1-6.3-0.9-3.9-2.1-6.3-0.1-1.7 0.2-0.6 0.8-0.7 2.3 0 17.7 6 5.7 1.2 12.9 6.1 1.9 1.4 1 1.5-1 1.5-1.9 1.4-12.9 6.1-5.7 1.2-16.6 5.7-3 0.4M300.5 253.3l-17.7-6-5.7-1.2-12.9-6.1-1.9-1.4-1-1.5 1-1.5 1.9-1.4 12.9-6.1 5.7-1.2 16.6-5.7 3-0.4 1.2 0.8 0.1 2.3-2.9 9.9-0.1 6.3 0.9 3.9 2.1 6.3 0.1 1.7-0.2 0.6-0.8 0.7-1.9 0.1M244.2 286.6l1.8-3 5.6-6.6 1.7-1 1.9-0.6 1.8 0.6 1.7 1 5.6 6.6 1.8 3M311.9 262l-43.9-19.8-4.9-2.7-2-2.4 2-2.4 4.9-2.7 43.9-19.8M198.4 212.2l43.9 19.8 4.9 2.7 2 2.4-2 2.4-4.9 2.7-43.9 19.8M266.1 187.6l-1.8 3-5.6 6.6-1.7 1-1.8 0.6-1.9-0.6-1.7-1-5.6-6.6-1.8-3M227.5 256.9l17.4-2.4 10.3-0.4 9.8 0.4 16.6 2.4 1.8-0.3 0.6-1-0.1-1-0.8-1.3-1.5-1.3-18.9-8.4-0.4-0.9 0-3.3-1.3-2.3 1.3-2.3 0-3.3 0.4-0.9 11-4.5 7.9-3.9 1.5-1.3 0.9-1.6-0.2-1.3-1-0.7-17.4 2.4-10.2 0.4-9.9-0.4-16.6-2.4-1.9 0.3-0.6 1 0.1 1 1.1 1.7 1.3 0.9 10.6 5.1 8.3 3.3 0.4 0.9 0 3.3 1.3 2.3-1.3 2.3 0 3.3-0.4 0.9-8.7 3.6-10.6 5-1.4 1.4-0.7 1.3 0.2 1.3 1.1 0.7M252.5 250.1l9.1-0.3 1.9-0.8 0.1-1.7-1.9-4.3-0.1-4.2-0.9-1.7 0.9-1.7 0.1-4.2 1.9-4.3-0.1-1.7-0.8-0.5-5.7-0.7-3.7 0-4.6 0.4-1.9 0.8-0.1 1.7 1.9 4.3 0.1 4.2 0.9 1.7-0.9 1.7-0.1 4.2-1.8 4-0.1 1.6 0.5 0.7 1.1 0.4 3.9 0.3M253.3 248.4l5.6-0.3 1.5-1.3 0.6-1.1 0-1.7-1.7-0.6-0.5-0.7 0.5-4.9-0.8-0.7 0.8-0.7-0.5-4.9 0.5-0.7 1.5-0.5 0.3-1.1-0.7-1.8-1.8-1.4-6.9 0-1.7 1.2-0.7 1.3 0 1.7 1.7 0.6 0.5 0.7-0.5 4.9 0.8 0.7-0.8 0.7 0.5 4.9-0.5 0.7-1.5 0.5-0.3 1.1 0.4 1.3 1 1.2 0.8 0.6 1.5 0.2M255.1 245.7l1.1-0.7-0.3-1.6 1.4-3 0.5-2.6-0.5-0.7 0.5-0.7-0.4-2.3-1.5-3.3 0.3-1.6-0.9-0.7-0.6 0-0.8 0.7 0.3 1.6-1.4 3-0.5 2.6 0.5 0.7-0.5 0.7 0.4 2.3 1.5 3.3-0.3 1.6 0.9 0.7M255.2 240.7l0.7-0.3 0.6-1 0.4-1.6-0.6-0.7 0.6-0.7-0.6-2.1-1.1-0.8-1.2 0.8-0.6 2.1 0.6 0.7-0.6 0.7 0.4 1.6 0.6 1 0.7 0.3"/>
<path fill="none" stroke="#1e1e1e" stroke-width="1.3" stroke-dasharray="3.6 2.2" d="M194.3 263.8l46.7-21 6.2-3.4 1.7-1.3 0.4-1-0.4-1-1.7-1.3-6.2-3.4-46.7-21"/>
<path fill="none" stroke="#1e1e1e" stroke-width="1.3" stroke-dasharray="3.6 2.2" d="M316 263.8l-46.7-21-6.2-3.4-1.7-1.3-0.4-1 0.4-1 1.7-1.3 6.2-3.4 46.7-21"/>
</g>
<rect x="198.4" y="187.6" width="113.5" height="99.0" fill="none" stroke="#000" stroke-opacity="0.33" stroke-width="0.8"/>
<path stroke="#777" stroke-width="0.5" d="M198.4 286.6v-1.2M198.4 187.6v1.2M198.4 286.6h1.2M311.9 286.6h-1.2M217.3 286.6v-1.2M217.3 187.6v1.2M198.4 270.1h1.2M311.9 270.1h-1.2M236.2 286.6v-1.2M236.2 187.6v1.2M198.4 253.6h1.2M311.9 253.6h-1.2M255.1 286.6v-1.2M255.1 187.6v1.2M198.4 237.1h1.2M311.9 237.1h-1.2M274.1 286.6v-1.2M274.1 187.6v1.2M198.4 220.6h1.2M311.9 220.6h-1.2M293.0 286.6v-1.2M293.0 187.6v1.2M198.4 204.1h1.2M311.9 204.1h-1.2M311.9 286.6v-1.2M311.9 187.6v1.2M198.4 187.6h1.2M311.9 187.6h-1.2"/>
<text class="tk" x="198.4" y="294.7" text-anchor="middle">-15</text>
<text class="tk" x="196.2" y="288.6" text-anchor="end">-15</text>
<text class="tk" x="217.3" y="294.7" text-anchor="middle">-10</text>
<text class="tk" x="196.2" y="272.1" text-anchor="end">-10</text>
<text class="tk" x="236.2" y="294.7" text-anchor="middle">-5</text>
<text class="tk" x="196.2" y="255.6" text-anchor="end">-5</text>
<text class="tk" x="255.1" y="294.7" text-anchor="middle">0</text>
<text class="tk" x="196.2" y="239.1" text-anchor="end">0</text>
<text class="tk" x="274.1" y="294.7" text-anchor="middle">5</text>
<text class="tk" x="196.2" y="222.6" text-anchor="end">5</text>
<text class="tk" x="293.0" y="294.7" text-anchor="middle">10</text>
<text class="tk" x="196.2" y="206.1" text-anchor="end">10</text>
<text class="tk" x="311.9" y="294.7" text-anchor="middle">15</text>
<text class="tk" x="196.2" y="189.6" text-anchor="end">15</text>
<text class="al" x="252.5" y="301.8">P<tspan class="sub" dx="-0.4" dy="1.0">1</tspan></text>
<text class="al" style="font-size:6.6px" transform="translate(185.4,241.9) rotate(-90)">K<tspan class="sub" style="font-size:4.6px" dx="-0.2" dy="1.0">23</tspan></text>
<linearGradient id="gA21" x1="0" y1="1" x2="0" y2="0"><stop offset="0.000" stop-color="#4c5ca5"/><stop offset="0.050" stop-color="#5969ae"/><stop offset="0.100" stop-color="#6c7ab9"/><stop offset="0.150" stop-color="#8793c9"/><stop offset="0.200" stop-color="#9da7d5"/><stop offset="0.250" stop-color="#b4bce1"/><stop offset="0.300" stop-color="#c7cde8"/><stop offset="0.350" stop-color="#dbddef"/><stop offset="0.400" stop-color="#eaebf2"/><stop offset="0.450" stop-color="#f2f2f2"/><stop offset="0.500" stop-color="#f3f3f0"/><stop offset="0.550" stop-color="#f8f4ca"/><stop offset="0.600" stop-color="#f7ee9c"/><stop offset="0.650" stop-color="#f6ea84"/><stop offset="0.700" stop-color="#f4df60"/><stop offset="0.750" stop-color="#f1d040"/><stop offset="0.800" stop-color="#eab437"/><stop offset="0.850" stop-color="#e08431"/><stop offset="0.900" stop-color="#d1522d"/><stop offset="0.950" stop-color="#c63a2a"/><stop offset="1.000" stop-color="#bc2828"/></linearGradient>
<rect x="318.1" y="187.6" width="6.7" height="99.0" fill="url(#gA21)" stroke="#000" stroke-opacity="0.3" stroke-width="0.6"/>
<text class="tk" x="326.2" y="285.9">-0.6</text>
<text class="tk" x="326.2" y="274.9">-0.4</text>
<text class="tk" x="326.2" y="263.9">-0.2</text>
<text class="tk" x="326.2" y="252.9">0</text>
<text class="tk" x="326.2" y="241.9">0.2</text>
<text class="tk" x="326.2" y="230.8">0.4</text>
<text class="tk" x="326.2" y="219.8">0.6</text>
<text class="tk" x="326.2" y="208.8">0.8</text>
<text class="tk" x="326.2" y="197.8">1</text>
<path stroke="#555" stroke-width="0.5" d="M324.8 283.9h-1.2M318.1 283.9h1.2M324.8 272.9h-1.2M318.1 272.9h1.2M324.8 261.9h-1.2M318.1 261.9h1.2M324.8 250.9h-1.2M318.1 250.9h1.2M324.8 239.9h-1.2M318.1 239.9h1.2M324.8 228.8h-1.2M318.1 228.8h1.2M324.8 217.8h-1.2M318.1 217.8h1.2M324.8 206.8h-1.2M318.1 206.8h1.2M324.8 195.8h-1.2M318.1 195.8h1.2"/>
</g>
<g>
<clipPath id="cA2"><rect x="39.0" y="323.1" width="113.2" height="98.8"/></clipPath>
<g clip-path="url(#cA2)">
<path fill="#4f5fa7" stroke="#4f5fa7" stroke-width="0.3" d="M94.1 393.9l2.3 0.2 2.2-0.8 1.7-1.4 1.2-1.9 0.5-2.7-0.4-2.6-1.1-2-1.7-1-3.2-0.3-3.2 0.3-1.7 1-1 1.7-0.5 2.9 0.7 3 1.7 2.3 2.4 1.3zM92.6 363.3l3.4 0.3 3-0.4 1.5-0.9 1.1-2 0.4-2.9-0.8-3-1.8-2.2-2.7-1.2-2.2 0-2 0.8-1.8 1.5-1.1 2.1-0.4 2.6 0.4 2.3 1.1 2 1.7 1z"/>
<path fill="#6271b4" stroke="#6271b4" stroke-width="0.3" d="M39.4 421.9l112.8 0 0-98.8-113.2 0 0 98.8zM94 393.9l-2.4-1.3-1.7-2.3-0.7-3 0.5-2.9 1-1.7 1.7-1 3.2-0.3 3.2 0.3 1.7 1 1.1 2 0.4 2.6-0.5 2.7-1.2 1.9-1.7 1.4-2.2 0.8-2.3-0.2zM87.7 380.1l-3.4-1-1.1-1-0.4-1-0.2-8.2 0.3-1.3 0.6-1.1 1.9-1.1 2.7-0.5 15.4 0 3.4 1 1.1 1 0.4 1 0.2 8.2-0.3 1.3-0.6 1.1-1.9 1.1-2.7 0.5-15 0zM92.4 363.3l-1.7-1-1.1-2-0.4-2.3 0.4-2.6 1.1-2.1 1.8-1.5 2-0.8 2.2 0 2.7 1.2 1.8 2.2 0.8 3-0.4 2.9-1.1 2-1.5 0.9-3 0.4-3.4-0.3z"/>
<path fill="#8995ca" stroke="#8995ca" stroke-width="0.3" d="M88.1 380.1l15 0 2.7-0.5 1.9-1.1 0.6-1.1 0.3-1.3-0.2-8.2-0.4-1-1.1-1-3.4-1-15.4 0-2.7 0.5-1.9 1.1-0.6 1.1-0.3 1.3 0.2 8.2 0.4 1 1.1 1 3.4 1zM91.6 379.4l-4.3-0.6-1.3-0.7-0.8-1-0.5-2.3 0.1-5.3 0.4-1.6 1.3-1.3 2.3-0.7 5.7-0.5 5.1 0.2 4.3 0.6 1.3 0.7 0.8 1 0.5 2.3-0.1 5.3-0.4 1.6-1.3 1.3-2.3 0.7-5.7 0.5-4.9-0.2z"/>
<path fill="#aab2db" stroke="#aab2db" stroke-width="0.3" d="M91.8 379.4l4.9 0.2 5.7-0.5 2.3-0.7 1.3-1.3 0.4-1.6 0.1-5.3-0.5-2.3-0.8-1-1.3-0.7-4.5-0.6-4.9-0.2-5.7 0.5-2.3 0.7-1.3 1.3-0.5 2.3 0.1 5.3 0.4 1.6 0.8 1 1.3 0.7 4.3 0.6zM92.4 378.8l-3.6-0.9-1.6-1.4-0.4-1.4-0.1-2.6 0.1-2.6 0.4-1.4 1.3-1.3 2.2-0.7 4.1-0.5 3.8 0.2 3.8 0.9 1.6 1.4 0.4 1.4 0.1 2.6-0.1 2.6-0.4 1.4-1.3 1.3-2.2 0.7-4.1 0.5-3.8-0.2z"/>
<path fill="#c7cce8" stroke="#c7cce8" stroke-width="0.3" d="M92.6 378.8l3.8 0.2 4.1-0.5 2.2-0.7 1.3-1.3 0.4-1.4 0.1-2.6-0.1-2.6-0.4-1.4-1.6-1.4-3.6-0.9-4-0.2-4.1 0.5-2.2 0.7-1.3 1.3-0.4 1.4-0.1 2.6 0.1 2.6 0.4 1.4 1.6 1.4 3.6 0.9zM92.8 378.1l-2.6-1-1.4-1.6-0.4-3.3 0.6-3 1.2-1.3 2.4-1 2.6-0.3 3 0.3 2.7 0.9 1.3 1.4 0.6 3.3-0.6 3.3-1.2 1.3-2.4 1-2.6 0.3-3-0.3z"/>
<path fill="#e2e3f0" stroke="#e2e3f0" stroke-width="0.3" d="M93 378.1l3 0.3 2.6-0.3 2.4-1 1.2-1.3 0.6-3-0.4-3.3-1.4-1.6-2.6-1-2.8-0.3-3 0.3-2.4 1-1.2 1.3-0.6 3 0.4 3.3 1.4 1.6 2.6 1zM94.6 377.8l-2.4-0.7-1.7-1.3-0.8-2 0-2.6 0.6-1.7 1.3-1.3 2.1-0.8 2.7-0.2 2.6 0.7 1.7 1.3 0.8 2 0 2.3-0.6 2-1.3 1.3-2.1 0.8-2.7 0.2z"/>
<path fill="#f2f2f2" stroke="#f2f2f2" stroke-width="0.3" d="M94.8 377.8l2.7-0.2 2.1-0.8 1.3-1.3 0.6-2 0-2.3-0.8-2-1.7-1.3-2.6-0.7-2.7 0.2-2.1 0.8-1.3 1.3-0.6 1.7 0 2.6 0.8 2 1.7 1.3 2.4 0.7zM94.2 377.1l-1.7-0.6-1.3-1.4-0.7-1.9 0.2-2 0.7-1.7 1.2-1 1.9-0.7 2.2 0 2 0.7 1.3 1.4 0.7 1.9-0.2 2-0.7 1.7-1.2 1-1.9 0.7-2.2 0z"/>
<path fill="#f5f4e6" stroke="#f5f4e6" stroke-width="0.3" d="M94.5 377.2l2.2 0 1.9-0.7 1.2-1 0.7-1.7 0.2-2-0.7-1.9-1.3-1.4-1.7-0.6-2.2-0.1-1.8 0.5-1.3 0.9-1 1.7-0.2 1.9 0.6 2.1 1.1 1.3 2 0.9zM94 376.5l-1.4-0.8-0.9-1.2-0.5-2 0.3-1.6 0.9-1.4 1.3-0.9 1.5-0.3 1.9 0.2 1.5 0.8 0.9 1.2 0.5 2-0.3 1.6-0.9 1.4-1.3 0.9-1.5 0.3-1.9-0.2z"/>
<path fill="#f7efa2" stroke="#f7efa2" stroke-width="0.3" d="M94.1 376.5l1.9 0.2 1.5-0.3 1.3-0.9 0.9-1.4 0.3-1.6-0.5-2-0.9-1.2-1.4-0.8-1.6-0.2-1.9 0.3-1.3 0.9-0.9 1.4-0.3 1.6 0.5 2 0.9 1.2 1.4 0.8zM94.9 376.1l-1.2-0.4-1.1-1-0.6-1.2-0.1-1.7 0.5-1.3 0.9-1 1.2-0.5 1.5-0.2 1.5 0.5 1.1 0.9 0.6 1.3 0.1 1.3-0.5 1.7-0.9 1-1.2 0.5-1.5 0.2z"/>
<path fill="#f6e980" stroke="#f6e980" stroke-width="0.3" d="M95.2 376.2l1.5-0.2 1.2-0.5 0.9-1 0.5-1.3-0.1-1.7-0.6-1.2-1.1-1-1.2-0.4-1.5 0-1.5 0.6-0.9 1-0.5 1.3 0.1 1.7 0.6 1.2 1.1 1 1.2 0.4zM94.5 375.5l-1.1-0.7-0.7-1-0.3-1.3 0.2-1 0.5-1 1-0.8 1.1-0.3 1.5 0.1 1.1 0.7 0.7 1 0.3 1.3-0.2 1-0.5 1-1 0.8-1.1 0.3-1.2 0z"/>
<path fill="#f2d84a" stroke="#f2d84a" stroke-width="0.3" d="M94.8 375.6l1.2 0 1.1-0.3 1-0.8 0.5-1 0.2-1-0.3-1.3-0.7-1-1.1-0.7-1.5-0.1-1.1 0.3-1 0.8-0.5 1-0.2 1 0.3 1.3 0.7 1 1.1 0.7zM94.4 374.8l-0.8-0.7-0.5-0.9 0.2-2 1.5-1.2 1.9 0.1 0.9 0.8 0.5 0.9-0.2 2-1.5 1.2-1.9-0.1z"/>
<path fill="#eab237" stroke="#eab237" stroke-width="0.3" d="M94.5 374.9l1.9 0.1 1.5-1.2 0.2-2-0.5-0.9-0.9-0.8-1.9-0.1-1.5 1.2-0.2 2 0.5 0.9 0.8 0.7zM95.2 374.5l-1.1-0.7-0.5-1.6 0.9-1.3 1.1-0.4 1.5 0.7 0.5 1.3-0.5 1.3-1.5 0.7z"/>
<path fill="#da6c2f" stroke="#da6c2f" stroke-width="0.3" d="M95.6 374.5l1.5-0.7 0.5-1.3-0.5-1.3-1.5-0.7-1.1 0.4-0.9 1.3 0.5 1.6 1.1 0.7zM94.8 373.5l-0.4-0.7 0.1-1 0.7-0.5 1.2 0.2 0.4 0.7-0.1 1-0.7 0.5-1.2-0.2z"/>
<path fill="#c73b2a" stroke="#c73b2a" stroke-width="0.3" d="M94.8 373.5l1.2 0.2 0.7-0.5 0.1-1-0.4-0.7-1.2-0.2-0.7 0.5-0.1 1 0.4 0.7z"/>
<path fill="none" stroke="#000" stroke-opacity="0.55" stroke-width="0.5" d="M94.1 393.9l-2.5-1.3-1.7-2.3-0.7-3 0.5-2.9 1-1.7 1.7-1 4-0.3 3 0.5 1.3 1.1 1.1 2.3 0.2 2.7-0.7 2.3-1.2 1.8-1.9 1.4-1.8 0.6-2.3-0.2M92.6 363.3l-1.9-1-1.1-2-0.4-2.3 0.4-2.6 1.1-2.1 1.8-1.5 2-0.8 2.2 0 2.7 1.2 1.8 2.2 0.8 2.6-0.3 3-1 2-1.3 1.1-2.7 0.5-3.7-0.2M88.1 380.1l15 0 2.7-0.5 1.9-1.1 0.9-2.4-0.2-8.2-1.5-2-3.4-1-15.4 0-2.7 0.5-1.9 1.1-0.9 2.4 0.2 8.2 1.5 2 3.4 1M91.8 379.4l4.9 0.2 5.7-0.5 2.3-0.7 1.3-1.3 0.4-1.6 0.1-5.3-0.5-2.3-0.8-1-1.3-0.7-4.5-0.6-4.9-0.2-5.7 0.5-2.3 0.7-1.3 1.3-0.5 2.3 0.1 5.3 0.4 1.6 0.8 1 1.3 0.7 4.3 0.6M92.6 378.8l3.8 0.2 4.1-0.5 2.2-0.7 1.3-1.3 0.5-4-0.5-4-1.6-1.4-3.6-0.9-4-0.2-4.1 0.5-2.2 0.7-1.3 1.3-0.5 4 0.5 4 1.6 1.4 3.6 0.9M93 378.1l3 0.3 2.6-0.3 2.4-1 1.2-1.3 0.6-3-0.4-3.3-1.4-1.6-2.6-1-2.8-0.3-3 0.3-2.4 1-1.2 1.3-0.6 3 0.4 3.3 1.4 1.6 2.6 1M94.8 377.8l2.7-0.2 2.1-0.8 1.3-1.3 0.6-2 0-2.3-0.8-2-1.7-1.3-2.6-0.7-2.7 0.2-2.1 0.8-1.3 1.3-0.6 1.7 0 2.6 0.8 2 1.7 1.3 2.4 0.7M94.5 377.2l2.2 0 1.9-0.7 1.2-1 0.7-1.7 0.2-2-0.7-1.9-1.3-1.4-1.7-0.6-2.2-0.1-1.8 0.5-1.3 0.9-1 1.7-0.2 1.9 0.6 2.1 1.1 1.3 2 0.9M94.1 376.5l1.9 0.2 1.5-0.3 1.3-0.9 0.9-1.4 0.3-1.6-0.5-2-0.9-1.2-1.4-0.8-1.6-0.2-1.9 0.3-1.3 0.9-0.9 1.4-0.3 1.6 0.5 2 0.9 1.2 1.4 0.8M95.2 376.2l2.7-0.7 0.9-1 0.5-1.3-0.1-1.7-0.6-1.2-1.1-1-1.2-0.4-1.5 0-1.5 0.6-0.9 1-0.5 1.3 0.1 1.7 0.6 1.2 1.1 1 1.2 0.4M94.8 375.6l2.3-0.3 1.5-1.8-0.1-2.3-0.7-1-1.1-0.7-1.5-0.1-1.1 0.3-1.5 1.8 0.1 2.3 0.7 1 1.1 0.7M94.5 374.9l1.9 0.1 1.5-1.2 0.2-2-1.4-1.7-1.9-0.1-1.5 1.2-0.2 2 1.3 1.6M95.6 374.5l1.5-0.7 0.5-1.3-0.5-1.3-1.5-0.7-1.1 0.4-0.9 1.3 0.5 1.6 1.1 0.7M94.8 373.5l1.2 0.2 0.7-0.5 0.1-1-0.4-0.7-1.2-0.2-0.7 0.5-0.1 1 0.4 0.7"/>
<path fill="none" stroke="#1e1e1e" stroke-width="1.3" stroke-dasharray="3.6 2.2" d="M36.7 338.9l38.9 17.1-0.8-34.9"/>
<path fill="none" stroke="#1e1e1e" stroke-width="1.3" stroke-dasharray="3.6 2.2" d="M154.5 338.9l-38.9 17.1 0.8-34.9"/>
<path fill="none" stroke="#1e1e1e" stroke-width="1.3" stroke-dasharray="3.6 2.2" d="M36.7 406.1l38.9-17.1-0.8 34.9"/>
<path fill="none" stroke="#1e1e1e" stroke-width="1.3" stroke-dasharray="3.6 2.2" d="M154.5 406.1l-38.9-17.1 0.8 34.9"/>
<path fill="none" stroke="#1e1e1e" stroke-width="1.3" stroke-dasharray="3.6 2.2" d="M36.7 355.4l35.3 17.1-35.3 17.1"/>
<path fill="none" stroke="#1e1e1e" stroke-width="1.3" stroke-dasharray="3.6 2.2" d="M154.5 355.4l-35.3 17.1 35.3 17.1"/>
<path fill="none" stroke="#1e1e1e" stroke-width="1.3" stroke-dasharray="3.6 2.2" d="M95.6 365.3l-9.4-1.1-5.3-1.2-0.1 0.4 1.5 3.9 0.3 5.2"/>
<path fill="none" stroke="#1e1e1e" stroke-width="1.3" stroke-dasharray="3.6 2.2" d="M95.6 365.3l9.4-1.1 5.3-1.2 0.1 0.4-1.5 3.9-0.3 5.2"/>
<path fill="none" stroke="#1e1e1e" stroke-width="1.3" stroke-dasharray="3.6 2.2" d="M95.6 379.7l-9.4 1.1-5.3 1.2-0.1-0.4 1.5-3.9 0.3-5.2"/>
<path fill="none" stroke="#1e1e1e" stroke-width="1.3" stroke-dasharray="3.6 2.2" d="M95.6 379.7l9.4 1.1 5.3 1.2 0.1-0.4-1.5-3.9-0.3-5.2"/>
</g>
<rect x="39.0" y="323.1" width="113.2" height="98.8" fill="none" stroke="#000" stroke-opacity="0.33" stroke-width="0.8"/>
<path stroke="#777" stroke-width="0.5" d="M39.0 421.9v-1.2M39.0 323.1v1.2M39.0 421.9h1.2M152.2 421.9h-1.2M57.9 421.9v-1.2M57.9 323.1v1.2M39.0 405.4h1.2M152.2 405.4h-1.2M76.7 421.9v-1.2M76.7 323.1v1.2M39.0 389.0h1.2M152.2 389.0h-1.2M95.6 421.9v-1.2M95.6 323.1v1.2M39.0 372.5h1.2M152.2 372.5h-1.2M114.5 421.9v-1.2M114.5 323.1v1.2M39.0 356.0h1.2M152.2 356.0h-1.2M133.3 421.9v-1.2M133.3 323.1v1.2M39.0 339.6h1.2M152.2 339.6h-1.2M152.2 421.9v-1.2M152.2 323.1v1.2M39.0 323.1h1.2M152.2 323.1h-1.2"/>
<text class="tk" x="39.0" y="430.0" text-anchor="middle">-15</text>
<text class="tk" x="36.8" y="423.9" text-anchor="end">-15</text>
<text class="tk" x="57.9" y="430.0" text-anchor="middle">-10</text>
<text class="tk" x="36.8" y="407.4" text-anchor="end">-10</text>
<text class="tk" x="76.7" y="430.0" text-anchor="middle">-5</text>
<text class="tk" x="36.8" y="391.0" text-anchor="end">-5</text>
<text class="tk" x="95.6" y="430.0" text-anchor="middle">0</text>
<text class="tk" x="36.8" y="374.5" text-anchor="end">0</text>
<text class="tk" x="114.5" y="430.0" text-anchor="middle">5</text>
<text class="tk" x="36.8" y="358.0" text-anchor="end">5</text>
<text class="tk" x="133.3" y="430.0" text-anchor="middle">10</text>
<text class="tk" x="36.8" y="341.6" text-anchor="end">10</text>
<text class="tk" x="152.2" y="430.0" text-anchor="middle">15</text>
<text class="tk" x="36.8" y="325.1" text-anchor="end">15</text>
<text class="al" x="93.0" y="437.1">P<tspan class="sub" dx="-0.4" dy="1.0">1</tspan></text>
<text class="al" style="font-size:6.6px" transform="translate(26.0,377.3) rotate(-90)">K<tspan class="sub" style="font-size:4.6px" dx="-0.2" dy="1.0">23</tspan></text>
<linearGradient id="gA2" x1="0" y1="1" x2="0" y2="0"><stop offset="0.000" stop-color="#4c5ca5"/><stop offset="0.050" stop-color="#5969ae"/><stop offset="0.100" stop-color="#6c7ab9"/><stop offset="0.150" stop-color="#8793c9"/><stop offset="0.200" stop-color="#9da7d5"/><stop offset="0.250" stop-color="#b4bce1"/><stop offset="0.300" stop-color="#c7cde8"/><stop offset="0.350" stop-color="#dbddef"/><stop offset="0.400" stop-color="#eaebf2"/><stop offset="0.450" stop-color="#f2f2f2"/><stop offset="0.500" stop-color="#f3f3f0"/><stop offset="0.550" stop-color="#f8f4ca"/><stop offset="0.600" stop-color="#f7ee9c"/><stop offset="0.650" stop-color="#f6ea84"/><stop offset="0.700" stop-color="#f4df60"/><stop offset="0.750" stop-color="#f1d040"/><stop offset="0.800" stop-color="#eab437"/><stop offset="0.850" stop-color="#e08431"/><stop offset="0.900" stop-color="#d1522d"/><stop offset="0.950" stop-color="#c63a2a"/><stop offset="1.000" stop-color="#bc2828"/></linearGradient>
<rect x="158.9" y="323.1" width="6.0" height="98.8" fill="url(#gA2)" stroke="#000" stroke-opacity="0.3" stroke-width="0.6"/>
<text class="tk" x="166.3" y="422.8">-0.5</text>
<text class="tk" x="166.3" y="408.6">0</text>
<text class="tk" x="166.3" y="394.4">0.5</text>
<text class="tk" x="166.3" y="380.2">1</text>
<text class="tk" x="166.3" y="366.0">1.5</text>
<text class="tk" x="166.3" y="351.8">2</text>
<text class="tk" x="166.3" y="337.6">2.5</text>
<path stroke="#555" stroke-width="0.5" d="M164.9 420.8h-1.2M158.9 420.8h1.2M164.9 406.6h-1.2M158.9 406.6h1.2M164.9 392.4h-1.2M158.9 392.4h1.2M164.9 378.2h-1.2M158.9 378.2h1.2M164.9 364.0h-1.2M158.9 364.0h1.2M164.9 349.8h-1.2M158.9 349.8h1.2M164.9 335.6h-1.2M158.9 335.6h1.2"/>
</g>
<g>
<clipPath id="cA22"><rect x="198.9" y="322.9" width="114.4" height="99.6"/></clipPath>
<g clip-path="url(#cA22)">
<path fill="#4c5ca5" stroke="#4c5ca5" stroke-width="0.3" d="M199.3 422.5l114 0 0-99.6-114.4 0 0 99.6zM246.3 387.6l-4.3-0.5-3.1-0.9-2.2-1.6-1.6-2.3-0.6-3.3 0.9-6.6-0.9-6.7 0.5-2.3 0.8-1.7 1.2-1.3 1.9-1.2 5-1.2 11.4-0.6 11.1 0.4 4.2 0.6 3 1 2.3 1.7 1.3 2.3 0.5 3.3-0.9 6.3 0.9 6.7-0.5 2.3-0.8 1.7-1.2 1.3-1.9 1.2-5 1.2-11.4 0.6-10.3-0.3z"/>
<path fill="#5665ac" stroke="#5665ac" stroke-width="0.3" d="M246.6 387.7l10.3 0.3 11.4-0.6 5-1.2 1.9-1.2 1.2-1.3 0.8-1.7 0.5-2.3-0.9-6.7 0.9-6.3-0.5-3.3-1.3-2.3-2.3-1.7-3-1-4.2-0.6-11.1-0.4-11.4 0.6-5 1.2-1.9 1.2-1.2 1.3-0.8 1.7-0.5 2.3 0.9 6.7-0.9 6.6 0.6 3.3 1.6 2.3 2.2 1.6 3.1 0.9 4.3 0.5zM253.6 384.3l-8.6-1.3-2.2-1-1.4-1.3-0.8-2.7 0.5-5.3-0.4-6.3 0.5-1.3 0.8-1.1 1.3-0.9 1.7-0.7 8.8-1.3 5 0 8.4 1.3 2.2 1 1.4 1.3 0.8 2.7-0.5 5.3 0.4 6.3-0.5 1.3-0.8 1.1-1.3 0.9-1.7 0.7-8.8 1.3-4.6 0z"/>
<path fill="#818dc5" stroke="#818dc5" stroke-width="0.3" d="M253.8 384.3l4.6 0 8.8-1.3 1.7-0.7 1.3-0.9 0.8-1.1 0.5-1.3-0.4-6.3 0.5-5.3-0.8-2.7-1.4-1.3-2.2-1-8.4-1.3-5 0-8.8 1.3-1.7 0.7-1.3 0.9-0.8 1.1-0.5 1.3 0.4 6.3-0.5 5.3 0.8 2.7 1.4 1.3 2.2 1 8.6 1.3zM254 382.3l-4.4-1.6-1.8-1.4-1.1-1.3-0.6-2.6 0.2-7 0.6-1.3 0.9-1 3.3-2.1 3.9-1.1 3.4 0.2 2.3 0.7 2.4 1.3 1.3 1 1.1 1.3 0.6 2.6-0.2 6.7-1.1 2.3-3.4 2.2-3.8 1.2-3.4 0z"/>
<path fill="#aeb7de" stroke="#aeb7de" stroke-width="0.3" d="M254.2 382.4l3.4 0 3.8-1.2 3.4-2.2 1.1-2.3 0.2-6.7-0.6-2.6-1.1-1.3-1.3-1-2.4-1.3-2.3-0.7-3.4-0.2-3.9 1.1-3.3 2.1-0.9 1-0.6 1.3-0.2 7 0.6 2.6 1.1 1.3 1.8 1.4 4.4 1.6zM255.2 381l-2.9-1.1-2.1-2.2-1-3-0.1-3.7 0.9-2.9 1.9-2.3 2.7-1.3 2.6-0.1 2.7 1.1 2.1 2.2 1 3 0.1 3.3-0.7 3-1.8 2.3-2.6 1.5-2.7 0.2z"/>
<path fill="#d6d9ed" stroke="#d6d9ed" stroke-width="0.3" d="M255.3 381l2.7-0.2 2.6-1.5 1.8-2.3 0.7-3-0.1-3.3-1-3-2.1-2.2-2.7-1.1-2.6 0.1-2.7 1.3-1.9 2.3-0.9 2.9 0.1 3.7 1 3 2.1 2.2 2.9 1.1zM254.8 379.7l-2.1-1.2-1.4-1.8-0.8-2.7 0.1-3.3 0.8-2.3 1.6-1.8 2.3-1 2.3 0.2 2.1 1.3 1.4 1.9 0.7 2.7-0.2 3-0.8 2.3-1.6 1.8-2 0.9-2.2 0z"/>
<path fill="#f2f2f3" stroke="#f2f2f3" stroke-width="0.3" d="M255 379.7l2.2 0 2-0.9 1.6-1.8 0.8-2.3 0.2-3-0.7-2.7-1.4-1.9-2.1-1.3-2.3-0.2-2.3 1-1.6 1.8-0.8 2.3-0.1 3.3 0.8 2.7 1.4 1.8 2.1 1.2zM255.2 378.7l-1.8-0.9-1.1-1.4-0.9-2.4 0-2.3 0.7-2.3 1.2-1.7 1.7-0.9 1.9-0.1 1.9 0.9 1.1 1.4 0.9 2.4 0 2.3-0.7 2.3-1.2 1.7-1.7 0.9-1.9 0.1z"/>
<path fill="#f7f5d6" stroke="#f7f5d6" stroke-width="0.3" d="M255.3 378.7l1.9-0.1 1.7-0.9 1.2-1.7 0.7-2.3 0-2.3-0.9-2.4-1.1-1.4-1.9-0.9-1.9 0.1-1.7 0.9-1.2 1.7-0.7 2.3 0 2.3 0.9 2.4 1.1 1.4 1.8 0.9zM255.3 377.7l-1.5-0.8-1.1-1.5-0.5-1.7 0-2 0.5-1.7 1.1-1.5 1.5-0.8 1.6 0 1.5 0.8 1.1 1.5 0.5 1.7 0 2-0.5 1.7-1.1 1.5-1.5 0.8-1.6 0z"/>
<path fill="#f6eb8a" stroke="#f6eb8a" stroke-width="0.3" d="M255.3 377.7l1.6 0 1.5-0.8 1.1-1.5 0.5-1.7 0-2-0.5-1.7-1.1-1.5-1.5-0.8-1.6 0-1.5 0.8-1.1 1.5-0.5 1.7 0 2 0.5 1.7 1.1 1.5 1.5 0.8zM255.2 376.7l-1-0.7-0.9-1.3-0.3-1.3 0-1.7 0.7-1.7 0.9-0.9 1.1-0.5 1.2 0.1 1.1 0.7 0.8 1 0.4 1.6 0 1.7-0.7 1.7-0.9 0.9-1.1 0.5-1.2-0.1z"/>
<path fill="#f2d643" stroke="#f2d643" stroke-width="0.3" d="M255.3 376.7l1.2 0.1 1.1-0.5 0.9-0.9 0.7-1.7 0-1.7-0.4-1.6-0.8-1-1.1-0.7-1.2-0.1-1.1 0.5-0.9 0.9-0.7 1.7 0 1.7 0.3 1.3 0.9 1.3 1 0.7zM255.4 375.7l-1.3-1.3-0.3-2.4 0.4-1.2 0.7-0.8 1.6-0.4 0.7 0.4 0.8 0.8 0.4 1.2 0 1.4-0.4 1.2-0.7 0.8-1.6 0.4z"/>
<path fill="#e28e32" stroke="#e28e32" stroke-width="0.3" d="M255.7 375.8l1.6-0.4 0.7-0.8 0.4-1.2-0.3-2.4-1.3-1.3-1.1-0.1-0.7 0.4-1.2 1.8-0.1 1.2 0.4 1.4 1.3 1.3zM255.5 374.4l-0.7-1 0-1.4 0.5-0.8 1.2-0.3 0.8 0.8 0.2 1.3-0.6 1.2-1.2 0.3z"/>
<path fill="#c83d2b" stroke="#c83d2b" stroke-width="0.3" d="M255.7 374.5l1.2-0.3 0.5-0.8 0-1.4-0.7-1-1-0.1-0.9 1.1 0 1.4 0.7 1z"/>
<path fill="none" stroke="#000" stroke-opacity="0.55" stroke-width="0.5" d="M253.8 384.3l4.6 0 8.8-1.3 3-1.6 1.3-2.4-0.4-6.3 0.5-5.3-0.8-2.7-1.4-1.3-2.2-1-8.4-1.3-5 0-8.8 1.3-3 1.6-1.3 2.4 0.4 6.3-0.5 5.3 0.8 2.7 1.4 1.3 2.2 1 8.6 1.3M254.2 382.4l3.4 0 3.8-1.2 3.4-2.2 1.1-2.3 0.2-6.7-0.6-2.6-2.4-2.3-4.7-2-3.4-0.2-3.9 1.1-3.3 2.1-1.5 2.3-0.2 7 0.6 2.6 1.1 1.3 1.8 1.4 4.4 1.6M255.3 381l2.7-0.2 2.6-1.5 1.8-2.3 0.7-3-0.1-3.3-1-3-2.1-2.2-2.7-1.1-2.6 0.1-2.7 1.3-1.9 2.3-0.9 2.9 0.1 3.7 1 3 2.1 2.2 2.9 1.1M255 379.7l2.2 0 2-0.9 1.6-1.8 0.8-2.3 0.2-3-0.7-2.7-1.4-1.9-2.1-1.3-2.3-0.2-2.3 1-1.6 1.8-0.8 2.3-0.1 3.3 0.8 2.7 1.4 1.8 2.1 1.2M255.3 378.7l1.9-0.1 1.7-0.9 1.2-1.7 0.7-2.3 0-2.3-0.9-2.4-1.1-1.4-1.9-0.9-1.9 0.1-1.7 0.9-1.2 1.7-0.7 2.3 0 2.3 0.9 2.4 1.1 1.4 1.8 0.9M255.3 377.7l1.6 0 1.5-0.8 1.1-1.5 0.5-1.7 0-2-0.5-1.7-1.1-1.5-1.5-0.8-1.6 0-1.5 0.8-1.1 1.5-0.5 1.7 0 2 0.5 1.7 1.1 1.5 1.5 0.8M255.3 376.7l1.2 0.1 1.1-0.5 0.9-0.9 0.7-1.7 0-1.7-0.4-1.6-0.8-1-1.1-0.7-1.2-0.1-1.1 0.5-0.9 0.9-0.7 1.7 0.3 3 0.9 1.3 1 0.7M255.7 375.8l1.6-0.4 1.1-2-0.3-2.4-1.3-1.3-1.8 0.3-1.2 1.8 0.3 2.6 1.3 1.3M255.7 374.5l1.2-0.3 0.5-0.8 0-1.4-0.7-1-1-0.1-0.9 1.1 0 1.4 0.7 1"/>
<path fill="none" stroke="#1e1e1e" stroke-width="1.3" stroke-dasharray="3.6 2.2" d="M196.6 335.1l21.6 11.4 8.5 4 7.2 3.1 6 2.2 6 1.7 4.8 0.9 4.8 0.4 4.8-0.2 4.8-0.8 6-1.6 6-2.1 7.2-3.1 8.5-3.9 22.8-12"/>
<path fill="none" stroke="#1e1e1e" stroke-width="1.3" stroke-dasharray="3.6 2.2" d="M196.6 410.3l21.6-11.4 8.5-4 7.2-3.1 6-2.2 6-1.7 4.8-0.9 4.8-0.4 4.8 0.2 4.8 0.8 6 1.6 6 2.1 7.2 3.1 8.5 3.9 22.8 12"/>
<path fill="none" stroke="#1e1e1e" stroke-width="1.3" stroke-dasharray="3.6 2.2" d="M192.5 388.6l13.5-4.8 10.1-4.3 2.9-1.7 2.3-1.6 1.5-1.6 0.6-1.6-0.3-1.7-1.2-1.6-2.1-1.6-2.7-1.6-9.7-4.3-14.9-5.4"/>
<path fill="none" stroke="#1e1e1e" stroke-width="1.3" stroke-dasharray="3.6 2.2" d="M319.7 388.6l-13.5-4.8-10.1-4.3-2.9-1.7-2.3-1.6-1.5-1.6-0.6-1.6 0.3-1.7 1.2-1.6 2.1-1.6 2.7-1.6 9.7-4.3 14.9-5.4"/>
</g>
<rect x="198.9" y="322.9" width="114.4" height="99.6" fill="none" stroke="#000" stroke-opacity="0.33" stroke-width="0.8"/>
<path stroke="#777" stroke-width="0.5" d="M198.9 422.5v-1.2M198.9 322.9v1.2M198.9 422.5h1.2M313.3 422.5h-1.2M218.0 422.5v-1.2M218.0 322.9v1.2M198.9 405.9h1.2M313.3 405.9h-1.2M237.0 422.5v-1.2M237.0 322.9v1.2M198.9 389.3h1.2M313.3 389.3h-1.2M256.1 422.5v-1.2M256.1 322.9v1.2M198.9 372.7h1.2M313.3 372.7h-1.2M275.2 422.5v-1.2M275.2 322.9v1.2M198.9 356.1h1.2M313.3 356.1h-1.2M294.2 422.5v-1.2M294.2 322.9v1.2M198.9 339.5h1.2M313.3 339.5h-1.2M313.3 422.5v-1.2M313.3 322.9v1.2M198.9 322.9h1.2M313.3 322.9h-1.2"/>
<text class="tk" x="198.9" y="430.6" text-anchor="middle">-15</text>
<text class="tk" x="196.7" y="424.5" text-anchor="end">-15</text>
<text class="tk" x="218.0" y="430.6" text-anchor="middle">-10</text>
<text class="tk" x="196.7" y="407.9" text-anchor="end">-10</text>
<text class="tk" x="237.0" y="430.6" text-anchor="middle">-5</text>
<text class="tk" x="196.7" y="391.3" text-anchor="end">-5</text>
<text class="tk" x="256.1" y="430.6" text-anchor="middle">0</text>
<text class="tk" x="196.7" y="374.7" text-anchor="end">0</text>
<text class="tk" x="275.2" y="430.6" text-anchor="middle">5</text>
<text class="tk" x="196.7" y="358.1" text-anchor="end">5</text>
<text class="tk" x="294.2" y="430.6" text-anchor="middle">10</text>
<text class="tk" x="196.7" y="341.5" text-anchor="end">10</text>
<text class="tk" x="313.3" y="430.6" text-anchor="middle">15</text>
<text class="tk" x="196.7" y="324.9" text-anchor="end">15</text>
<text class="al" x="253.5" y="437.7">P<tspan class="sub" dx="-0.4" dy="1.0">1</tspan></text>
<text class="al" style="font-size:6.6px" transform="translate(185.9,377.5) rotate(-90)">K<tspan class="sub" style="font-size:4.6px" dx="-0.2" dy="1.0">23</tspan></text>
<linearGradient id="gA22" x1="0" y1="1" x2="0" y2="0"><stop offset="0.000" stop-color="#4c5ca5"/><stop offset="0.050" stop-color="#5969ae"/><stop offset="0.100" stop-color="#6c7ab9"/><stop offset="0.150" stop-color="#8793c9"/><stop offset="0.200" stop-color="#9da7d5"/><stop offset="0.250" stop-color="#b4bce1"/><stop offset="0.300" stop-color="#c7cde8"/><stop offset="0.350" stop-color="#dbddef"/><stop offset="0.400" stop-color="#eaebf2"/><stop offset="0.450" stop-color="#f2f2f2"/><stop offset="0.500" stop-color="#f3f3f0"/><stop offset="0.550" stop-color="#f8f4ca"/><stop offset="0.600" stop-color="#f7ee9c"/><stop offset="0.650" stop-color="#f6ea84"/><stop offset="0.700" stop-color="#f4df60"/><stop offset="0.750" stop-color="#f1d040"/><stop offset="0.800" stop-color="#eab437"/><stop offset="0.850" stop-color="#e08431"/><stop offset="0.900" stop-color="#d1522d"/><stop offset="0.950" stop-color="#c63a2a"/><stop offset="1.000" stop-color="#bc2828"/></linearGradient>
<rect x="320.0" y="322.9" width="6.0" height="99.6" fill="url(#gA22)" stroke="#000" stroke-opacity="0.3" stroke-width="0.6"/>
<text class="tk" x="327.4" y="420.9">0</text>
<text class="tk" x="327.4" y="400.9">0.5</text>
<text class="tk" x="327.4" y="380.9">1</text>
<text class="tk" x="327.4" y="360.9">1.5</text>
<text class="tk" x="327.4" y="340.9">2</text>
<path stroke="#555" stroke-width="0.5" d="M326.0 418.9h-1.2M320.0 418.9h1.2M326.0 398.9h-1.2M320.0 398.9h1.2M326.0 378.9h-1.2M320.0 378.9h1.2M326.0 358.9h-1.2M320.0 358.9h1.2M326.0 338.9h-1.2M320.0 338.9h1.2"/>
</g>
<g>
<clipPath id="cA3"><rect x="39.2" y="458.6" width="113.2" height="98.9"/></clipPath>
<g clip-path="url(#cA3)">
<path fill="#4c5ca5" stroke="#4c5ca5" stroke-width="0.3" d="M81.8 509.7l3.3 0 2.1-1 0.3-0.7-0.3-0.6-1-0.7-1.3-0.3-3.3 0-2.1 1-0.3 0.6 0.3 0.7 2.1 1zM106.7 509.7l3.3 0 2.1-1 0.3-0.6-0.3-0.7-2.1-1-3.5 0-2.1 1-0.3 0.6 0.3 0.7 2.1 1z"/>
<path fill="#6170b3" stroke="#6170b3" stroke-width="0.3" d="M81.5 510.1l3.4 0 2.6-0.9 0.7-0.8 0-0.7-0.7-0.8-1.1-0.6-3.8-0.4-1.9 0.3-1.5 0.6-0.8 0.9 0.2 1 1 0.8 1.8 0.5zM81.6 509.7l-2.1-1-0.3-0.7 0.3-0.6 2.1-1 3.3 0 1.3 0.3 1 0.7 0.3 0.6-0.3 0.7-2.1 1-3.3 0zM106.4 510l3.4 0.1 1.5-0.3 1.4-0.8 0.5-1-0.2-0.6-1.7-1.1-1.9-0.4-2.3 0-3 1-0.7 0.8 0.2 1 0.9 0.7 1.8 0.6zM106.5 509.7l-2.1-1-0.3-0.7 0.3-0.6 2.1-1 3.5 0 2.1 1 0.3 0.6-0.3 0.7-2.1 1-3.3 0z"/>
<path fill="#8d98cc" stroke="#8d98cc" stroke-width="0.3" d="M80 511.1l2.2 0.2 2.7-0.2 2.3-0.7 1.5-1 0.5-1-0.3-1.3-1.7-1.4-2-0.6-2.6-0.3-2.6 0.2-2.2 0.7-1.4 1-0.6 1.3 0.4 1.1 1.1 1 2.4 0.9zM81.4 510l-1.8-0.5-1-0.8-0.2-1 0.8-0.9 1.5-0.6 1.9-0.3 3.8 0.4 1.1 0.6 0.7 0.8 0 0.7-0.7 0.8-2.6 0.9-3.4 0zM106.7 511.1l2.7 0.2 2.2-0.2 2.2-0.7 1.4-1 0.6-1.4-0.6-1.3-1.4-1-2.2-0.7-2.2-0.2-2.7 0.2-2.3 0.7-1.5 1-0.5 1 0.3 1.3 1.7 1.4 2 0.6zM106.3 510l-1.8-0.6-0.9-0.7-0.2-1 0.7-0.8 3-1 2.3 0 1.9 0.4 1.7 1.1 0.2 0.6-0.5 1-1.4 0.8-1.5 0.3-3.4-0.1z"/>
<path fill="#b3bbe0" stroke="#b3bbe0" stroke-width="0.3" d="M79.2 512.7l2.9 0 2.4-0.7 4.4-2 1.4-1.3 0-1.3-0.9-1-4.1-2-3.2-1-2.9 0-2.6 0.7-2.1 1.3-1.2 1.7-0.1 1.6 1.1 1.8 1.9 1.3 2.8 0.9zM79.7 511l-2.4-0.9-1.1-1-0.4-1.1 0.6-1.3 1.4-1 2.2-0.7 2.6-0.2 2.6 0.3 2 0.6 1.7 1.4 0.3 1.3-0.5 1-1.5 1-2.3 0.7-2.7 0.2-2.2-0.2zM109.8 512.7l2.8 0 2.8-0.9 2-1.4 1-1.7-0.1-1.6-1.2-1.7-2.1-1.3-2.6-0.7-2.9 0-2.4 0.7-4.4 2-1.4 1.3 0 1.3 0.9 1 4.1 2 3.2 1zM106.4 511l-2-0.6-1.7-1.4-0.3-1.3 0.5-1 1.5-1 2.3-0.7 2.7-0.2 2.2 0.2 2.2 0.7 1.4 1 0.6 1.3-0.6 1.4-1.4 1-2.2 0.7-2.2 0.2-2.7-0.2z"/>
<path fill="#d4d7ec" stroke="#d4d7ec" stroke-width="0.3" d="M71.7 515.3l3.7 0.1 1.6-0.4 10.1-3.8 2.7-1.4 1.2-1.1-0.2-1.6-2.2-1.5-5.3-2.3-7.9-2.6-4 0.1-1.6 0.3-0.6 0.7 0.1 1 0.9 1.3 0.5 2 0 4.6-1.4 2.6-0.1 1 0.6 0.7 1.6 0.3zM79 512.7l-2.8-0.9-1.9-1.3-1.1-1.8 0.1-1.6 1.2-1.7 2.1-1.3 2.6-0.7 2.9 0 3.2 1 4.1 2 0.9 1 0 1.3-1.4 1.3-4.4 2-2.4 0.7-2.9 0zM115.8 515.3l4.1 0 1.9-0.3 0.4-0.4 0.2-0.9-1-1.7-0.5-1.6 0-5 1.5-3.3-0.2-0.7-0.7-0.4-3.1-0.4-2.8 0.2-11.1 4.1-2.7 1.4-1.2 1.1 0.2 1.6 2.2 1.5 4.5 2 8.1 2.8zM109.5 512.7l-3.2-1-4.1-2-0.9-1 0-1.3 1.4-1.3 4.4-2 2.4-0.7 2.9 0 2.6 0.7 2.1 1.3 1.2 1.7 0.1 1.6-1 1.7-2 1.4-2.8 0.9-2.8 0z"/>
<path fill="#eeeff2" stroke="#eeeff2" stroke-width="0.3" d="M95 534.1l1.6 0 1.1-0.7 1.2-1.6 0.8-2.3 0.3-2.7-0.3-2.6-0.8-2.3-1.2-1.1-2.3-0.4-1.7 0.5-1 1-0.8 2.3-0.2 3 0.5 3.3 1.1 2.3 1.6 1.3zM46.7 524l2.7-0.3 22.6-7.1 3.8-0.5 11.7-4.5 2.6-1.6 1.4-1.6-0.4-1.3-2.4-2-12.9-5.1-3.8-0.5-22.6-7.1-2.7-0.3-0.4 0.5 0.6 1.3 7.2 9.2 1.2 2.6 0.5 2.3-0.5 2.4-1.2 2.6-7 8.9-0.7 1.3 0.1 0.7zM71.4 515.3l-1.6-0.3-0.6-0.7 0.1-1 0.9-1.3 0.5-2 0-4.6-1.4-2.6-0.1-1 0.6-0.7 1.6-0.3 4-0.1 7.9 2.6 5.3 2.3 2.2 1.5 0.2 1.6-1.2 1.1-2.7 1.4-10.1 3.8-1.6 0.4-3.7-0.1zM143 523.9l1.9 0.1 0.4-0.5-0.2-0.6-7.6-9.9-1.5-3.3-0.3-2 1.6-4.3 7.4-9.5 0.6-1.3-0.4-0.5-2.7 0.3-22.6 7.1-4.6 0.8-11.5 4.5-2 1.3-1.4 1.6 0.4 1.3 2.8 2.3 11.7 4.5 4.6 0.8 23.3 7.3zM115.6 515.3l-8.1-2.8-4.5-2-2.2-1.5-0.2-1.6 1.2-1.1 2.7-1.4 11.1-4.1 2.8-0.2 3.1 0.4 0.7 0.4 0.2 0.7-1.5 3.3 0 5 0.5 1.6 1 1.7-0.2 0.9-0.4 0.4-1.9 0.3-4.1 0zM94.7 495.6l2.2 0 1.5-0.7 0.9-1.7 0.6-2.6-0.1-3-0.6-2.6-1.5-2.3-1.5-0.8-1.5 0.2-1.4 1.2-1 2-0.5 2.3-0.1 3 0.6 2.6 0.9 1.6 1.3 0.7z"/>
<path fill="#f3f3f0" stroke="#f3f3f0" stroke-width="0.3" d="M39.6 557.5l112.8 0 0-17.2-2.3-0.5-26.4-9.8-16.9-7.1-6.7-2.3-4.3-1.1-4.3 1.1-6.7 2.3-16.9 7.1-24.5 9.1-4.2 1.2 0 17.2zM94.9 534.1l-1.6-1.3-1.1-2.3-0.5-3.3 0.2-3 0.8-2.3 1-1 1.7-0.5 2.3 0.4 1.2 1.1 0.8 2.3 0.3 2.6-0.3 2.7-0.8 2.3-1.2 1.6-1.1 0.7-1.6 0zM39.6 533.6l29.8-13 5.3-2.8 5.3-2.4 10.1-3.9 0.5-0.5 1.3-3-1.3-2.9-0.5-0.5-8.6-3.3-6.8-3-4.9-2.6-28.4-12.4-2.2-0.6 0 50.9zM46.5 523.9l-0.1-0.7 0.7-1.3 7-8.9 1.2-2.6 0.5-2.4-0.5-2.3-1.2-2.6-7.2-9.2-0.6-1.3 0.4-0.5 2.7 0.3 22.6 7.1 3.8 0.5 12.9 5.1 2.4 2 0.4 1.3-1.4 1.6-2.6 1.6-11.7 4.5-3.8 0.5-22.6 7.1-2.7 0.3zM151.6 533.5l0.8 0.1 0-50.9-2.2 0.6-26.5 11.6-6.8 3.4-6.8 3-8.6 3.3-0.5 0.5-1.3 2.9 1.3 3 0.5 0.5 7.1 2.6 6.1 2.6 8.3 4.3 28.6 12.4zM142.9 523.9l-23.3-7.3-4.6-0.8-11.7-4.5-2.8-2.3-0.4-1.3 1.4-1.6 2-1.3 11.5-4.5 4.6-0.8 22.6-7.1 2.7-0.3 0.4 0.5-0.6 1.3-7.4 9.5-1.6 4.3 0.3 2 1.5 3.3 7.6 9.9 0.2 0.6-0.4 0.5-1.9-0.1zM95.4 496.6l1.5-0.2 3.2-0.9 7.6-2.6 16-6.8 24.5-9.1 4.2-1.2 0-17.2-113.2 0 0 17.2 4.2 1.2 24.5 9.1 16 6.8 11.2 3.6zM94.5 495.5l-1.3-0.7-0.9-1.6-0.6-2.6 0.1-3 0.5-2.3 1-2 1.4-1.2 1.5-0.2 1.5 0.8 1.5 2.3 0.6 2.6 0.1 3-0.6 2.6-0.9 1.7-1.5 0.7-2.2 0z"/>
<path fill="#f7efa3" stroke="#f7efa3" stroke-width="0.3" d="M39.6 540.2l28.3-10.2 16.9-7.1 6.7-2.3 4.3-1.1 4.3 1.1 6.7 2.3 16.9 7.1 26.4 9.8 2.3 0.5 0-6.7-1.9-0.6-27.5-12-6.1-3.2-6-2.7-9.4-3.6-0.5-0.5-1.3-3 1.3-2.9 0.5-0.5 8.6-3.3 6.8-3 6.8-3.4 26.5-11.6 2.2-0.6 0-6.9-4.2 1.2-24.5 9.1-16 6.8-7.6 2.6-4.3 1.1-4.3-1.1-7.6-2.6-16-6.8-24.5-9.1-4.2-1.2 0 6.9 2.2 0.6 28.4 12.4 4.9 2.6 6.8 3 8.6 3.3 0.5 0.5 1.3 3-1.3 2.9-0.5 0.5-9.4 3.6-6 2.7-5.3 2.8-27.9 12.3-2.3 0.7 0 6.7zM72.5 524.5l-0.8-0.6-0.5-1 0.3-1.3 0.6-1 3.5-2 6.7-3 8.2-3 0.5-0.6 1.6-4-1.6-3.9-0.5-0.6-7.4-2.7-7.5-3.3-3.2-1.8-0.8-0.8-0.4-1.4 0.2-0.9 0.6-0.7 1.2-0.5 1.1 0.1 16.6 5.2 4.9 0.7 4.5-0.6 16.6-5.2 2.2 0 0.8 0.6 0.5 1-0.3 1.3-0.6 1-3.5 2-6.7 3-8.2 3-0.5 0.6-1.6 3.9 1.6 4 0.5 0.6 7.4 2.7 7.5 3.3 3.2 1.8 0.8 0.8 0.4 1.4-0.2 0.9-0.6 0.7-1.2 0.5-1.1-0.1-16.6-5.2-4.9-0.7-4.9 0.7-15.9 5-2.2 0.2z"/>
<path fill="#f5e778" stroke="#f5e778" stroke-width="0.3" d="M72.8 524.6l2.2-0.2 15.9-5 4.9-0.7 4.9 0.7 16.6 5.2 1.1 0.1 1.2-0.5 0.6-0.7 0.2-0.9-0.4-1.4-0.8-0.8-3.2-1.8-7.5-3.3-7.4-2.7-0.5-0.6-1.6-4 1.6-3.9 0.5-0.6 8.2-3 6.7-3 3.5-2 0.6-1 0.3-1.3-0.5-1-0.8-0.6-2.2 0-16.6 5.2-4.5 0.6-4.9-0.7-16.6-5.2-1.1-0.1-1.2 0.5-0.6 0.7-0.2 0.9 0.4 1.4 0.8 0.8 3.2 1.8 7.5 3.3 7.4 2.7 0.5 0.6 1.6 3.9-1.6 4-0.5 0.6-8.2 3-6.7 3-3.5 2-0.6 1-0.3 1.3 0.5 1 0.8 0.6zM94 515.6l-1.7-1.3-0.7-1.3 0.1-1 1.6-1.3 0.4-1.3-0.2-3.6-1.5-1.2-0.4-1.5 0.7-1.3 1.6-1.3 1.9-0.2 1.9 0.2 1.6 1.3 0.7 1.3-0.4 1.5-1.5 1.2-0.2 3.6 0.4 1.3 1.6 1.3 0.1 1-0.7 1.3-1.6 1.3-3.4 0.1z"/>
<path fill="#f0cf40" stroke="#f0cf40" stroke-width="0.3" d="M94.3 515.7l3.4-0.1 1.6-1.3 0.7-1.3-0.1-1-1.6-1.3-0.4-1.3 0.2-3.6 1.5-1.2 0.4-1.5-0.7-1.3-1.6-1.3-1.9-0.2-1.9 0.2-1.6 1.3-0.7 1.3 0.4 1.5 1.5 1.2 0.2 3.6-0.4 1.3-1.6 1.3-0.1 1 0.7 1.3 1.7 1.3zM94.3 515l-1.1-1-0.4-1 1.3-2 0.3-1 0-4.3-1.5-2.3-0.1-0.6 1.5-1.7 3 0 1.1 1 0.4 1-1.3 2-0.3 1 0 4.3 1.5 2.3 0.1 0.6-1.5 1.7-3 0z"/>
<path fill="#e39133" stroke="#e39133" stroke-width="0.3" d="M94.3 515l3 0 1.5-1.7-0.1-0.6-1.5-2.3 0-4.3 0.3-1 1.3-2-0.4-1-1.1-1-3 0-1.5 1.7 0.1 0.6 1.5 2.3 0 4.3-0.3 1-1.3 2 0.4 1 1.1 1zM95.8 513.3l-0.7-0.3-0.3-0.7 0.4-1.9-0.3-2.4 0.3-2.3-0.4-1.6 0.2-0.9 0.8-0.4 0.7 0.3 0.3 0.7-0.4 1.9 0.3 2.3-0.3 2.4 0.4 1.6-0.2 0.9-0.8 0.4z"/>
<path fill="#cc442c" stroke="#cc442c" stroke-width="0.3" d="M95.8 513.3l0.8-0.4 0.2-0.9-0.4-1.6 0.3-2.4-0.3-2.3 0.4-1.9-0.3-0.7-0.7-0.3-0.8 0.4-0.2 0.9 0.4 1.6-0.3 2.3 0.3 2.4-0.4 1.9 0.3 0.7 0.7 0.3z"/>
<path fill="none" stroke="#000" stroke-opacity="0.55" stroke-width="0.5" d="M81.8 509.7l-2.3-1-0.3-0.7 0.3-0.6 2.1-1 2.9-0.1 2.3 0.8 0.7 0.6 0 0.7-0.7 0.6-1.7 0.7-2.9 0.1M106.7 509.7l-1.3-0.3-1.3-1 0.3-1 1-0.7 1.7-0.4 2.9 0.1 1.8 0.7 0.6 0.6-0.3 1-1 0.7-4.4 0.3M81.5 510.1l-1.9-0.6-1.2-1.1 0.2-1 1.7-1.1 1.9-0.4 2.7 0.1 2.2 0.7 1.1 1-0.2 1-1.6 1.1-2.3 0.4-2.6-0.1M106.4 510l-1.9-0.6-0.9-0.7-0.2-1 0.5-0.6 3.2-1.2 3.8 0.3 2.1 1.2 0.2 0.6-0.5 1-2.9 1.1-3.1 0M80 511.1l-2.2-0.7-1.4-1-0.6-1.4 0.6-1.3 1.4-1 2.2-0.7 4.9 0 2.3 0.7 1.5 1 0.5 1-0.3 1.3-1.7 1.4-2 0.6-4.9 0.2M106.7 511.1l-2.9-1.1-1.3-1.3 0.2-1.6 1.8-1.4 3.4-0.8 3.4 0 3 1.1 1.3 1.4-0.1 1.6-2 1.5-3.4 0.8-3.4-0.2M79.2 512.7l-3.8-1.3-1.2-1-0.9-1.4-0.1-1.3 0.5-1.3 2.2-2 3.1-1 3.2 0.1 5.4 1.9 2.6 1.7 0.2 0.9-0.2 1-1.9 1.4-4.8 1.9-4.3 0.4M109.8 512.7l-2.7-0.7-4.4-2-1.3-1-0.2-1.3 1-1.3 4.1-2 3.1-0.9 2.6-0.1 2.7 0.6 2.2 1.3 1.4 1.8 0.1 1.6-1 1.7-2 1.4-2.6 0.8-2.7 0.1M71.7 515.3l-1.9-0.3-0.6-0.7 1.5-4.3 0-4.6-1.4-2.6-0.1-1 0.9-0.8 4.9-0.3 8.3 2.6 4.6 1.9 2.9 1.9 0.3 1.3-0.3 0.6-1.4 1.1-6.1 2.7-7.3 2.5-4 0.1M115.8 515.3l-8.3-2.8-4.5-2-2.2-1.5-0.2-1.6 1.2-1.1 2.7-1.4 10.1-3.8 1.6-0.4 4 0.1 1.6 0.3 0.6 0.7-1.5 4.3 0 4.6 1.4 2.6 0.1 1-0.6 0.7-1.6 0.3-4 0.1M95 534.1l-1.5-1-1.1-2-0.6-2.6-0.1-3 0.6-2.6 0.9-1.6 1.3-0.7 2.1-0.1 1.5 0.5 1.1 1.6 0.6 2.6 0.1 3-0.6 2.6-1.2 2.3-1.5 1-1.6 0M46.7 524l-0.4-0.5 0.6-1.3 7.2-9.2 1.7-5-0.6-2.6-1.3-2.6-7.4-9.6 0-1 1.8-0.1 23.7 7.4 4.6 0.8 11.7 4.5 2.6 2 0.6 1.2-0.6 1.3-2.6 2-11.7 4.5-4.6 0.8-24.9 7.5M143 523.9l-23.4-7.3-4.6-0.8-11.7-4.5-2.8-2.3-0.4-1.3 1.4-1.6 2-1.3 11.5-4.5 4.6-0.8 22.6-7.1 2.7-0.3 0.4 0.5-0.6 1.3-7.4 9.5-1.6 4.3 0.3 2 1.5 3.3 7.6 9.9 0 1-1.8 0.1M94.7 495.6l-1.5-0.8-0.9-1.6-0.6-2.6 0-2.7 0.6-2.6 0.9-1.8 1.5-1.4 1.5-0.2 1.5 0.8 1.3 1.9 0.8 2.7 0.1 2.9-0.6 3-0.9 1.6-1.3 0.7-2.1 0.1M39.2 540.3l4.2-1.2 24.5-9.1 16.9-7.1 6.7-2.3 4.3-1.1 4.3 1.1 6.7 2.3 16.9 7.1 26.4 9.8 2.3 0.5M152.4 533.6l-29.4-12.6-6.1-3.2-6-2.7-9.4-3.6-1.8-3.5 1.8-3.4 8.6-3.3 13.6-6.4 26.5-11.6 2.2-0.6M39.2 482.7l2.2 0.6 28.4 12.4 11.7 5.6 8.6 3.3 1.8 3.5-1.8 3.4-9.4 3.6-6 2.7-5.3 2.8-30.2 13M152.4 475.8l-4.2 1.2-24.5 9.1-16 6.8-7.6 2.6-4.3 1.1-4.3-1.1-7.6-2.6-16-6.8-24.5-9.1-4.2-1.2M72.8 524.6l2.2-0.2 15.9-5 4.9-0.7 4.9 0.7 16.6 5.2 1.1 0.1 1.2-0.5 0.8-1.6-0.4-1.4-0.8-0.8-10.7-5.1-7.4-2.7-2.1-4.6 2.1-4.5 8.2-3 6.7-3 3.5-2 0.6-1 0.3-1.3-0.5-1-0.8-0.6-2.2 0-16.6 5.2-4.5 0.6-4.9-0.7-16.6-5.2-1.1-0.1-1.2 0.5-0.8 1.6 0.4 1.4 0.8 0.8 10.7 5.1 7.4 2.7 2.1 4.5-2.1 4.6-8.2 3-6.7 3-3.5 2-0.6 1-0.3 1.3 0.5 1 0.8 0.6M94.3 515.7l3.4-0.1 1.6-1.3 0.7-1.3-0.1-1-1.6-1.3-0.4-1.3 0.2-3.6 1.5-1.2 0.4-1.5-0.7-1.3-1.6-1.3-3.8 0-1.6 1.3-0.7 1.3 0.4 1.5 1.5 1.2 0.2 3.6-0.4 1.3-1.6 1.3-0.1 1 0.7 1.3 1.7 1.3M94.3 515l3 0 1.5-1.7-1.6-2.9 0-4.3 1.6-3-0.4-1-1.1-1-3 0-1.5 1.7 1.6 2.9 0 4.3-1.6 3 0.4 1 1.1 1M95.8 513.3l0.8-0.4 0.2-0.9-0.4-1.6 0.3-2.4-0.3-2.3 0.4-1.9-1-1-0.8 0.4-0.2 0.9 0.4 1.6-0.3 2.3 0.3 2.4-0.4 1.9 1 1"/>
<path fill="none" stroke="#1e1e1e" stroke-width="1.3" stroke-dasharray="3.6 2.2" d="M35.3 533.9l50.2-21.7 5.9-2.9 0.9-0.6 0.3-0.7-0.3-0.6-0.9-0.6-5.9-2.9-50.2-21.7"/>
<path fill="none" stroke="#1e1e1e" stroke-width="1.3" stroke-dasharray="3.6 2.2" d="M156.3 533.9l-50.2-21.7-5.9-2.9-0.9-0.6-0.3-0.7 0.3-0.6 0.9-0.6 5.9-2.9 50.2-21.7"/>
<path fill="none" stroke="#1e1e1e" stroke-width="1.3" stroke-dasharray="3.6 2.2" d="M37.3 458.1l12.8 6.9 12.8 7.8 12.7 8.7 16.8 12.4 1.9 1.2 1 0.3 1 0 1-0.3 1.9-1.2 17.7-13.1 13.8-9.3 11.8-7.1 11.8-6.3"/>
<path fill="none" stroke="#1e1e1e" stroke-width="1.3" stroke-dasharray="3.6 2.2" d="M37.3 558l12.8-6.9 12.8-7.8 12.7-8.7 16.8-12.4 1.9-1.2 1-0.3 1 0 1 0.3 1.9 1.2 17.7 13.1 13.8 9.3 11.8 7.1 11.8 6.3"/>
</g>
<rect x="39.2" y="458.6" width="113.2" height="98.9" fill="none" stroke="#000" stroke-opacity="0.33" stroke-width="0.8"/>
<path stroke="#777" stroke-width="0.5" d="M39.2 557.5v-1.2M39.2 458.6v1.2M39.2 557.5h1.2M152.4 557.5h-1.2M58.1 557.5v-1.2M58.1 458.6v1.2M39.2 541.0h1.2M152.4 541.0h-1.2M76.9 557.5v-1.2M76.9 458.6v1.2M39.2 524.5h1.2M152.4 524.5h-1.2M95.8 557.5v-1.2M95.8 458.6v1.2M39.2 508.1h1.2M152.4 508.1h-1.2M114.7 557.5v-1.2M114.7 458.6v1.2M39.2 491.6h1.2M152.4 491.6h-1.2M133.5 557.5v-1.2M133.5 458.6v1.2M39.2 475.1h1.2M152.4 475.1h-1.2M152.4 557.5v-1.2M152.4 458.6v1.2M39.2 458.6h1.2M152.4 458.6h-1.2"/>
<text class="tk" x="39.2" y="565.6" text-anchor="middle">-15</text>
<text class="tk" x="37.0" y="559.5" text-anchor="end">-15</text>
<text class="tk" x="58.1" y="565.6" text-anchor="middle">-10</text>
<text class="tk" x="37.0" y="543.0" text-anchor="end">-10</text>
<text class="tk" x="76.9" y="565.6" text-anchor="middle">-5</text>
<text class="tk" x="37.0" y="526.5" text-anchor="end">-5</text>
<text class="tk" x="95.8" y="565.6" text-anchor="middle">0</text>
<text class="tk" x="37.0" y="510.1" text-anchor="end">0</text>
<text class="tk" x="114.7" y="565.6" text-anchor="middle">5</text>
<text class="tk" x="37.0" y="493.6" text-anchor="end">5</text>
<text class="tk" x="133.5" y="565.6" text-anchor="middle">10</text>
<text class="tk" x="37.0" y="477.1" text-anchor="end">10</text>
<text class="tk" x="152.4" y="565.6" text-anchor="middle">15</text>
<text class="tk" x="37.0" y="460.6" text-anchor="end">15</text>
<text class="al" x="93.2" y="572.7">P<tspan class="sub" dx="-0.4" dy="1.0">1</tspan></text>
<text class="al" style="font-size:6.6px" transform="translate(26.2,512.9) rotate(-90)">K<tspan class="sub" style="font-size:4.6px" dx="-0.2" dy="1.0">23</tspan></text>
<linearGradient id="gA3" x1="0" y1="1" x2="0" y2="0"><stop offset="0.000" stop-color="#4c5ca5"/><stop offset="0.050" stop-color="#5969ae"/><stop offset="0.100" stop-color="#6c7ab9"/><stop offset="0.150" stop-color="#8793c9"/><stop offset="0.200" stop-color="#9da7d5"/><stop offset="0.250" stop-color="#b4bce1"/><stop offset="0.300" stop-color="#c7cde8"/><stop offset="0.350" stop-color="#dbddef"/><stop offset="0.400" stop-color="#eaebf2"/><stop offset="0.450" stop-color="#f2f2f2"/><stop offset="0.500" stop-color="#f3f3f0"/><stop offset="0.550" stop-color="#f8f4ca"/><stop offset="0.600" stop-color="#f7ee9c"/><stop offset="0.650" stop-color="#f6ea84"/><stop offset="0.700" stop-color="#f4df60"/><stop offset="0.750" stop-color="#f1d040"/><stop offset="0.800" stop-color="#eab437"/><stop offset="0.850" stop-color="#e08431"/><stop offset="0.900" stop-color="#d1522d"/><stop offset="0.950" stop-color="#c63a2a"/><stop offset="1.000" stop-color="#bc2828"/></linearGradient>
<rect x="158.9" y="458.6" width="6.0" height="98.9" fill="url(#gA3)" stroke="#000" stroke-opacity="0.3" stroke-width="0.6"/>
<text class="tk" x="166.3" y="551.6">-1</text>
<text class="tk" x="166.3" y="530.8">-0.5</text>
<text class="tk" x="166.3" y="510.1">0</text>
<text class="tk" x="166.3" y="489.3">0.5</text>
<text class="tk" x="166.3" y="468.5">1</text>
<path stroke="#555" stroke-width="0.5" d="M164.9 549.6h-1.2M158.9 549.6h1.2M164.9 528.8h-1.2M158.9 528.8h1.2M164.9 508.1h-1.2M158.9 508.1h1.2M164.9 487.3h-1.2M158.9 487.3h1.2M164.9 466.5h-1.2M158.9 466.5h1.2"/>
</g>
<g>
<clipPath id="cA23"><rect x="198.4" y="458.6" width="113.6" height="98.9"/></clipPath>
<g clip-path="url(#cA23)">
<path fill="#4c5ca5" stroke="#4c5ca5" stroke-width="0.3" d="M237.8 513.3l2.4-0.3 5.3-2.3 2.1-1.2 0.7-1.1-0.1-1-1-1-8.2-3.6-2.4 0.3-1.8 0.9-0.9 0.8-0.8 1.6 0 3.3 0.8 1.6 2 1.4 1.8 0.6zM271.5 513.3l2.3-0.3 2-1 0.7-0.7 0.8-1.6 0-3.3-0.8-1.6-2-1.4-1.9-0.6-2.4 0.3-5.3 2.3-2.1 1.2-0.8 1.1 0.2 1 1 1.1 8.2 3.5z"/>
<path fill="#5767ad" stroke="#5767ad" stroke-width="0.3" d="M231.3 515.7l2.6-0.1 7.3-2.8 6-2.9 1-0.9 0.5-1-0.8-1.3-2.2-1.3-5.3-2.4-7.2-2.7-2.2 0.2-1.9 0.6-2.3 1-0.5 1 1.3 3.3 0.1 1 0 2-1.3 3.3 0 0.6 1 1 3.6 1.3zM237.7 513.3l-1.8-0.6-2-1.4-0.8-1.6 0-3.3 0.8-1.6 0.9-0.8 1.8-0.9 2.4-0.3 8.2 3.6 1 1 0.1 1-0.7 1.1-2.1 1.2-5.3 2.3-2.4 0.3zM276.8 515.7l1.5 0.1 2.3-0.5 3-1.3 0.5-1-1.3-3.3-0.1-1 0-2 1.3-3.3 0-0.6-1-1-3.6-1.3-2.8 0-6.9 2.6-6.2 2.8-1.3 1.2-0.5 0.9 0.8 1.4 1.8 1.1 12.2 5.1zM271.4 513.3l-8.2-3.5-1-1.1-0.2-1 0.8-1.1 2.1-1.2 5.3-2.3 2.4-0.3 1.9 0.6 2 1.4 0.8 1.6 0 3.3-0.8 1.6-0.7 0.7-2 1-2.3 0.3z"/>
<path fill="#8893c9" stroke="#8893c9" stroke-width="0.3" d="M213.5 519.7l1.9-0.1 17.5-3.2 9.4-3.9 4.2-2 1.5-1 1-1.5-0.6-0.9-1.2-1.1-5.6-2.7-8-3.3-18.2-3.5-1.5-0.1-0.7 0.3-0.1 0.5 0.4 0.6 5 6 0.8 1.9 0.4 2.3-1 4-5.4 6.6-0.2 0.7 0.2 0.3zM231 515.6l-3.6-1.3-1-1 0-0.6 1.3-3.3 0-2-0.1-1-1.3-3.3 0.5-1 2.3-1 1.9-0.6 2.2-0.2 7.2 2.7 5.3 2.4 2.2 1.3 0.8 1.3-0.5 1-1 0.9-6 2.9-7.3 2.8-2.6 0.1zM295 519.6l1.9 0.1 0.3-0.3 0.1-0.5-5.6-6.9-0.8-2.3-0.2-2 1-3.6 5.4-6.6 0.2-0.7-0.4-0.4-1.9 0.1-18.2 3.5-12.9 5.6-1.5 1-1 1.5 1 1.4 1.5 1 12.9 5.6 18.1 3.5zM276.5 515.6l-12.2-5.1-1.8-1.1-0.8-1.4 0.5-0.9 1.3-1.2 6.2-2.8 6.9-2.6 2.8 0 3.6 1.3 1 1 0 0.6-1.3 3.3 0 2 0.1 1 1.3 3.3-0.5 1-3 1.3-2.3 0.5-1.5-0.1z"/>
<path fill="#b8bfe2" stroke="#b8bfe2" stroke-width="0.3" d="M198.8 530.8l42.8-17.7 5.6-2.7 2-2.4-2-2.3-5.6-2.7-43.2-17.9 0 45.9zM213.3 519.6l-0.2-0.3 0.2-0.7 5.4-6.6 1-3.9-0.4-2.4-0.8-1.9-5-6-0.4-0.6 0.1-0.5 0.7-0.3 1.5 0.1 18.2 3.5 8 3.3 5.6 2.7 1.2 1.1 0.6 1-1 1.4-1.5 1-4.2 2-9.4 3.9-17.5 3.2-1.9 0.1zM311.6 530.8l0.4 0.2 0-45.9-43.2 17.9-5.6 2.7-2 2.3 2 2.4 5.6 2.7 42.8 17.7zM294.9 519.6l-18.1-3.5-12.9-5.6-1.5-1-1-1.4 1-1.5 1.5-1 12.9-5.6 18.2-3.5 1.9-0.1 0.4 0.4-0.2 0.7-5.4 6.6-1 3.6 0.2 2 0.8 2.3 5.6 6.9-0.1 0.5-0.3 0.3-1.9-0.1z"/>
<path fill="#e1e3f0" stroke="#e1e3f0" stroke-width="0.3" d="M198.8 557.5l113.2 0 0-26.5-43.2-17.9-5.6-2.7-2-2.4 2-2.3 5.6-2.7 43.2-17.9 0-26.5-113.6 0 0 26.5 43.2 17.9 5.6 2.7 2 2.3-2 2.4-5.6 2.7-43.2 17.9 0 26.5zM223 527.5l-1.1-0.5-0.5-0.8 0.4-1 1.2-0.9 21.6-8.9 2.6-0.8 0.6-0.6 0.3-4 1.3-2-1.3-1.9-0.3-4-0.6-0.6-2.6-0.8-21.6-8.9-1.1-0.7-0.5-0.9 0-0.6 0.7-0.7 2.8-0.4 15.9 1.8 10.2 0.8 7.2 0 11.8-0.8 15.1-1.8 2.3 0.1 1.1 0.4 0.6 0.9-0.4 1-0.9 0.7-22 9.1-2.6 0.8-0.6 0.6-0.3 4-1.3 1.9 1.3 2 0.3 4 0.6 0.6 2.6 0.8 21.3 8.8 1.8 1.4 0.1 0.9-0.7 0.7-2.8 0.4-16.3-1.8-10.2-0.7-6.5-0.1-11.7 0.8-15.5 1.8-2.3-0.1z"/>
<path fill="#f3f3f1" stroke="#f3f3f1" stroke-width="0.3" d="M223 527.5l2.3 0.1 15.5-1.8 11.7-0.8 6.5 0.1 10.2 0.7 16.3 1.8 2.8-0.4 0.7-0.7-0.1-0.9-1.8-1.4-21.3-8.8-2.6-0.8-0.6-0.6-0.3-4-1.3-1.9 1.3-2 0.3-4 0.6-0.6 2.6-0.8 22-9.1 0.9-0.7 0.4-1-0.6-0.9-1.1-0.4-2.3-0.1-15.1 1.8-11.8 0.8-7.2 0-10.2-0.8-15.9-1.8-2.8 0.4-0.7 0.7 0 0.6 0.5 0.9 1.1 0.7 21.6 8.9 2.6 0.8 0.6 0.6 0.3 4 1.3 1.9-1.3 2-0.3 4-0.6 0.6-2.6 0.8-21.6 8.9-1.2 0.9-0.4 1 0.5 0.8 1.1 0.5zM253.8 521.6l-5.8-0.6-1.5-0.5-0.5-0.6 0-1 0.8-1.9 1.6-2.7 0.3-4.6 1-1.7-1-1.6-0.3-4.6-1.6-2.7-0.8-1.9 0-1 0.5-0.6 1.5-0.5 6.1-0.6 8.3 0.6 1.8 0.8 0.2 0.9-0.8 2.3-1.6 2.7-0.3 4.6-1.1 1.6 1.1 1.7 0.3 4.6 1.6 2.7 0.8 1.9 0 1-0.5 0.6-1.9 0.5-7.9 0.6z"/>
<path fill="#f7efa3" stroke="#f7efa3" stroke-width="0.3" d="M254.1 521.6l7.9-0.6 1.9-0.5 0.5-0.6 0-1-0.8-1.9-1.6-2.7-0.3-4.6-1.1-1.7 1.1-1.6 0.3-4.6 1.6-2.7 0.8-2.3-0.2-0.9-1.8-0.8-8.3-0.6-6.1 0.6-1.5 0.5-0.5 0.6 0 1 0.8 1.9 1.6 2.7 0.3 4.6 1 1.6-1 1.7-0.3 4.6-1.6 2.7-0.8 1.9 0 1 0.5 0.6 1.5 0.5 5.8 0.6zM253 519.3l-1.6-0.3-0.7-0.5-1.1-1.2-0.4-1.3 0.3-1.2 1.5-0.5 0.6-0.6-0.6-5 0.8-0.7-0.8-0.6 0.6-5-0.6-0.6-1.6-0.7 0-1.6 0.7-1.3 1.7-1.2 6.8 0 1.9 1.4 0.7 1.7-0.3 1.2-1.5 0.5-0.6 0.6 0.6 5-0.8 0.7 0.8 0.6-0.6 5 0.6 0.6 1.6 0.7 0 1.6-0.5 1.1-1.5 1.3-1.9 0.3-3.8 0z"/>
<path fill="#f4e166" stroke="#f4e166" stroke-width="0.3" d="M253.3 519.3l3.8 0 1.9-0.3 1.5-1.3 0.5-1.1 0-1.6-1.6-0.7-0.6-0.6 0.6-5-0.8-0.7 0.8-0.6-0.6-5 0.6-0.6 1.5-0.5 0.3-1.2-0.7-1.7-1.9-1.4-6.8 0-1.7 1.2-0.7 1.3 0 1.6 1.6 0.7 0.6 0.6-0.6 5 0.8 0.6-0.8 0.7 0.6 5-0.6 0.6-1.5 0.5-0.3 1.2 0.4 1.3 1.1 1.2 0.7 0.5 1.6 0.3zM255 516.6l-0.9-0.6 0.3-1.7-1.6-3.3-0.4-2.3 0.5-0.7-0.5-0.6 0.5-2.6 1.5-3-0.3-1.7 1.1-0.7 1.1 0.7-0.3 1.7 1.5 3 0.5 2.6-0.5 0.6 0.5 0.7-0.4 2.3-1.6 3.3 0.3 1.7-1.1 0.7z"/>
<path fill="#eab437" stroke="#eab437" stroke-width="0.3" d="M255.2 516.7l1.1-0.7-0.3-1.7 1.5-3 0.5-2.6-0.5-0.7 0.5-0.6-0.4-2.3-1.6-3.3 0.3-1.7-1.1-0.7-1.1 0.7 0.3 1.7-1.5 3-0.5 2.6 0.5 0.6-0.5 0.7 0.4 2.3 1.6 3.3-0.3 1.7 0.9 0.6zM255.2 511.7l-0.8-0.4-0.5-0.9-0.4-1.7 0.5-0.7-0.5-0.6 0.6-2.1 1.1-0.9 0.8 0.4 0.5 0.9 0.4 1.7-0.5 0.6 0.5 0.7-0.6 2.1-1.1 0.9z"/>
<path fill="#cf4a2c" stroke="#cf4a2c" stroke-width="0.3" d="M255.2 511.7l1.1-0.9 0.6-2.1-0.5-0.7 0.5-0.6-0.4-1.7-0.5-0.9-0.8-0.4-1.1 0.9-0.6 2.1 0.5 0.6-0.5 0.7 0.4 1.7 0.5 0.9 0.8 0.4z"/>
<path fill="none" stroke="#000" stroke-opacity="0.55" stroke-width="0.5" d="M237.8 513.3l-1.9-0.6-2-1.4-0.8-1.6 0-3.3 1.5-2.3 2-1 2.3-0.3 7.9 3.3 1.2 1 0.3 0.9-0.3 1.1-1.9 1.3-5.9 2.6-2 0.4M271.5 513.3l-7.9-3.3-1.3-1-0.3-1 0.4-1 1.9-1.3 5.9-2.6 2-0.4 2.3 0.7 2 1.4 0.8 1.6 0 3-1.3 2.4-2.2 1.2-1.9 0.4M231.3 515.7l-3.9-1.4-1-1 1.3-3.9 0-2-1.4-4.3 0.5-1 0.8-0.4 3.4-1.2 2.8 0 11.9 4.9 1.9 1.1 1.1 1.2 0 0.7-0.8 1-2.9 1.7-11.1 4.5-2.6 0.1M276.8 515.7l-6.8-2.6-6.5-2.9-1.5-1.3-0.3-1.2 1.8-1.8 7.2-3.2 5.9-2.2 3.2 0.1 3.4 1.3 0.8 0.9-1.3 3.9 0 2 1.4 4.3-0.5 1-2.3 1-4.1 0.8M213.5 519.7l-0.4-0.4 0.2-0.7 5.4-6.6 1-3.9-1-4-5.4-6.6-0.2-0.7 0.4-0.4 1.9 0.1 18.2 3.5 12.9 5.6 1.5 1 1 1.5-1 1.4-1.5 1-12.9 5.6-18.2 3.5-1.9 0.1M295 519.6l-18.2-3.5-12.9-5.6-1.5-1-1-1.4 1-1.5 1.5-1 12.9-5.6 19.7-3.6 0.7 0.3 0.1 0.5-5.4 6.6-1.2 3.9 0.2 2 0.8 2.3 5.6 6.9-0.4 0.8-1.6 0M312 531l-43.2-17.9-5.6-2.7-2-2.4 2-2.3 5.6-2.7 43.2-17.9M198.4 485.1l43.2 17.9 5.6 2.7 2 2.3-2 2.4-5.6 2.7-43.2 17.9M223 527.5l2.3 0.1 15.5-1.8 11.7-0.8 6.5 0.1 10.2 0.7 16.3 1.8 2.8-0.4 0.7-0.7-0.1-0.9-1.8-1.4-21.3-8.8-2.6-0.8-0.6-0.6-0.3-4-1.3-1.9 1.3-2 0.3-4 0.6-0.6 2.6-0.8 22-9.1 0.9-0.7 0.4-1-0.6-0.9-1.1-0.4-2.3-0.1-15.1 1.8-11.8 0.8-7.2 0-10.2-0.8-15.9-1.8-2.8 0.4-0.7 1.3 0.5 0.9 1.1 0.7 21.6 8.9 2.6 0.8 0.6 0.6 0.3 4 1.3 1.9-1.3 2-0.3 4-0.6 0.6-2.6 0.8-21.6 8.9-1.2 0.9-0.4 1 0.5 0.8 1.1 0.5M254.1 521.6l7.9-0.6 1.9-0.5 0.5-0.6-0.8-2.9-1.6-2.7-0.3-4.6-1.1-1.7 1.1-1.6 0.3-4.6 1.6-2.7 0.8-2.3-0.2-0.9-1.8-0.8-8.3-0.6-6.1 0.6-1.5 0.5-0.5 0.6 0.8 2.9 1.6 2.7 0.3 4.6 1 1.6-1 1.7-0.3 4.6-1.6 2.7-0.8 2.9 0.5 0.6 1.5 0.5 5.8 0.6M253.3 519.3l5.7-0.3 1.5-1.3 0.5-1.1 0-1.6-1.6-0.7-0.6-0.6 0.6-5-0.8-0.7 0.8-0.6-0.6-5 0.6-0.6 1.5-0.5 0.3-1.2-0.7-1.7-1.9-1.4-6.8 0-1.7 1.2-0.7 1.3 0 1.6 1.6 0.7 0.6 0.6-0.6 5 0.8 0.6-0.8 0.7 0.6 5-0.6 0.6-1.5 0.5-0.3 1.2 0.4 1.3 1.1 1.2 0.7 0.5 1.6 0.3M255.2 516.7l1.1-0.7-0.3-1.7 1.5-3 0.5-2.6-0.5-0.7 0.5-0.6-0.4-2.3-1.6-3.3 0.3-1.7-1.1-0.7-1.1 0.7 0.3 1.7-1.5 3-0.5 2.6 0.5 0.6-0.5 0.7 0.4 2.3 1.6 3.3-0.3 1.7 0.9 0.6M255.2 511.7l1.1-0.9 0.6-2.1-0.5-0.7 0.5-0.6-0.4-1.7-0.5-0.9-0.8-0.4-1.1 0.9-0.6 2.1 0.5 0.6-0.5 0.7 0.4 1.7 0.5 0.9 0.8 0.4"/>
<path fill="none" stroke="#1e1e1e" stroke-width="1.3" stroke-dasharray="3.6 2.2" d="M194.3 532.6l46.8-19.3 6.2-3.1 1.6-1.2 0.4-1-0.4-0.9-1.6-1.2-6.2-3.1-46.8-19.3"/>
<path fill="none" stroke="#1e1e1e" stroke-width="1.3" stroke-dasharray="3.6 2.2" d="M316.1 532.6l-46.8-19.3-6.2-3.1-1.6-1.2-0.4-1 0.4-0.9 1.6-1.2 6.2-3.1 46.8-19.3"/>
<path fill="none" stroke="#1e1e1e" stroke-width="1.3" stroke-dasharray="3.6 2.2" d="M251.4 456.6l3.8 7.6 3.8-7.6"/>
<path fill="none" stroke="#1e1e1e" stroke-width="1.3" stroke-dasharray="3.6 2.2" d="M251.4 559.5l3.8-7.6 3.8 7.6"/>
</g>
<rect x="198.4" y="458.6" width="113.6" height="98.9" fill="none" stroke="#000" stroke-opacity="0.33" stroke-width="0.8"/>
<path stroke="#777" stroke-width="0.5" d="M198.4 557.5v-1.2M198.4 458.6v1.2M198.4 557.5h1.2M312.0 557.5h-1.2M217.3 557.5v-1.2M217.3 458.6v1.2M198.4 541.0h1.2M312.0 541.0h-1.2M236.3 557.5v-1.2M236.3 458.6v1.2M198.4 524.5h1.2M312.0 524.5h-1.2M255.2 557.5v-1.2M255.2 458.6v1.2M198.4 508.1h1.2M312.0 508.1h-1.2M274.1 557.5v-1.2M274.1 458.6v1.2M198.4 491.6h1.2M312.0 491.6h-1.2M293.1 557.5v-1.2M293.1 458.6v1.2M198.4 475.1h1.2M312.0 475.1h-1.2M312.0 557.5v-1.2M312.0 458.6v1.2M198.4 458.6h1.2M312.0 458.6h-1.2"/>
<text class="tk" x="198.4" y="565.6" text-anchor="middle">-15</text>
<text class="tk" x="196.2" y="559.5" text-anchor="end">-15</text>
<text class="tk" x="217.3" y="565.6" text-anchor="middle">-10</text>
<text class="tk" x="196.2" y="543.0" text-anchor="end">-10</text>
<text class="tk" x="236.3" y="565.6" text-anchor="middle">-5</text>
<text class="tk" x="196.2" y="526.5" text-anchor="end">-5</text>
<text class="tk" x="255.2" y="565.6" text-anchor="middle">0</text>
<text class="tk" x="196.2" y="510.1" text-anchor="end">0</text>
<text class="tk" x="274.1" y="565.6" text-anchor="middle">5</text>
<text class="tk" x="196.2" y="493.6" text-anchor="end">5</text>
<text class="tk" x="293.1" y="565.6" text-anchor="middle">10</text>
<text class="tk" x="196.2" y="477.1" text-anchor="end">10</text>
<text class="tk" x="312.0" y="565.6" text-anchor="middle">15</text>
<text class="tk" x="196.2" y="460.6" text-anchor="end">15</text>
<text class="al" x="252.6" y="572.7">P<tspan class="sub" dx="-0.4" dy="1.0">1</tspan></text>
<text class="al" style="font-size:6.6px" transform="translate(185.4,512.9) rotate(-90)">K<tspan class="sub" style="font-size:4.6px" dx="-0.2" dy="1.0">23</tspan></text>
<linearGradient id="gA23" x1="0" y1="1" x2="0" y2="0"><stop offset="0.000" stop-color="#4c5ca5"/><stop offset="0.050" stop-color="#5969ae"/><stop offset="0.100" stop-color="#6c7ab9"/><stop offset="0.150" stop-color="#8793c9"/><stop offset="0.200" stop-color="#9da7d5"/><stop offset="0.250" stop-color="#b4bce1"/><stop offset="0.300" stop-color="#c7cde8"/><stop offset="0.350" stop-color="#dbddef"/><stop offset="0.400" stop-color="#eaebf2"/><stop offset="0.450" stop-color="#f2f2f2"/><stop offset="0.500" stop-color="#f3f3f0"/><stop offset="0.550" stop-color="#f8f4ca"/><stop offset="0.600" stop-color="#f7ee9c"/><stop offset="0.650" stop-color="#f6ea84"/><stop offset="0.700" stop-color="#f4df60"/><stop offset="0.750" stop-color="#f1d040"/><stop offset="0.800" stop-color="#eab437"/><stop offset="0.850" stop-color="#e08431"/><stop offset="0.900" stop-color="#d1522d"/><stop offset="0.950" stop-color="#c63a2a"/><stop offset="1.000" stop-color="#bc2828"/></linearGradient>
<rect x="318.3" y="458.6" width="6.4" height="98.9" fill="url(#gA23)" stroke="#000" stroke-opacity="0.3" stroke-width="0.6"/>
<text class="tk" x="326.1" y="555.2">-0.6</text>
<text class="tk" x="326.1" y="544.5">-0.4</text>
<text class="tk" x="326.1" y="533.8">-0.2</text>
<text class="tk" x="326.1" y="523.1">0</text>
<text class="tk" x="326.1" y="512.5">0.2</text>
<text class="tk" x="326.1" y="501.8">0.4</text>
<text class="tk" x="326.1" y="491.1">0.6</text>
<text class="tk" x="326.1" y="480.4">0.8</text>
<text class="tk" x="326.1" y="469.7">1</text>
<path stroke="#555" stroke-width="0.5" d="M324.7 553.2h-1.2M318.3 553.2h1.2M324.7 542.5h-1.2M318.3 542.5h1.2M324.7 531.8h-1.2M318.3 531.8h1.2M324.7 521.1h-1.2M318.3 521.1h1.2M324.7 510.5h-1.2M318.3 510.5h1.2M324.7 499.8h-1.2M318.3 499.8h1.2M324.7 489.1h-1.2M318.3 489.1h1.2M324.7 478.4h-1.2M318.3 478.4h1.2M324.7 467.7h-1.2M318.3 467.7h1.2"/>
</g>
<g>
<clipPath id="cB0"><rect x="409.5" y="51.3" width="113.8" height="99.0"/></clipPath>
<g clip-path="url(#cB0)">
<path fill="#4c5ca5" stroke="#4c5ca5" stroke-width="0.3" d="M466 106.1l0.8 0 0.7-0.7-0.1-0.6-0.6-0.6-0.8 0-0.6 0.6-0.1 0.6 0.7 0.7z"/>
<path fill="#4f5fa7" stroke="#4f5fa7" stroke-width="0.3" d="M465.6 107.4l1.9-0.1 1.2-1.2-0.2-1.7-1.3-1-1.8 0-1.3 1.4 0.2 1.6 1.3 1zM466 106.1l-0.7-0.7 0.1-0.6 0.6-0.6 0.8 0 0.6 0.6 0.1 0.6-0.7 0.7-0.8 0z"/>
<path fill="#5f6eb2" stroke="#5f6eb2" stroke-width="0.3" d="M465.3 108.5l1.5 0.1 1.1-0.3 0.9-0.6 0.8-1 0.2-1.3-0.3-1-1-1-1-0.5-1.1-0.2-1.5 0.4-1 0.7-0.7 1-0.2 1 0.4 1.2 1.7 1.4zM465.6 107.4l-1.3-1-0.2-1.6 1.3-1.4 1.8 0 1.3 1 0.2 1.7-1.2 1.2-1.9 0.1z"/>
<path fill="#7d89c3" stroke="#7d89c3" stroke-width="0.3" d="M464.9 109.4l1.9 0.3 1.5-0.4 1.4-0.9 0.8-1.3 0.3-1.3-0.4-1.4-0.9-1-1.6-0.8-1.5-0.3-1.9 0.4-1.5 1-0.7 1.1-0.3 1.3 0.4 1.3 1 1.2 1.3 0.8zM465.1 108.4l-1.7-1.4-0.4-1.2 0.2-1 0.7-1 1-0.7 1.5-0.4 1.1 0.2 1 0.5 1 1 0.3 1-0.2 1.3-0.8 1-0.9 0.6-1.1 0.3-1.5-0.1z"/>
<path fill="#99a3d2" stroke="#99a3d2" stroke-width="0.3" d="M465.6 110.7l1.9 0 1.9-0.7 1.6-1.4 0.7-1.9-0.1-1.6-0.8-1.3-1.4-1-2.2-0.8-1.9 0.1-1.9 0.7-1.4 1-0.9 1.6 0 1.7 0.9 1.6 1.4 1.3 2 0.7zM464.7 109.4l-1.3-0.8-1-1.2-0.4-1.3 0.3-1.3 0.7-1.1 1.5-1 1.9-0.4 1.5 0.3 1.6 0.8 0.9 1 0.4 1.4-0.3 1.3-0.8 1.3-1.4 0.9-1.5 0.4-1.9-0.3z"/>
<path fill="#b3bbe1" stroke="#b3bbe1" stroke-width="0.3" d="M464.5 111.8l2.3 0.2 2.3-0.5 1.9-1.1 1.5-2 0.4-2-0.6-2-1.3-1.3-2.1-1-2.5-0.4-2.5 0.4-2.1 1-1.5 1.7-0.4 1.9 0.6 2 1.7 2 2.1 1zM465.4 110.7l-2-0.7-1.4-1.3-0.9-1.6 0-1.7 0.9-1.6 1.4-1 1.9-0.7 1.9-0.1 2.2 0.8 1.4 1 0.8 1.3 0.1 1.6-0.7 1.9-1.6 1.4-1.9 0.7-1.9 0z"/>
<path fill="#cacfe9" stroke="#cacfe9" stroke-width="0.3" d="M465.6 115.3l3.5-0.3 3-1.3 2.5-2.3 1.3-3-0.1-2.6-1.4-2.4-2.4-1.3-3.7-0.7-4.4 0.1-3.6 0.8-2.2 1.5-1.2 2.3 0.2 2.9 1.7 3.1 3 2.2 3.6 1zM464.3 111.7l-2.1-1-1.7-2-0.6-2 0.4-1.9 1.5-1.7 2.1-1 2.5-0.4 2.5 0.4 2.1 1 1.3 1.3 0.6 2-0.4 2-1.5 2-1.9 1.1-2.3 0.5-2.3-0.2z"/>
<path fill="#f1f1f3" stroke="#f1f1f3" stroke-width="0.3" d="M409.9 150.3l113.4 0 0-25.2-24.3-11-12.1-5.9-6.7-4.1-1.7-1.6-0.6-1.4 0.3-0.3 45.1 0 0-24.3-24.3 11-12.9 6.3-6.3 4-1.3 1.4-0.7 1.6-22.8 0-0.7-1.6-1.3-1.4-6.3-4-12.9-6.3-24.3-11 0 24.3 45.1 0 0.3 0.3-0.6 1.4-1.7 1.6-6.7 4.1-12.1 5.9-24.3 11 0 25.2zM465.4 115.3l-3.6-1-3-2.2-1.7-3.1-0.2-2.9 1.2-2.3 2.2-1.5 3.6-0.8 4.4-0.1 3.7 0.7 2.4 1.3 1.4 2.4 0.1 2.6-1.3 3-2.5 2.3-3 1.3-3.5 0.3z"/>
<path fill="#f8f5d2" stroke="#f8f5d2" stroke-width="0.3" d="M409.8 124.9l24-10.8 12.1-5.9 6.7-4.1 1.7-1.6 0.6-1.4-0.3-0.3-45.1 0 0 24.3zM523.3 125.1l0-24.3-45.1 0-0.3 0.3 0.6 1.4 1.7 1.6 6.7 4.1 12.1 5.9 24 10.8zM455 100.8l22.8 0 0.7-1.6 1.3-1.4 6.3-4 12.9-6.3 24.3-11 0-25.2-113.8 0 0 25.2 24.3 11 12.1 5.9 6.7 4.1 1.7 1.7 0.6 1.3zM464.7 100.1l-3.2-0.6-2.4-1.3-1.3-2-0.2-2.7 1.1-2.6 2.4-2.3 2.6-1.2 3.5-0.4 3.4 0.9 2.7 2 1.6 2.7 0.3 2.9-0.9 2-2.1 1.7-3.5 0.9-3.8 0.1z"/>
<path fill="#f6e87d" stroke="#f6e87d" stroke-width="0.3" d="M464.9 100.2l3.8-0.1 3.5-0.9 2.1-1.7 0.9-2-0.3-2.9-1.6-2.7-2.7-2-3.4-0.9-3.5 0.4-2.6 1.2-2.4 2.3-1.1 2.6 0.2 2.7 1.3 2 2.4 1.3 3.2 0.6zM464.9 99.5l-1.9-0.7-1.5-1.3-0.7-1.7 0.1-1.6 0.9-1.7 1.9-1.4 1.9-0.5 2.3 0.1 1.9 0.8 1.4 1.4 0.8 1.6-0.2 2-1.1 1.7-1.6 0.9-2.3 0.6-1.9-0.2z"/>
<path fill="#edbf3b" stroke="#edbf3b" stroke-width="0.3" d="M464.9 99.5l1.9 0.2 2.3-0.6 1.6-0.9 1.1-1.7 0.2-2-0.8-1.6-1.4-1.4-1.9-0.8-2.3-0.1-1.9 0.5-1.9 1.4-0.9 1.7-0.1 1.6 0.7 1.7 1.5 1.3 1.9 0.7zM465.2 99.2l-1.5-0.7-1.3-1.3-0.4-1.4 0.2-1.3 0.8-1.3 1.1-0.8 1.5-0.5 1.9 0.1 1.6 0.6 1.1 1.1 0.6 1.5-0.1 1.3-0.8 1.3-1.4 1-1.7 0.5-1.5-0.1z"/>
<path fill="#e28e32" stroke="#e28e32" stroke-width="0.3" d="M465.3 99.2l1.5 0.1 1.7-0.5 1.4-1 0.8-1.3 0.1-1.3-0.6-1.5-1.1-1.1-1.6-0.6-1.9-0.1-1.5 0.5-1.1 0.8-0.8 1.3-0.2 1.3 0.4 1.4 1.3 1.3 1.5 0.7zM466 98.8l-1.1-0.3-1.2-1-0.5-1 0-1 0.4-1 0.9-0.9 1.1-0.4 1.6 0 1.1 0.4 0.9 0.9 0.4 1 0 1-1.2 1.7-1.2 0.5-1.2 0.1z"/>
<path fill="#d2542d" stroke="#d2542d" stroke-width="0.3" d="M466 98.8l1.2-0.1 1.2-0.5 1.2-1.7 0-1-0.4-1-0.9-0.9-1.1-0.4-1.6 0-1.1 0.4-0.9 0.9-0.4 1 0 1 0.5 1 1.2 1 1.1 0.3zM466.2 98.2l-1.3-0.7-0.6-1.3 0.8-1.3 1.7-0.4 1.3 0.7 0.3 1.3-0.9 1.3-1.1 0.4z"/>
<path fill="#c5372a" stroke="#c5372a" stroke-width="0.3" d="M466.4 98.2l1.1-0.4 0.9-1.3-0.3-1.3-1.3-0.7-1.7 0.4-0.8 1.3 0.6 1.3 1.3 0.7z"/>
<path fill="none" stroke="#000" stroke-opacity="0.55" stroke-width="0.5" d="M466 106.1l-0.7-1 0.3-0.7 0.8-0.3 0.8 0.3 0.3 0.7-0.3 0.8-0.8 0.2M465.6 107.4l-1.3-1-0.2-1.6 1.3-1.4 2 0 1.3 1.4 0 1.3-1.2 1.2-1.9 0.1M465.3 108.5l-1.2-0.6-0.9-1.2-0.2-1.3 0.3-1 1-1 1.3-0.6 2.4 0.3 1.6 1.7 0 1.9-1.7 1.6-2.6 0.2M464.9 109.4l-1.5-0.8-1.1-1.5-0.2-1.7 0.6-1.3 1.4-1.2 1.9-0.6 1.5 0.2 2 0.9 0.9 1 0.4 1.4-0.8 2.3-2.5 1.5-2.6-0.2M465.6 110.7l-1.9-0.5-1.5-1.2-1-1.6-0.1-1.6 0.4-1.4 1.3-1.3 2.1-0.9 1.9-0.2 1.9 0.5 1.7 0.9 1.1 1.4 0.3 1.6-0.5 1.7-1.5 1.6-1.9 0.9-1.9 0.2M464.5 111.8l-2.2-1.1-1.6-1.7-0.7-1.9 0.2-2 1.1-1.7 1.7-1 2.6-0.6 2.7 0.2 2.2 0.8 1.6 1.3 0.8 2-0.3 2-1.3 1.9-1.9 1.3-2.2 0.7-2.3-0.2M465.6 115.3l-4.1-1.2-3.3-2.7-0.9-1.7-0.5-2 0.1-1.6 0.7-1.7 2.4-1.9 4.1-1.1 5.3 0.1 4.1 1.3 1.5 1.3 0.9 2 0 2.3-0.9 2.3-1.8 2.1-2.2 1.5-2.7 0.9-2.7 0.1M409.5 125.1l24.3-11 12.1-5.9 6.7-4.1 1.7-1.6 0.6-1.4-0.3-0.3-45.1 0M523.3 100.8l-45.1 0-0.3 0.3 0.6 1.4 1.7 1.6 6.7 4.1 12.1 5.9 24.3 11M409.5 76.5l24.3 11 12.9 6.3 6.3 4 1.3 1.4 0.7 1.6 22.8 0 0.7-1.6 1.3-1.4 6.3-4 12.9-6.3 24.3-11M464.9 100.2l3.8-0.1 3.5-0.9 2.1-1.7 0.9-2-0.3-2.9-1.6-2.7-2.7-2-3.4-0.9-3.5 0.4-2.6 1.2-2.4 2.3-1.1 2.6 0.2 2.7 1.3 2 2.4 1.3 3.2 0.6M464.9 99.5l1.9 0.2 2.3-0.6 1.6-0.9 1.1-1.7 0.2-2-0.8-1.6-1.4-1.4-1.9-0.8-2.3-0.1-1.9 0.5-1.9 1.4-0.9 1.7-0.1 1.6 0.7 1.7 1.5 1.3 1.9 0.7M465.3 99.2l1.5 0.1 1.7-0.5 1.4-1 0.8-1.3 0.1-1.3-0.6-1.5-1.1-1.1-1.6-0.6-1.9-0.1-1.5 0.5-1.1 0.8-0.8 1.3-0.2 1.3 0.4 1.4 1.3 1.3 1.5 0.7M466 98.8l2.4-0.6 1.2-1.7-0.4-2-2-1.3-1.6 0-1.1 0.4-1.3 1.9 0.5 2 2.3 1.3M466.4 98.2l1.1-0.4 0.9-1.3-0.3-1.3-1.3-0.7-1.7 0.4-0.8 1.3 0.6 1.3 1.3 0.7"/>
<path fill="none" stroke="#1e1e1e" stroke-width="1.3" stroke-dasharray="3.6 2.2" d="M528.2 74.4l-26.9 12.1-14 6.7-4.8 2.7-2.5 1.8-1.7 1.8-0.4 1.3 0.4 1.3 1.7 1.8 2.5 1.8 4.8 2.7 14 6.7 26.9 12.1"/>
<path fill="none" stroke="#1e1e1e" stroke-width="1.3" stroke-dasharray="3.6 2.2" d="M404.6 74.4l26.9 12.1 14 6.7 4.8 2.7 2.5 1.8 1.7 1.8 0.4 1.3-0.4 1.3-1.7 1.8-2.5 1.8-4.8 2.7-14 6.7-26.9 12.1"/>
<path fill="none" stroke="#1e1e1e" stroke-width="1.3" stroke-dasharray="3.6 2.2" d="M405.7 100.8l121.4 0"/>
</g>
<rect x="409.5" y="51.3" width="113.8" height="99.0" fill="none" stroke="#000" stroke-opacity="0.33" stroke-width="0.8"/>
<path stroke="#777" stroke-width="0.5" d="M409.5 150.3v-1.2M409.5 51.3v1.2M409.5 150.3h1.2M523.3 150.3h-1.2M428.5 150.3v-1.2M428.5 51.3v1.2M409.5 133.8h1.2M523.3 133.8h-1.2M447.4 150.3v-1.2M447.4 51.3v1.2M409.5 117.3h1.2M523.3 117.3h-1.2M466.4 150.3v-1.2M466.4 51.3v1.2M409.5 100.8h1.2M523.3 100.8h-1.2M485.4 150.3v-1.2M485.4 51.3v1.2M409.5 84.3h1.2M523.3 84.3h-1.2M504.3 150.3v-1.2M504.3 51.3v1.2M409.5 67.8h1.2M523.3 67.8h-1.2M523.3 150.3v-1.2M523.3 51.3v1.2M409.5 51.3h1.2M523.3 51.3h-1.2"/>
<text class="tk" x="409.5" y="158.4" text-anchor="middle">-15</text>
<text class="tk" x="407.3" y="152.3" text-anchor="end">-15</text>
<text class="tk" x="428.5" y="158.4" text-anchor="middle">-10</text>
<text class="tk" x="407.3" y="135.8" text-anchor="end">-10</text>
<text class="tk" x="447.4" y="158.4" text-anchor="middle">-5</text>
<text class="tk" x="407.3" y="119.3" text-anchor="end">-5</text>
<text class="tk" x="466.4" y="158.4" text-anchor="middle">0</text>
<text class="tk" x="407.3" y="102.8" text-anchor="end">0</text>
<text class="tk" x="485.4" y="158.4" text-anchor="middle">5</text>
<text class="tk" x="407.3" y="86.3" text-anchor="end">5</text>
<text class="tk" x="504.3" y="158.4" text-anchor="middle">10</text>
<text class="tk" x="407.3" y="69.8" text-anchor="end">10</text>
<text class="tk" x="523.3" y="158.4" text-anchor="middle">15</text>
<text class="tk" x="407.3" y="53.3" text-anchor="end">15</text>
<text class="al" x="463.8" y="165.5">P<tspan class="sub" dx="-0.4" dy="1.0">1</tspan></text>
<text class="al" style="font-size:6.6px" transform="translate(396.5,105.6) rotate(-90)">K<tspan class="sub" style="font-size:4.6px" dx="-0.2" dy="1.0">23</tspan></text>
<linearGradient id="gB0" x1="0" y1="1" x2="0" y2="0"><stop offset="0.000" stop-color="#4c5ca5"/><stop offset="0.050" stop-color="#5969ae"/><stop offset="0.100" stop-color="#6c7ab9"/><stop offset="0.150" stop-color="#8793c9"/><stop offset="0.200" stop-color="#9da7d5"/><stop offset="0.250" stop-color="#b4bce1"/><stop offset="0.300" stop-color="#c7cde8"/><stop offset="0.350" stop-color="#dbddef"/><stop offset="0.400" stop-color="#eaebf2"/><stop offset="0.450" stop-color="#f2f2f2"/><stop offset="0.500" stop-color="#f3f3f0"/><stop offset="0.550" stop-color="#f8f4ca"/><stop offset="0.600" stop-color="#f7ee9c"/><stop offset="0.650" stop-color="#f6ea84"/><stop offset="0.700" stop-color="#f4df60"/><stop offset="0.750" stop-color="#f1d040"/><stop offset="0.800" stop-color="#eab437"/><stop offset="0.850" stop-color="#e08431"/><stop offset="0.900" stop-color="#d1522d"/><stop offset="0.950" stop-color="#c63a2a"/><stop offset="1.000" stop-color="#bc2828"/></linearGradient>
<rect x="529.3" y="51.3" width="6.5" height="99.0" fill="url(#gB0)" stroke="#000" stroke-opacity="0.3" stroke-width="0.6"/>
<text class="tk" x="537.2" y="145.3">-2</text>
<text class="tk" x="537.2" y="133.6">-1.5</text>
<text class="tk" x="537.2" y="121.9">-1</text>
<text class="tk" x="537.2" y="110.2">-0.5</text>
<text class="tk" x="537.2" y="98.5">0</text>
<text class="tk" x="537.2" y="86.8">0.5</text>
<text class="tk" x="537.2" y="75.1">1</text>
<text class="tk" x="537.2" y="63.4">1.5</text>
<path stroke="#555" stroke-width="0.5" d="M535.8 143.3h-1.2M529.3 143.3h1.2M535.8 131.6h-1.2M529.3 131.6h1.2M535.8 119.9h-1.2M529.3 119.9h1.2M535.8 108.2h-1.2M529.3 108.2h1.2M535.8 96.5h-1.2M529.3 96.5h1.2M535.8 84.8h-1.2M529.3 84.8h1.2M535.8 73.1h-1.2M529.3 73.1h1.2M535.8 61.4h-1.2M529.3 61.4h1.2"/>
</g>
<g>
<clipPath id="cB20"><rect x="569.3" y="51.3" width="113.2" height="99.0"/></clipPath>
<g clip-path="url(#cB20)">
<path fill="#4c5ca5" stroke="#4c5ca5" stroke-width="0.3" d="M625.5 106.1l0.8 0 0.6-0.7 0-0.6-0.6-0.6-0.8 0-0.6 0.6 0 0.6 0.6 0.7z"/>
<path fill="#4f5fa7" stroke="#4f5fa7" stroke-width="0.3" d="M625.1 107.4l1.9-0.1 1.2-1.2-0.2-1.7-1.3-1-1.8 0-1.3 1.4 0.2 1.6 1.3 1zM625.5 106.1l-0.6-0.7 0-0.6 0.6-0.6 0.8 0 0.6 0.6 0 0.6-0.6 0.7-0.8 0z"/>
<path fill="#5f6eb2" stroke="#5f6eb2" stroke-width="0.3" d="M624.8 108.5l1.5 0.1 1.1-0.3 0.9-0.6 0.8-1 0.2-1.3-0.4-1-0.9-1-1-0.5-1.1-0.2-1.5 0.4-1 0.7-0.7 1-0.2 1 0.4 1.2 1.7 1.4zM625.1 107.4l-1.3-1-0.2-1.6 1.3-1.4 1.8 0 1.3 1 0.2 1.7-1.2 1.2-1.9 0.1z"/>
<path fill="#7d89c3" stroke="#7d89c3" stroke-width="0.3" d="M624.4 109.4l1.9 0.3 1.5-0.4 1.3-0.9 0.9-1.3 0.2-1.3-0.4-1.4-0.8-1-1.6-0.8-1.5-0.3-1.9 0.4-1.5 1-0.7 1.1-0.2 1.3 0.3 1.3 1 1.2 1.3 0.8zM624.6 108.4l-1.7-1.4-0.4-1.2 0.2-1 0.7-1 1-0.7 1.5-0.4 1.1 0.2 1 0.5 0.9 1 0.4 1-0.2 1.3-0.8 1-0.9 0.6-1.1 0.3-1.5-0.1z"/>
<path fill="#99a3d2" stroke="#99a3d2" stroke-width="0.3" d="M625.1 110.7l1.9 0 1.9-0.7 1.5-1.4 0.8-1.9-0.1-1.6-0.8-1.3-1.4-1-2.2-0.8-1.9 0.1-1.9 0.7-1.4 1-0.9 1.6 0.1 1.7 0.8 1.6 1.4 1.3 2 0.7zM624.2 109.4l-1.3-0.8-1-1.2-0.3-1.3 0.2-1.3 0.7-1.1 1.5-1 1.9-0.4 1.5 0.3 1.6 0.8 0.8 1 0.4 1.4-0.2 1.3-0.9 1.3-1.3 0.9-1.5 0.4-1.9-0.3z"/>
<path fill="#b3bbe1" stroke="#b3bbe1" stroke-width="0.3" d="M624 111.8l2.3 0.2 2.2-0.5 1.9-1.1 1.5-2 0.5-2-0.6-2-1.3-1.3-2.1-1-2.5-0.4-2.5 0.4-2.1 1-1.5 1.7-0.3 1.9 0.5 2 1.7 2 2.1 1zM624.9 110.7l-2-0.7-1.4-1.3-0.8-1.6-0.1-1.7 0.9-1.6 1.4-1 1.9-0.7 1.9-0.1 2.2 0.8 1.4 1 0.8 1.3 0.1 1.6-0.8 1.9-1.5 1.4-1.9 0.7-1.9 0z"/>
<path fill="#cacfe9" stroke="#cacfe9" stroke-width="0.3" d="M625.1 115.3l3.4-0.3 3.1-1.3 2.4-2.3 1.3-3 0-2.6-1.5-2.4-2.3-1.3-3.7-0.7-4.4 0.1-3.5 0.8-2.3 1.5-1.1 2.3 0.1 2.9 1.8 3.1 3 2.2 3.5 1zM623.8 111.7l-2.1-1-1.7-2-0.5-2 0.3-1.9 1.5-1.7 2.1-1 2.5-0.4 2.5 0.4 2.1 1 1.3 1.3 0.6 2-0.5 2-1.5 2-1.9 1.1-2.2 0.5-2.3-0.2z"/>
<path fill="#f1f1f3" stroke="#f1f1f3" stroke-width="0.3" d="M569.7 150.3l112.8 0 0-25.2-24.1-11-12.1-5.9-6.7-4.1-1.6-1.6-0.6-1.4 0.2-0.3 44.9 0 0-24.3-24.1 11-12.9 6.3-6.3 4-1.2 1.4-0.8 1.6-22.6 0-0.8-1.6-1.2-1.4-6.3-4-12.9-6.3-24.1-11 0 24.3 44.9 0 0.2 0.3-0.6 1.4-1.6 1.6-6.7 4.1-12.1 5.9-24.1 11 0 25.2zM624.9 115.3l-3.5-1-3-2.2-1.8-3.1-0.1-2.9 1.1-2.3 2.3-1.5 3.5-0.8 4.4-0.1 3.7 0.7 2.3 1.3 1.5 2.4 0 2.6-1.3 3-2.4 2.3-3.1 1.3-3.4 0.3z"/>
<path fill="#f8f5d2" stroke="#f8f5d2" stroke-width="0.3" d="M569.6 124.9l23.8-10.8 12.1-5.9 6.7-4.1 1.6-1.6 0.6-1.4-0.2-0.3-44.9 0 0 24.3zM682.5 125.1l0-24.3-44.9 0-0.2 0.3 0.6 1.4 1.6 1.6 6.7 4.1 12.1 5.9 23.8 10.8zM614.6 100.8l22.6 0 0.8-1.6 1.2-1.4 6.3-4 12.9-6.3 24.1-11 0-25.2-113.2 0 0 25.2 24.1 11 12.1 5.9 6.7 4.1 1.6 1.7 0.6 1.3zM624.2 100.1l-3.2-0.6-2.4-1.3-1.3-2-0.2-2.7 1.1-2.6 2.4-2.3 2.7-1.2 3.4-0.4 3.4 0.9 2.7 2 1.6 2.7 0.3 2.9-0.9 2-2.2 1.7-3.4 0.9-3.8 0.1z"/>
<path fill="#f6e87d" stroke="#f6e87d" stroke-width="0.3" d="M624.4 100.2l3.8-0.1 3.4-0.9 2.2-1.7 0.9-2-0.3-2.9-1.6-2.7-2.7-2-3.4-0.9-3.4 0.4-2.7 1.2-2.4 2.3-1.1 2.6 0.2 2.7 1.3 2 2.4 1.3 3.2 0.6zM624.4 99.5l-1.9-0.7-1.5-1.3-0.7-1.7 0.2-1.6 0.9-1.7 1.9-1.4 1.8-0.5 2.3 0.1 1.9 0.8 1.4 1.4 0.7 1.6-0.1 2-1.1 1.7-1.7 0.9-2.2 0.6-1.9-0.2z"/>
<path fill="#edbf3b" stroke="#edbf3b" stroke-width="0.3" d="M624.4 99.5l1.9 0.2 2.2-0.6 1.7-0.9 1.1-1.7 0.1-2-0.7-1.6-1.4-1.4-1.9-0.8-2.3-0.1-1.8 0.5-1.9 1.4-0.9 1.7-0.2 1.6 0.7 1.7 1.5 1.3 1.9 0.7zM624.7 99.2l-1.5-0.7-1.3-1.3-0.4-1.4 0.2-1.3 0.8-1.3 1.1-0.8 1.5-0.5 1.9 0.1 1.5 0.6 1.2 1.1 0.6 1.5-0.1 1.3-0.8 1.3-1.4 1-1.7 0.5-1.5-0.1z"/>
<path fill="#e28e32" stroke="#e28e32" stroke-width="0.3" d="M624.8 99.2l1.5 0.1 1.7-0.5 1.4-1 0.8-1.3 0.1-1.3-0.6-1.5-1.2-1.1-1.5-0.6-1.9-0.1-1.5 0.5-1.1 0.8-0.8 1.3-0.2 1.3 0.4 1.4 1.3 1.3 1.5 0.7zM625.5 98.8l-1.1-0.3-1.2-1-0.5-1 0-1 0.4-1 0.9-0.9 1.1-0.4 1.6 0 1.1 0.4 0.9 0.9 0.4 1 0 1-1.2 1.7-1.2 0.5-1.2 0.1z"/>
<path fill="#d2542d" stroke="#d2542d" stroke-width="0.3" d="M625.5 98.8l1.2-0.1 1.2-0.5 1.2-1.7 0-1-0.4-1-0.9-0.9-1.1-0.4-1.6 0-1.1 0.4-0.9 0.9-0.4 1 0 1 0.5 1 1.2 1 1.1 0.3zM625.7 98.2l-1.3-0.7-0.5-1.3 0.7-1.3 1.7-0.4 1.3 0.7 0.3 1.3-0.9 1.3-1.1 0.4z"/>
<path fill="#c5372a" stroke="#c5372a" stroke-width="0.3" d="M625.9 98.2l1.1-0.4 0.9-1.3-0.3-1.3-1.3-0.7-1.7 0.4-0.7 1.3 0.5 1.3 1.3 0.7z"/>
<path fill="none" stroke="#000" stroke-opacity="0.55" stroke-width="0.5" d="M625.5 106.1l-0.7-1 0.3-0.7 0.8-0.3 0.8 0.3 0.3 0.7-0.3 0.8-0.8 0.2M625.1 107.4l-1.3-1-0.2-1.6 1.3-1.4 2 0 1.3 1.4 0 1.3-1.2 1.2-1.9 0.1M624.8 108.5l-1.2-0.6-0.9-1.2-0.2-1.3 0.4-1 0.9-1 1.3-0.6 2.4 0.3 1.6 1.7 0 1.9-1.7 1.6-2.6 0.2M624.4 109.4l-1.5-0.8-1-1.2-0.3-1.6 0.4-1.4 1.3-1.3 1.8-0.7 1.6 0 1.8 0.7 1.6 2 0.1 1.3-0.5 1.3-2.3 1.7-3 0M625.1 110.7l-1.8-0.5-1.6-1.2-0.9-1.6-0.2-1.6 0.4-1.4 1.3-1.3 2.1-0.9 1.9-0.2 1.9 0.5 1.7 0.9 1 1.4 0.3 1.6-0.4 1.7-1.5 1.6-1.9 0.9-1.9 0.2M624 111.8l-2.2-1.1-1.6-1.7-0.7-1.9 0.2-2 1.2-1.7 1.6-1 2.6-0.6 2.7 0.2 2.2 0.8 1.6 1.3 0.7 2-0.2 2-1.3 1.9-1.9 1.3-2.2 0.7-2.3-0.2M625.1 115.3l-4.1-1.2-3.2-2.7-0.9-1.7-0.5-2 0.1-1.6 0.6-1.7 2.4-1.9 4.1-1.1 5.3 0.1 4 1.3 1.5 1.3 0.9 2 0 2.3-0.9 2.3-1.7 2.1-2.3 1.5-2.6 0.9-2.7 0.1M569.3 125.1l24.1-11 12.1-5.9 6.7-4.1 1.6-1.6 0.6-1.4-0.2-0.3-44.9 0M682.5 100.8l-44.9 0-0.2 0.3 0.6 1.4 1.6 1.6 6.7 4.1 12.1 5.9 24.1 11M569.3 76.5l24.1 11 12.9 6.3 6.3 4 1.2 1.4 0.8 1.6 22.6 0 0.8-1.6 1.2-1.4 6.3-4 12.9-6.3 24.1-11M624.4 100.2l3.8-0.1 3.4-0.9 2.2-1.7 0.9-2-0.3-2.9-1.6-2.7-2.7-2-3.4-0.9-3.4 0.4-2.7 1.2-2.4 2.3-1.1 2.6 0.2 2.7 1.3 2 2.4 1.3 3.2 0.6M624.4 99.5l1.9 0.2 2.2-0.6 1.7-0.9 1.1-1.7 0.1-2-0.7-1.6-1.4-1.4-1.9-0.8-2.3-0.1-1.8 0.5-1.9 1.4-0.9 1.7-0.2 1.6 0.7 1.7 1.5 1.3 1.9 0.7M624.8 99.2l1.5 0.1 1.7-0.5 1.4-1 0.8-1.3 0.1-1.3-0.6-1.5-1.2-1.1-1.5-0.6-1.9-0.1-1.5 0.5-1.1 0.8-0.8 1.3-0.2 1.3 0.4 1.4 1.3 1.3 1.5 0.7M625.5 98.8l2.4-0.6 1.2-1.7-0.4-2-2-1.3-1.6 0-1.1 0.4-1.3 1.9 0.5 2 2.3 1.3M625.9 98.2l1.1-0.4 0.9-1.3-0.3-1.3-1.3-0.7-1.7 0.4-0.7 1.3 0.5 1.3 1.3 0.7"/>
<path fill="none" stroke="#1e1e1e" stroke-width="1.3" stroke-dasharray="3.6 2.2" d="M687.3 74.4l-26.7 12.1-13.9 6.7-4.7 2.7-2.6 1.8-1.7 1.8-0.4 1.3 0.4 1.3 1.7 1.8 2.6 1.8 4.7 2.7 13.9 6.7 26.7 12.1"/>
<path fill="none" stroke="#1e1e1e" stroke-width="1.3" stroke-dasharray="3.6 2.2" d="M564.5 74.4l26.7 12.1 13.9 6.7 4.7 2.7 2.6 1.8 1.7 1.8 0.4 1.3-0.4 1.3-1.7 1.8-2.6 1.8-4.7 2.7-13.9 6.7-26.7 12.1"/>
<path fill="none" stroke="#1e1e1e" stroke-width="1.3" stroke-dasharray="3.6 2.2" d="M565.5 100.8l120.8 0"/>
</g>
<rect x="569.3" y="51.3" width="113.2" height="99.0" fill="none" stroke="#000" stroke-opacity="0.33" stroke-width="0.8"/>
<path stroke="#777" stroke-width="0.5" d="M569.3 150.3v-1.2M569.3 51.3v1.2M569.3 150.3h1.2M682.5 150.3h-1.2M588.2 150.3v-1.2M588.2 51.3v1.2M569.3 133.8h1.2M682.5 133.8h-1.2M607.0 150.3v-1.2M607.0 51.3v1.2M569.3 117.3h1.2M682.5 117.3h-1.2M625.9 150.3v-1.2M625.9 51.3v1.2M569.3 100.8h1.2M682.5 100.8h-1.2M644.8 150.3v-1.2M644.8 51.3v1.2M569.3 84.3h1.2M682.5 84.3h-1.2M663.6 150.3v-1.2M663.6 51.3v1.2M569.3 67.8h1.2M682.5 67.8h-1.2M682.5 150.3v-1.2M682.5 51.3v1.2M569.3 51.3h1.2M682.5 51.3h-1.2"/>
<text class="tk" x="569.3" y="158.4" text-anchor="middle">-15</text>
<text class="tk" x="567.1" y="152.3" text-anchor="end">-15</text>
<text class="tk" x="588.2" y="158.4" text-anchor="middle">-10</text>
<text class="tk" x="567.1" y="135.8" text-anchor="end">-10</text>
<text class="tk" x="607.0" y="158.4" text-anchor="middle">-5</text>
<text class="tk" x="567.1" y="119.3" text-anchor="end">-5</text>
<text class="tk" x="625.9" y="158.4" text-anchor="middle">0</text>
<text class="tk" x="567.1" y="102.8" text-anchor="end">0</text>
<text class="tk" x="644.8" y="158.4" text-anchor="middle">5</text>
<text class="tk" x="567.1" y="86.3" text-anchor="end">5</text>
<text class="tk" x="663.6" y="158.4" text-anchor="middle">10</text>
<text class="tk" x="567.1" y="69.8" text-anchor="end">10</text>
<text class="tk" x="682.5" y="158.4" text-anchor="middle">15</text>
<text class="tk" x="567.1" y="53.3" text-anchor="end">15</text>
<text class="al" x="623.3" y="165.5">P<tspan class="sub" dx="-0.4" dy="1.0">1</tspan></text>
<text class="al" style="font-size:6.6px" transform="translate(556.3,105.6) rotate(-90)">K<tspan class="sub" style="font-size:4.6px" dx="-0.2" dy="1.0">23</tspan></text>
<linearGradient id="gB20" x1="0" y1="1" x2="0" y2="0"><stop offset="0.000" stop-color="#4c5ca5"/><stop offset="0.050" stop-color="#5969ae"/><stop offset="0.100" stop-color="#6c7ab9"/><stop offset="0.150" stop-color="#8793c9"/><stop offset="0.200" stop-color="#9da7d5"/><stop offset="0.250" stop-color="#b4bce1"/><stop offset="0.300" stop-color="#c7cde8"/><stop offset="0.350" stop-color="#dbddef"/><stop offset="0.400" stop-color="#eaebf2"/><stop offset="0.450" stop-color="#f2f2f2"/><stop offset="0.500" stop-color="#f3f3f0"/><stop offset="0.550" stop-color="#f8f4ca"/><stop offset="0.600" stop-color="#f7ee9c"/><stop offset="0.650" stop-color="#f6ea84"/><stop offset="0.700" stop-color="#f4df60"/><stop offset="0.750" stop-color="#f1d040"/><stop offset="0.800" stop-color="#eab437"/><stop offset="0.850" stop-color="#e08431"/><stop offset="0.900" stop-color="#d1522d"/><stop offset="0.950" stop-color="#c63a2a"/><stop offset="1.000" stop-color="#bc2828"/></linearGradient>
<rect x="689.0" y="51.3" width="6.2" height="99.0" fill="url(#gB20)" stroke="#000" stroke-opacity="0.3" stroke-width="0.6"/>
<text class="tk" x="696.6" y="145.3">-2</text>
<text class="tk" x="696.6" y="133.6">-1.5</text>
<text class="tk" x="696.6" y="121.9">-1</text>
<text class="tk" x="696.6" y="110.2">-0.5</text>
<text class="tk" x="696.6" y="98.5">0</text>
<text class="tk" x="696.6" y="86.8">0.5</text>
<text class="tk" x="696.6" y="75.1">1</text>
<text class="tk" x="696.6" y="63.4">1.5</text>
<path stroke="#555" stroke-width="0.5" d="M695.2 143.3h-1.2M689.0 143.3h1.2M695.2 131.6h-1.2M689.0 131.6h1.2M695.2 119.9h-1.2M689.0 119.9h1.2M695.2 108.2h-1.2M689.0 108.2h1.2M695.2 96.5h-1.2M689.0 96.5h1.2M695.2 84.8h-1.2M689.0 84.8h1.2M695.2 73.1h-1.2M689.0 73.1h1.2M695.2 61.4h-1.2M689.0 61.4h1.2"/>
</g>
<g>
<clipPath id="cB1"><rect x="409.5" y="186.3" width="113.8" height="99.0"/></clipPath>
<g clip-path="url(#cB1)">
<path fill="#4c5ca5" stroke="#4c5ca5" stroke-width="0.3" d="M466.4 246.7l1.5-0.8 0.7-2.2-0.7-2.9-0.7-1.1-0.8-0.4-0.8 0.4-0.7 1-0.7 2.7 0.5 2.3 1.5 1zM455.4 234.5l1.9 0.2 1.5-0.2 1.1-1 0.4-1.3-0.5-1-1.5-1.3-3.7-1.7-2.2-0.3-1.6 0.2-0.9 0.4-0.4 1.4 0.7 1.3 1.4 1.3 3.5 2zM474 234.5l1.5 0.2 2.2-0.2 3.5-2 1.4-1.3 0.7-1.3-0.2-1-0.8-0.7-1.9-0.3-2.2 0.3-2 0.7-2.2 1.3-1 1-0.5 1 0.4 1.3 1.1 1z"/>
<path fill="#6c7ab9" stroke="#6c7ab9" stroke-width="0.3" d="M466 249.7l1.5-0.2 1.6-1 0.7-1.3 0.4-1.8-0.3-2.3-0.8-2-1.6-2.3-1.1-0.7-1.1 0.7-1.5 2-0.8 1.9-0.3 2 0 1.7 0.7 1.6 1.1 1.2 1.3 0.5zM466.2 246.7l-1.5-1-0.5-2.3 0.7-2.7 0.7-1 0.8-0.4 0.8 0.4 0.7 1.1 0.7 2.9-0.7 2.2-1.5 0.8zM454.6 235.2l4.6 0 2-0.4 0.8-1.3-0.7-1.7-2.9-2.6-3.4-2-3.7-1.3-4.6-0.7-2.3 0-1.2 0.4-0.7 1 0.5 1.3 2.4 2.3 4.2 3 2.4 1.4 2.3 0.5zM455.1 234.5l-3.5-2-1.4-1.3-0.7-1.3 0.4-1.4 0.9-0.4 1.6-0.2 2.2 0.3 3.7 1.7 1.5 1.3 0.5 1-0.4 1.3-1.1 1-1.5 0.2-1.9-0.2zM472.8 235.1l6.5-0.1 1.7-0.5 2.2-1.3 4.6-3.3 2.2-2.3 0.3-1-0.3-0.7-1.6-0.7-2.8 0-4.1 0.7-3 0.9-2.6 1.4-3.1 2.3-1.8 2-0.2 1 0.4 1 1.6 0.6zM474 234.5l-1.1-1-0.4-1.3 0.5-1 1-1 2.2-1.3 2-0.7 2.2-0.3 1.9 0.3 0.8 0.7 0.2 1-0.7 1.3-1.4 1.3-3.5 2-2.2 0.2-1.5-0.2z"/>
<path fill="#a2acd8" stroke="#a2acd8" stroke-width="0.3" d="M465.6 253l2.7-0.2 1.9-1.1 1.3-1.7 0.5-2.3-0.2-2.7-1.1-2.9-2.3-3-2-1.8-1.5 1.3-2.6 3.1-1 2.3-0.5 2.7 0.2 2.3 0.8 1.8 1.6 1.4 1.9 0.8zM465.8 249.7l-1.3-0.5-1.1-1.2-0.7-1.6 0-1.7 0.3-2 0.8-1.9 1.5-2 1.1-0.7 1.1 0.7 1.6 2.3 0.8 2 0.3 2.3-0.4 1.8-0.7 1.3-1.6 1-1.5 0.2zM455.4 235.5l6.1-0.2 1.1-0.2 0.7-0.6-0.3-1.3-1.4-1.7-5.1-4-4.1-2.3-4.6-1.6-9.8-2.3-6.5-1-1.5 0.3-0.3 0.7 0.3 0.6 1.9 1.7 4.3 3 12.9 7.9 1.9 0.6 4.1 0.4zM454.3 235.1l-2.3-0.5-2.4-1.4-4.2-3-2.4-2.3-0.5-1.3 0.7-1 1.2-0.4 2.3 0 4.6 0.7 3.7 1.3 3.4 2 2.9 2.6 0.7 1.7-0.8 1.3-2 0.4-4.6 0zM473.2 235.5l7.2-0.2 3.3-0.8 11.8-7.3 5.9-3.9 1.1-1 0.6-1-0.3-0.7-1.1-0.3-5.2 0.7-10 2.2-4.5 1.4-3.5 1.6-5.1 3.3-3.6 3.7-0.4 1 0.2 0.6 1 0.4 2.6 0.3zM472.8 235.1l-1.6-0.6-0.4-1 0.2-1 1.8-2 3.1-2.3 2.6-1.4 3-0.9 4.1-0.7 2.8 0 1.6 0.7 0.3 0.7-0.3 1-2.2 2.3-4.6 3.3-2.2 1.3-1.7 0.5-6.5 0.1z"/>
<path fill="#d0d4eb" stroke="#d0d4eb" stroke-width="0.3" d="M464.5 258l3.8 0 3.4-1.3 1.4-1.1 1.1-1.3 0.9-3-0.3-3.3-1.6-4.3-6.8-7-6.8 7-1.3 3-0.6 2.6 0.2 3 1.2 2.6 2 1.8 3 1.2zM465.3 253l-1.9-0.8-1.6-1.4-0.8-1.8-0.2-2.3 0.5-2.7 1-2.3 2.6-3.1 1.5-1.3 2 1.8 2.3 3 1.1 2.9 0.2 2.7-0.5 2.3-1.3 1.7-1.9 1.1-2.7 0.2zM450.1 235.5l10.6 0.1 2.8-0.1 1-0.4-0.4-1.3-2.4-2.6-3.3-2.8-3.4-2.3-5.3-2.9-6.1-2.5-34.1-10.6 0 5.1 18.9 9.7 17.2 9.6 1.8 0.6 2.5 0.4zM455.1 235.5l-4.1-0.4-1.9-0.6-12.9-7.9-4.3-3-1.9-1.7-0.3-0.6 0.3-0.7 1.5-0.3 6.5 1 9.8 2.3 4.6 1.6 4.1 2.3 5.1 4 1.4 1.7 0.3 1.3-0.7 0.6-1.1 0.2-6.1 0.2zM469.4 235.5l12.6 0 3.4-0.4 1.5-0.5 17.5-9.7 18.9-9.7 0-5.1-32.6 10.1-7.6 3-6.5 3.6-4.8 3.7-3.5 4 0 0.6 1 0.4zM473.2 235.5l-2.6-0.3-1-0.4-0.2-0.6 0.4-1 3.6-3.7 5.1-3.3 3.5-1.6 4.5-1.4 10-2.2 5.2-0.7 1.1 0.3 0.3 0.7-0.6 1-1.1 1-5.9 3.9-11.8 7.3-3.3 0.8-7.2 0.2z"/>
<path fill="#f2f2f3" stroke="#f2f2f3" stroke-width="0.3" d="M409.9 285.3l113.4 0 0-17.2-26.2-11.6-13.3-6.7-5.3-3.2-4.5-3.3-3.8-3.4-3.5-3.8 0.1-0.3 30.7 0 0.4 1.6 1.1 1.7 4.3 3.3 8.2 4.3 11.8 5 0-15.9-25.4 0-0.4-0.3 0.6-1.7 1.2-1.6 4.5-3.3 7.7-4 11.8-5 0-4.7-18.9 9.7-17.9 9.9-3.6 0.7-7.4 0.1-6.2-0.1-1-0.3-0.1-0.4 1.9-2.6 4.3-3.8 4.5-3 5.3-2.7 6.9-2.6 32.2-10 0-6.6-26.2 11.6-13.3 6.7-4.9 3-4.9 3.5-4 3.5-3.6 4-3.6-4-4-3.5-4.9-3.5-4.9-3-13.3-6.7-26.2-11.6 0 6.6 32.2 10 6.9 2.6 5.3 2.7 4.5 3 4.3 3.8 1.9 2.6-0.1 0.4-1 0.3-6.2 0.1-7.4-0.1-3.6-0.7-17.9-9.9-18.9-9.7 0 4.7 11.8 5 7.7 4 4.5 3.3 1.2 1.6 0.6 1.7-0.4 0.3-25.4 0 0 15.9 11.8-5 8.2-4.3 4.3-3.3 1.1-1.7 0.4-1.6 30.7 0 0.1 0.3-3.5 3.8-3.8 3.4-4.5 3.3-5.3 3.2-13.3 6.7-26.2 11.6 0 17.2zM464.1 257.9l-3-1.2-2-1.8-1.2-2.6-0.2-3 0.6-2.6 1.3-3 6.8-7 6.8 7 1.6 4.3 0.3 3.3-0.9 3-1.1 1.3-1.4 1.1-3.4 1.3-3.8 0z"/>
<path fill="#f8f5d1" stroke="#f8f5d1" stroke-width="0.3" d="M409.9 268l25.8-11.5 13.3-6.7 5.3-3.2 4.5-3.3 3.8-3.4 3.5-3.8-0.1-0.3-30.7 0-0.4 1.6-1.1 1.7-4.3 3.3-8.2 4.3-11.8 5 0 5.1 19-9.8 18.3-10.2 4.8-0.7 11.4 0 1.4 0.4 0 0.6-0.6 1-2.9 3-4 3.1-4.2 2.6-4.5 2.2-6.1 2.2-32.6 9.9 0 7zM522.9 268l0.4 0.1 0-7-32.6-9.9-6.1-2.2-4.5-2.2-4.2-2.6-4-3.1-2.9-3-0.6-1 0-0.6 1.4-0.4 11.4 0 4.8 0.7 18.3 10.2 19 9.8 0-5.1-11.8-5-8.2-4.3-4.3-3.3-1.1-1.7-0.4-1.6-30.7 0-0.1 0.3 3.5 3.8 3.8 3.4 4.5 3.3 5.3 3.2 13.3 6.7 25.5 11.3zM409.9 235.8l25 0 0.4-0.3-0.6-1.7-1.2-1.6-4.5-3.3-7.7-4-11.8-5 0 15.9zM466.4 235.8l3.6-4 4-3.5 4.9-3.5 4.9-3 13.3-6.7 26.2-11.6 0-17.2-113.8 0 0 17.2 26.2 11.6 13.3 6.7 4.9 3 4.5 3.2 4.1 3.5 3.6 4zM466.4 234.8l-5.3-5.3-1.5-1.9-1.4-4.3-0.2-2 0.3-2 0.7-1.7 1.1-1.3 1.4-1 1.9-0.8 2.2-0.5 2.3 0.1 1.9 0.5 1.9 0.9 1.9 1.8 0.9 2 0.3 2.3-0.5 3-1.7 3.9-6.2 6.3zM497.9 235.8l25.4 0 0-15.9-11.8 5-7.7 4-4.5 3.3-1.2 1.6-0.6 1.7z"/>
<path fill="#f6ea82" stroke="#f6ea82" stroke-width="0.3" d="M409.9 261l34.9-10.7 6-2.5 5.4-3.1 3.4-2.5 2.7-2.4 1.9-2.4 0.2-0.9-2.2-0.4-7.2-0.1-4.5 0.1-3.4 0.6-19.4 10.7-18.2 9.4 0 4.3zM435.3 249.7l-0.9-0.4-0.4-0.6 0.4-1 0.9-1 5.5-4 8.9-5.6 3-0.7 7.3-0.2 2.7 0.6 0.3 0.7-0.2 0.9-2.8 3.1-4.6 3.2-3.4 1.6-4.2 1.3-8.3 1.7-3.8 0.4zM522.9 261l0.4 0.1 0-4.3-17.4-9-20.5-11.2-3.1-0.5-5.7-0.1-6 0.1-2.2 0.4 0.2 0.9 1.9 2.4 2.7 2.4 3.4 2.5 5.4 3.1 6 2.5 34.6 10.6zM495.9 249.7l-7.8-1.4-6.1-1.5-4.6-2.1-3.9-2.6-3.3-3.3-0.4-1 0.3-1 0.7-0.3 2.4-0.3 6.1 0.1 2.7 0.4 1.6 0.7 13.1 8.6 1.7 1.7 0.4 1-0.4 0.6-0.5 0.3-1.9 0.1zM466.4 234.8l6.2-6.3 1.7-3.9 0.5-3-0.3-2.3-0.9-2-1.9-1.8-1.9-0.9-1.9-0.5-2.3-0.1-2.2 0.5-1.9 0.8-1.4 1-1.1 1.4-0.7 1.6-0.3 2 0.2 2 1.4 4.3 1.5 1.9 5.3 5.3zM466.4 234.2l-1.9-1.7-2.1-3-1.1-2.9 0-3 0.9-2.4 1.9-1.5 2.7-0.5 2.3 0.7 1.2 1.1 1 1.6 0.3 2-0.1 2-0.7 2.3-0.9 1.6-2 2.4-1.5 1.3z"/>
<path fill="#eec73d" stroke="#eec73d" stroke-width="0.3" d="M435.7 249.7l3.8-0.4 8.3-1.7 4.2-1.3 3.4-1.6 4.6-3.2 2.8-3.1 0.2-1-0.3-0.6-2.7-0.6-7.3 0.2-3 0.7-8.9 5.6-5.5 4-0.9 1-0.4 1 0.4 0.6 0.9 0.4zM446.5 245l-0.6-0.4-0.4-0.9 0.5-1.3 2.3-2.3 3.4-2.3 2.1-1 1.6-0.2 2.7-0.1 2.1 0.3 1.1 1.3-0.1 1.3-1.4 1.7-2.2 1.6-2.6 1.4-2.6 0.8-3.4 0.4-2.3-0.2zM496 249.7l1.9-0.1 0.5-0.3 0.4-0.6-0.4-1-1.7-1.7-13.1-8.5-1.6-0.8-2.7-0.4-6.1-0.1-2.4 0.3-0.7 0.3-0.3 1 0.4 1 3.3 3.3 3.9 2.6 4.6 2.1 6.1 1.5 7.8 1.4zM481.2 245l-3.4-0.9-2.6-1.4-2.5-1.9-1.2-1.7 0.1-1.3 1-1 2.9-0.3 3.4 0.3 2.2 1 3.4 2.3 2.1 2 0.7 1.3-0.2 1-1 0.7-1.9 0.2-3-0.3zM466.4 234.2l1.5-1.3 2-2.4 0.9-1.6 0.7-2.3 0.1-2-0.3-2-1-1.6-1.2-1.1-2.3-0.7-2.7 0.5-1.9 1.5-0.9 2.4 0 3 1.1 2.9 2.1 3 1.9 1.7zM466.2 233.2l-1.3-1.1-1.1-1.9-0.6-2-0.1-2 0.5-1.6 0.9-1.2 1.1-0.6 1.6 0 1.1 0.6 0.8 0.9 0.5 1.3 0.1 1.6-1 3.6-1.2 1.7-1.1 0.7z"/>
<path fill="#d8682f" stroke="#d8682f" stroke-width="0.3" d="M446.7 245.1l2.3 0.2 3.4-0.4 2.6-0.8 2.6-1.4 2.2-1.6 1.4-1.7 0.1-1.3-1.1-1.3-2.1-0.3-2.7 0.1-1.6 0.2-2.1 1-3.4 2.3-2.3 2.3-0.5 1.3 0.4 0.9 0.6 0.4zM453.8 242.1l-1-1 0.3-1.3 1.9-1.5 2.3-0.3 0.9 0.4 0.5 1-0.4 1.4-2.1 1.2-2.3 0.1zM481.2 245l3 0.3 1.9-0.2 1-0.7 0.2-1-0.7-1.3-2.1-2-3.4-2.3-2.2-1-3.4-0.3-2.9 0.3-1 1-0.1 1.3 1.2 1.7 2.5 1.9 2.6 1.4 3.4 0.9zM477 242.1l-2.1-1-0.9-1.3 0.4-1 0.7-0.7 1.5-0.2 2 0.9 1.5 1.6-0.2 1-0.6 0.6-1.9 0.1zM466.4 233.2l1.1-0.7 1.2-1.7 1-3.6-0.1-1.6-0.5-1.3-0.8-0.9-1.1-0.6-1.6 0-1.1 0.6-0.9 1.2-0.5 1.6 0.1 2 0.6 2 1.1 1.9 1.3 1.1zM466.1 231.5l-1-1.3-0.2-2.3 0.7-1.5 1.2-0.2 0.9 1 0.3 1.7-0.5 1.6-1.1 1.1z"/>
<path fill="#be2c28" stroke="#be2c28" stroke-width="0.3" d="M453.9 242.1l2.3-0.1 2.1-1.2 0.4-1.4-0.5-1-0.9-0.4-2.3 0.3-1.9 1.5-0.3 1.3 1 1zM477.4 242.1l1.9-0.1 0.6-0.6 0.2-1-1.5-1.6-2-0.9-1.5 0.2-0.7 0.7-0.4 1 0.9 1.3 2.1 1zM466.4 231.6l1.1-1.1 0.5-1.6-0.3-1.7-0.9-1-1.2 0.2-0.7 1.5 0.2 2.3 1 1.3z"/>
<path fill="none" stroke="#000" stroke-opacity="0.55" stroke-width="0.5" d="M466.4 246.7l-1.5-0.8-0.7-2.2 0.7-2.9 0.7-1.1 0.8-0.4 0.8 0.4 0.7 1.1 0.7 2.9-0.7 2.2-1.5 0.8M455.4 234.5l-3.8-2-1.4-1.3-0.7-1.3 0.2-1 0.8-0.7 1.5-0.3 2.3 0.2 4 1.8 1.5 1.3 0.5 1-0.4 1.3-1.1 1-3 0.1M474 234.5l-1.1-1-0.4-1.3 0.8-1.4 1.7-1.3 2-1 2.7-0.6 2.3 0.2 1.1 0.8 0.2 1-0.4 0.9-3.1 2.7-2.8 1.1-3-0.1M466 249.7l-1.5-0.5-0.9-0.9-0.7-1.3-0.3-2 0.4-2.3 0.8-1.9 1.5-2 1.1-0.7 1.1 0.7 1.6 2.3 0.8 2 0.3 2.3-0.4 1.8-0.7 1.3-1.2 0.9-1.5 0.3M454.6 235.2l-2-0.4-2-1-4.3-3-3-2.6-0.8-1.3 0.4-1.1 1.1-0.6 2.3 0 4.9 0.7 3.2 1 4 2.3 2.7 2.3 0.9 1.7-0.8 1.6-2 0.4-4.2 0M472.8 235.1l-1.6-0.6-0.3-1.7 1.5-2 3-2.3 5.4-2.4 7.2-0.9 2 0.7 0.3 0.7-0.3 1-1.8 1.9-4 3-4 2.3-7 0.4M465.6 253l-2.1-0.7-1.6-1.3-0.9-2-0.2-2.3 0.5-2.7 1-2.3 2.6-3.1 1.5-1.3 2 1.8 2.3 3 1 2.6 0.3 2.7-0.4 2.3-1.4 1.9-1.9 1.2-2.3 0.3M455.4 235.5l-4.4-0.4-1.7-0.5-12-7.4-5-3.3-2.3-2-0.3-0.6 0.3-0.7 1.5-0.3 6.5 1 9.8 2.3 4.6 1.6 3.8 2 5.1 4 1.4 1.6 0.7 1.4-0.2 0.6-1 0.4-6.4 0.3M473.2 235.5l-3.6-0.7-0.2-0.6 0.4-1 4.2-4.1 5.7-3.5 5.3-2 11.5-2.6 4.8-0.7 1.1 0.1 0.6 0.6-0.5 1.3-2.5 1.9-16.3 10.3-3.3 0.8-7.2 0.2M523.3 215.2l-18.9 9.7-17.9 9.9-3.6 0.7-7.4 0.1-6.2-0.1-1.1-0.7 1.9-2.6 4.3-3.8 4.5-3 5.3-2.7 6.9-2.6 32.2-10M409.5 210.1l32.2 10 6.9 2.6 5.3 2.7 4.5 3 4.3 3.8 1.9 2.6-1.1 0.7-6.2 0.1-7.4-0.1-3.6-0.7-17.9-9.9-18.9-9.7M464.5 258l-3-1-2.3-1.9-1.3-2.5-0.2-2.9 0.5-2.7 1.4-3.3 6.8-7 6.8 7 1.6 4.3 0.3 3.3-0.9 3-2.5 2.4-3.4 1.3-3.8 0M409.5 268.1l26.2-11.6 13.3-6.7 9.8-6.5 3.8-3.4 3.5-3.8-0.1-0.3-30.7 0-0.4 1.6-1.1 1.7-4.3 3.3-8.2 4.3-11.8 5M523.3 251.7l-11.8-5-8.2-4.3-4.3-3.3-1.1-1.7-0.4-1.6-30.7 0-0.1 0.3 3.5 3.8 3.8 3.4 9.8 6.5 13.3 6.7 26.2 11.6M409.5 235.8l25.4 0 0.4-0.3-0.6-1.7-1.2-1.6-4.5-3.3-7.7-4-11.8-5M523.3 219.9l-11.8 5-7.7 4-4.5 3.3-1.2 1.6-0.6 1.7 0.4 0.3 25.4 0M409.5 203.5l26.2 11.6 13.3 6.7 9.8 6.5 4 3.5 3.6 4 3.6-4 4-3.5 9.8-6.5 13.3-6.7 26.2-11.6M409.5 261.1l33-10 6.5-2.5 4.9-2.5 4.9-3.3 3.8-3.4 1.9-2.6-1.4-0.7-5.8-0.1-6.8 0.1-3.7 0.7-18.3 10.2-19 9.8M523.3 256.8l-19-9.8-18.3-10.2-3.7-0.7-6.8-0.1-5.8 0.1-1.4 0.7 1.9 2.6 3.8 3.4 4.9 3.3 4.9 2.5 6.5 2.5 33 10M466.4 234.8l6.2-6.3 1.7-3.9 0.5-3-0.3-2.3-0.9-2-1.9-1.8-3.8-1.4-4.5 0.4-3.3 1.8-1.8 3-0.1 4 1.4 4.3 1.5 1.9 5.3 5.3M435.7 249.7l3.8-0.4 8.3-1.7 4.2-1.3 3.4-1.6 4.6-3.2 2.8-3.1 0.2-1-0.3-0.6-2.7-0.6-7.3 0.2-3 0.7-8.9 5.6-5.5 4-1.3 2 0.4 0.6 0.9 0.4M496 249.7l1.9-0.1 0.9-0.9-0.4-1-1.7-1.7-13.1-8.5-1.6-0.8-2.7-0.4-6.1-0.1-3.1 0.6-0.3 1 0.4 1 3.3 3.3 3.9 2.6 4.6 2.1 6.1 1.5 7.8 1.4M466.4 234.2l3.5-3.7 1.6-3.9 0.1-2-0.3-2-1-1.6-1.2-1.1-2.3-0.7-2.7 0.5-1.9 1.5-0.9 2.4 0 3 1.1 2.9 2.1 3 1.9 1.7M446.7 245.1l2.3 0.2 3.4-0.4 2.6-0.8 2.6-1.4 2.2-1.6 1.4-1.7 0.1-1.3-1.1-1.3-4.8-0.2-1.6 0.2-2.1 1-3.4 2.3-2.3 2.3-0.5 1.3 1 1.3M481.2 245l4.9 0.1 1-0.7 0.2-1-0.7-1.3-2.1-2-3.4-2.3-2.2-1-3.4-0.3-2.9 0.3-1 1-0.1 1.3 1.2 1.7 2.5 1.9 2.6 1.4 3.4 0.9M466.4 233.2l1.1-0.7 1.2-1.7 1-3.6-0.6-2.9-1.9-1.5-1.6 0-1.1 0.6-0.9 1.2-0.5 1.6 0.7 4 1.1 1.9 1.3 1.1M453.9 242.1l2.3-0.1 2.1-1.2 0.4-1.4-0.5-1-0.9-0.4-2.3 0.3-1.9 1.5-0.3 1.3 1 1M477.4 242.1l1.9-0.1 0.6-0.6 0.2-1-1.5-1.6-2-0.9-1.5 0.2-1.1 1.7 0.9 1.3 2.1 1M466.4 231.6l1.1-1.1 0.5-1.6-0.3-1.7-0.9-1-1.2 0.2-0.7 1.5 0.2 2.3 1 1.3"/>
<path fill="none" stroke="#1e1e1e" stroke-width="1.3" stroke-dasharray="3.6 2.2" d="M466.4 235.8l-3.8-4.2-3.9-3.4-4.6-3.3-5.4-3.2-6.1-3.2-8.5-4.1-28.4-12.6"/>
<path fill="none" stroke="#1e1e1e" stroke-width="1.3" stroke-dasharray="3.6 2.2" d="M466.4 235.8l3.8-4.2 3.9-3.4 4.6-3.3 5.4-3.2 6.1-3.2 8.5-4.1 28.4-12.6"/>
<path fill="none" stroke="#1e1e1e" stroke-width="1.3" stroke-dasharray="3.6 2.2" d="M466.4 235.8l-3.8 4.2-3.9 3.4-4.6 3.3-5.4 3.2-6.1 3.2-8.5 4.1-28.4 12.6"/>
<path fill="none" stroke="#1e1e1e" stroke-width="1.3" stroke-dasharray="3.6 2.2" d="M466.4 235.8l3.8 4.2 3.9 3.4 4.6 3.3 5.4 3.2 6.1 3.2 8.5 4.1 28.4 12.6"/>
<path fill="none" stroke="#1e1e1e" stroke-width="1.3" stroke-dasharray="3.6 2.2" d="M435.3 235.8l-0.4-1.7-1.5-2-2.5-2-3.3-2-4.5-2.4-6.8-3-16.9-6.7"/>
<path fill="none" stroke="#1e1e1e" stroke-width="1.3" stroke-dasharray="3.6 2.2" d="M497.5 235.8l0.4-1.7 1.5-2 2.5-2 3.3-2 4.5-2.4 6.8-3 16.9-6.7"/>
<path fill="none" stroke="#1e1e1e" stroke-width="1.3" stroke-dasharray="3.6 2.2" d="M435.3 235.8l-0.4 1.7-1.5 2-2.5 2-3.3 2-4.5 2.4-6.8 3-16.9 6.7"/>
<path fill="none" stroke="#1e1e1e" stroke-width="1.3" stroke-dasharray="3.6 2.2" d="M497.5 235.8l0.4 1.7 1.5 2 2.5 2 3.3 2 4.5 2.4 6.8 3 16.9 6.7"/>
<path fill="none" stroke="#1e1e1e" stroke-width="1.3" stroke-dasharray="3.6 2.2" d="M405.7 235.8l121.4 0"/>
</g>
<rect x="409.5" y="186.3" width="113.8" height="99.0" fill="none" stroke="#000" stroke-opacity="0.33" stroke-width="0.8"/>
<path stroke="#777" stroke-width="0.5" d="M409.5 285.3v-1.2M409.5 186.3v1.2M409.5 285.3h1.2M523.3 285.3h-1.2M428.5 285.3v-1.2M428.5 186.3v1.2M409.5 268.8h1.2M523.3 268.8h-1.2M447.4 285.3v-1.2M447.4 186.3v1.2M409.5 252.3h1.2M523.3 252.3h-1.2M466.4 285.3v-1.2M466.4 186.3v1.2M409.5 235.8h1.2M523.3 235.8h-1.2M485.4 285.3v-1.2M485.4 186.3v1.2M409.5 219.3h1.2M523.3 219.3h-1.2M504.3 285.3v-1.2M504.3 186.3v1.2M409.5 202.8h1.2M523.3 202.8h-1.2M523.3 285.3v-1.2M523.3 186.3v1.2M409.5 186.3h1.2M523.3 186.3h-1.2"/>
<text class="tk" x="409.5" y="293.4" text-anchor="middle">-15</text>
<text class="tk" x="407.3" y="287.3" text-anchor="end">-15</text>
<text class="tk" x="428.5" y="293.4" text-anchor="middle">-10</text>
<text class="tk" x="407.3" y="270.8" text-anchor="end">-10</text>
<text class="tk" x="447.4" y="293.4" text-anchor="middle">-5</text>
<text class="tk" x="407.3" y="254.3" text-anchor="end">-5</text>
<text class="tk" x="466.4" y="293.4" text-anchor="middle">0</text>
<text class="tk" x="407.3" y="237.8" text-anchor="end">0</text>
<text class="tk" x="485.4" y="293.4" text-anchor="middle">5</text>
<text class="tk" x="407.3" y="221.3" text-anchor="end">5</text>
<text class="tk" x="504.3" y="293.4" text-anchor="middle">10</text>
<text class="tk" x="407.3" y="204.8" text-anchor="end">10</text>
<text class="tk" x="523.3" y="293.4" text-anchor="middle">15</text>
<text class="tk" x="407.3" y="188.3" text-anchor="end">15</text>
<text class="al" x="463.8" y="300.5">P<tspan class="sub" dx="-0.4" dy="1.0">1</tspan></text>
<text class="al" style="font-size:6.6px" transform="translate(396.5,240.6) rotate(-90)">K<tspan class="sub" style="font-size:4.6px" dx="-0.2" dy="1.0">23</tspan></text>
<linearGradient id="gB1" x1="0" y1="1" x2="0" y2="0"><stop offset="0.000" stop-color="#4c5ca5"/><stop offset="0.050" stop-color="#5969ae"/><stop offset="0.100" stop-color="#6c7ab9"/><stop offset="0.150" stop-color="#8793c9"/><stop offset="0.200" stop-color="#9da7d5"/><stop offset="0.250" stop-color="#b4bce1"/><stop offset="0.300" stop-color="#c7cde8"/><stop offset="0.350" stop-color="#dbddef"/><stop offset="0.400" stop-color="#eaebf2"/><stop offset="0.450" stop-color="#f2f2f2"/><stop offset="0.500" stop-color="#f3f3f0"/><stop offset="0.550" stop-color="#f8f4ca"/><stop offset="0.600" stop-color="#f7ee9c"/><stop offset="0.650" stop-color="#f6ea84"/><stop offset="0.700" stop-color="#f4df60"/><stop offset="0.750" stop-color="#f1d040"/><stop offset="0.800" stop-color="#eab437"/><stop offset="0.850" stop-color="#e08431"/><stop offset="0.900" stop-color="#d1522d"/><stop offset="0.950" stop-color="#c63a2a"/><stop offset="1.000" stop-color="#bc2828"/></linearGradient>
<rect x="529.3" y="186.3" width="6.5" height="99.0" fill="url(#gB1)" stroke="#000" stroke-opacity="0.3" stroke-width="0.6"/>
<text class="tk" x="537.2" y="277.4">-0.8</text>
<text class="tk" x="537.2" y="266.4">-0.6</text>
<text class="tk" x="537.2" y="255.4">-0.4</text>
<text class="tk" x="537.2" y="244.4">-0.2</text>
<text class="tk" x="537.2" y="233.4">0</text>
<text class="tk" x="537.2" y="222.4">0.2</text>
<text class="tk" x="537.2" y="211.4">0.4</text>
<text class="tk" x="537.2" y="200.4">0.6</text>
<text class="tk" x="537.2" y="189.4">0.8</text>
<path stroke="#555" stroke-width="0.5" d="M535.8 275.4h-1.2M529.3 275.4h1.2M535.8 264.4h-1.2M529.3 264.4h1.2M535.8 253.4h-1.2M529.3 253.4h1.2M535.8 242.4h-1.2M529.3 242.4h1.2M535.8 231.4h-1.2M529.3 231.4h1.2M535.8 220.4h-1.2M529.3 220.4h1.2M535.8 209.4h-1.2M529.3 209.4h1.2M535.8 198.4h-1.2M529.3 198.4h1.2M535.8 187.4h-1.2M529.3 187.4h1.2"/>
</g>
<g>
<clipPath id="cB21"><rect x="569.3" y="186.3" width="113.2" height="99.0"/></clipPath>
<g clip-path="url(#cB21)">
<path fill="#4c5ca5" stroke="#4c5ca5" stroke-width="0.3" d="M625.9 246.7l1.5-0.8 0.7-2.2-0.7-2.9-0.7-1.1-0.8-0.4-0.8 0.4-0.7 1-0.7 2.7 0.5 2.3 1.5 1zM615 234.5l1.8 0.2 1.6-0.2 1-1 0.4-1.3-0.5-1-1.4-1.3-3.7-1.7-2.3-0.3-1.5 0.2-0.9 0.4-0.5 1.4 0.8 1.3 1.4 1.3 3.5 2zM633.4 234.5l1.6 0.2 2.1-0.2 3.5-2 1.4-1.3 0.8-1.3-0.3-1-0.8-0.7-1.8-0.3-2.3 0.3-2 0.7-2.1 1.3-1 1-0.5 1 0.4 1.3 1 1z"/>
<path fill="#6170b4" stroke="#6170b4" stroke-width="0.3" d="M625.5 249.7l1.5-0.2 1.5-1 0.8-1.3 0.3-1.8-0.3-2.3-0.7-2-1.6-2.3-1.1-0.7-1.1 0.7-1.4 2-0.9 1.9-0.3 2 0.1 1.7 0.6 1.6 1.1 1.2 1.3 0.5zM625.7 246.7l-1.5-1-0.5-2.3 0.7-2.7 0.7-1 0.8-0.4 0.8 0.4 0.7 1.1 0.7 2.9-0.7 2.2-1.5 0.8zM614.2 235.2l4.5 0 2-0.4 0.8-1.3-0.7-1.7-2.8-2.6-3.4-2-3.7-1.3-4.6-0.7-2.3 0-1.2 0.4-0.7 1 0.5 1.3 2.4 2.3 4.2 3 2.4 1.4 2.3 0.5zM614.7 234.5l-3.5-2-1.4-1.3-0.8-1.3 0.5-1.4 0.9-0.4 1.5-0.2 2.3 0.3 3.7 1.7 1.4 1.3 0.5 1-0.4 1.3-1 1-1.6 0.2-1.8-0.2zM632.3 235.1l6.4-0.1 1.7-0.5 2.2-1.3 4.6-3.3 2.2-2.3 0.3-1-0.3-0.7-1.6-0.7-2.8 0-4.1 0.7-2.9 0.9-2.7 1.4-3.1 2.3-1.7 2-0.2 1 0.4 1 1.5 0.6zM633.4 234.5l-1-1-0.4-1.3 0.5-1 1-1 2.1-1.3 2-0.7 2.3-0.3 1.8 0.3 0.8 0.7 0.3 1-0.8 1.3-1.4 1.3-3.5 2-2.1 0.2-1.6-0.2z"/>
<path fill="#9ca6d4" stroke="#9ca6d4" stroke-width="0.3" d="M625.1 253l2.7-0.2 1.9-1.1 1.2-1.7 0.6-2.3-0.3-2.7-1.1-2.9-2.2-3-2-1.8-1.5 1.3-2.5 3.1-1.1 2.3-0.5 2.7 0.2 2.3 0.9 1.8 1.5 1.4 1.9 0.8zM625.3 249.7l-1.3-0.5-1.1-1.2-0.6-1.6-0.1-1.7 0.3-2 0.9-1.9 1.4-2 1.1-0.7 1.1 0.7 1.6 2.3 0.7 2 0.3 2.3-0.3 1.8-0.8 1.3-1.5 1-1.5 0.2zM615 235.5l6-0.2 1.1-0.2 0.8-0.6-0.4-1.3-1.4-1.7-5-4-4.2-2.3-4.5-1.6-9.8-2.3-6.4-1-1.5 0.3-0.3 0.7 0.3 0.6 1.9 1.7 4.3 3 12.8 7.9 1.9 0.6 4.1 0.4zM613.9 235.1l-2.3-0.5-2.4-1.4-4.2-3-2.4-2.3-0.5-1.3 0.7-1 1.2-0.4 2.3 0 4.6 0.7 3.7 1.3 3.4 2 2.8 2.6 0.7 1.7-0.8 1.3-2 0.4-4.5 0zM632.7 235.5l7.2-0.2 3.2-0.8 11.8-7.3 5.8-3.9 1.1-1 0.6-1-0.3-0.7-1.1-0.3-5.2 0.7-9.9 2.2-4.5 1.4-3.4 1.6-5.1 3.3-3.6 3.7-0.4 1 0.2 0.6 1 0.4 2.5 0.3zM632.2 235.1l-1.5-0.6-0.4-1 0.2-1 1.7-2 3.1-2.3 2.7-1.4 2.9-0.9 4.1-0.7 2.8 0 1.6 0.7 0.3 0.7-0.3 1-2.2 2.3-4.6 3.3-2.2 1.3-1.7 0.5-6.4 0.1z"/>
<path fill="#ccd0e9" stroke="#ccd0e9" stroke-width="0.3" d="M624 258l3.8 0 3.4-1.3 1.4-1.1 1-1.3 1-3-0.3-3.3-1.6-4.3-6.8-7-6.8 7-1.2 3-0.6 2.6 0.1 3 1.2 2.6 2 1.8 3 1.2zM624.8 253l-1.9-0.8-1.5-1.4-0.9-1.8-0.2-2.3 0.5-2.7 1.1-2.3 2.5-3.1 1.5-1.3 2 1.8 2.2 3 1.1 2.9 0.3 2.7-0.6 2.3-1.2 1.7-1.9 1.1-2.7 0.2zM609.7 235.5l10.5 0.1 2.8-0.1 1-0.4-0.4-1.3-2.4-2.6-3.2-2.8-3.4-2.3-5.3-2.9-6-2.5-34-10.6 0 5.1 18.8 9.7 17.1 9.6 1.8 0.6 2.5 0.4zM614.7 235.5l-4.1-0.4-1.9-0.6-12.8-7.9-4.3-3-1.9-1.7-0.3-0.6 0.3-0.7 1.5-0.3 6.4 1 9.8 2.3 4.5 1.6 4.2 2.3 5 4 1.4 1.7 0.4 1.3-0.8 0.6-1.1 0.2-6 0.2zM628.9 235.5l12.5 0 3.4-0.4 1.5-0.5 17.4-9.7 18.8-9.7 0-5.1-32.5 10.1-7.5 3-6.4 3.6-4.8 3.7-3.5 4 0 0.6 1 0.4zM632.6 235.5l-2.5-0.3-1-0.4-0.2-0.6 0.4-1 3.6-3.7 5.1-3.3 3.4-1.6 4.5-1.4 9.9-2.2 5.2-0.7 1.1 0.3 0.3 0.7-0.6 1-1.1 1-5.8 3.9-11.8 7.3-3.2 0.8-7.2 0.2z"/>
<path fill="#f1f1f3" stroke="#f1f1f3" stroke-width="0.3" d="M569.7 285.3l112.8 0 0-17.2-26-11.6-13.2-6.7-5.3-3.2-4.6-3.3-3.7-3.4-3.5-3.8 0.1-0.3 30.5 0 0.4 1.6 1.2 1.7 4.2 3.3 8.2 4.3 11.7 5 0-15.9-25.3 0-0.4-0.3 0.6-1.7 1.3-1.6 4.4-3.3 7.7-4 11.7-5 0-4.7-18.8 9.7-17.8 9.9-3.6 0.7-7.3 0.1-6.2-0.1-1-0.3-0.1-0.4 1.9-2.6 4.2-3.8 4.6-3 5.2-2.7 6.8-2.6 32.1-10 0-6.6-26 11.6-13.2 6.7-4.9 3-5 3.5-3.9 3.5-3.6 4-3.6-4-3.9-3.5-5-3.5-4.9-3-13.2-6.7-26-11.6 0 6.6 32.1 10 6.8 2.6 5.2 2.7 4.6 3 4.2 3.8 1.9 2.6-0.1 0.4-1 0.3-6.2 0.1-7.3-0.1-3.6-0.7-17.8-9.9-18.8-9.7 0 4.7 11.7 5 7.7 4 4.4 3.3 1.3 1.6 0.6 1.7-0.4 0.3-25.3 0 0 15.9 11.7-5 8.2-4.3 4.2-3.3 1.2-1.7 0.4-1.6 30.5 0 0.1 0.3-3.5 3.8-3.7 3.4-4.6 3.3-5.3 3.2-13.2 6.7-26 11.6 0 17.2zM623.6 257.9l-3-1.2-2-1.8-1.2-2.6-0.1-3 0.6-2.6 1.2-3 6.8-7 6.8 7 1.6 4.3 0.3 3.3-1 3-1 1.3-1.4 1.1-3.4 1.3-3.8 0z"/>
<path fill="#f8f5d4" stroke="#f8f5d4" stroke-width="0.3" d="M569.7 268l25.6-11.5 13.2-6.7 5.3-3.2 4.6-3.3 3.7-3.4 3.5-3.8-0.1-0.3-30.5 0-0.4 1.6-1.2 1.7-4.2 3.3-8.2 4.3-11.7 5 0 5.1 18.9-9.8 18.2-10.2 4.8-0.7 11.3 0 1.4 0.4 0 0.6-0.6 1-2.8 3-4 3.1-4.2 2.6-4.5 2.2-6 2.2-32.5 9.9 0 7zM682.1 268l0.4 0.1 0-7-32.5-9.9-6-2.2-4.5-2.2-4.2-2.6-4-3.1-2.8-3-0.6-1 0-0.6 1.4-0.4 11.3 0 4.8 0.7 18.2 10.2 18.9 9.8 0-5.1-11.7-5-8.2-4.3-4.2-3.3-1.2-1.7-0.4-1.6-30.5 0-0.1 0.3 3.5 3.8 3.7 3.4 4.6 3.3 5.3 3.2 13.2 6.7 25.3 11.3zM569.7 235.8l24.9 0 0.4-0.3-0.6-1.7-1.3-1.6-4.4-3.3-7.7-4-11.7-5 0 15.9zM625.9 235.8l3.6-4 3.9-3.5 5-3.5 4.9-3 13.2-6.7 26-11.6 0-17.2-113.2 0 0 17.2 26 11.6 13.2 6.7 4.9 3 4.6 3.2 4 3.5 3.6 4zM625.9 234.8l-5.3-5.3-1.5-1.9-1.4-4.3-0.1-2 0.2-2 0.8-1.7 1-1.3 1.4-1 1.9-0.8 2.2-0.5 2.3 0.1 1.9 0.5 1.9 0.9 1.8 1.8 1 2 0.2 2.3-0.4 3-1.8 3.9-6.1 6.3zM657.2 235.8l25.3 0 0-15.9-11.7 5-7.7 4-4.4 3.3-1.3 1.6-0.6 1.7z"/>
<path fill="#f6ea80" stroke="#f6ea80" stroke-width="0.3" d="M569.7 261l34.7-10.7 6-2.5 5.3-3.1 3.4-2.5 2.7-2.4 1.9-2.4 0.2-0.9-2.2-0.4-7.1-0.1-4.5 0.1-3.4 0.6-19.3 10.7-18.1 9.4 0 4.3zM595 249.7l-1-0.4-0.3-0.6 0.3-1 1-1 5.5-4 8.8-5.6 3-0.7 7.2-0.2 2.7 0.6 0.4 0.7-0.3 0.9-2.8 3.1-4.6 3.2-3.3 1.6-4.2 1.3-8.3 1.7-3.8 0.4zM682.1 261l0.4 0.1 0-4.3-17.4-9-20.3-11.2-3.1-0.5-5.6-0.1-6 0.1-2.2 0.4 0.2 0.9 1.9 2.4 2.7 2.4 3.4 2.5 5.3 3.1 6 2.5 34.4 10.6zM655.3 249.7l-7.9-1.4-6-1.5-4.6-2.1-3.8-2.6-3.3-3.3-0.4-1 0.3-1 0.6-0.3 2.5-0.3 6 0.1 2.7 0.4 1.7 0.7 12.9 8.6 1.8 1.7 0.3 1-0.3 0.6-0.6 0.3-1.9 0.1zM625.9 234.8l6.1-6.3 1.8-3.9 0.4-3-0.2-2.3-1-2-1.8-1.8-1.9-0.9-1.9-0.5-2.3-0.1-2.2 0.5-1.9 0.8-1.4 1-1 1.4-0.8 1.6-0.2 2 0.1 2 1.4 4.3 1.5 1.9 5.3 5.3zM625.9 234.2l-1.9-1.7-2.1-3-1-2.9-0.1-3 0.9-2.4 1.9-1.5 2.7-0.5 2.2 0.7 1.3 1.1 1 1.6 0.3 2-0.2 2-0.7 2.3-0.9 1.6-1.9 2.4-1.5 1.3z"/>
<path fill="#eec43c" stroke="#eec43c" stroke-width="0.3" d="M595.3 249.7l3.8-0.4 8.3-1.7 4.2-1.3 3.3-1.6 4.6-3.2 2.8-3.1 0.3-1-0.4-0.6-2.7-0.6-7.2 0.2-3 0.7-8.8 5.6-5.5 4-1 1-0.3 1 0.3 0.6 1 0.4zM606.1 245l-0.6-0.4-0.4-0.9 0.5-1.3 2.3-2.3 3.3-2.3 2.2-1 1.6-0.2 2.6-0.1 2.2 0.3 1.1 1.3-0.2 1.3-1.4 1.7-2.2 1.6-2.5 1.4-2.7 0.8-3.4 0.4-2.2-0.2zM655.3 249.7l1.9-0.1 0.6-0.3 0.3-0.6-0.3-1-1.8-1.7-12.9-8.5-1.7-0.8-2.7-0.4-6-0.1-2.5 0.3-0.6 0.3-0.3 1 0.4 1 3.3 3.3 3.8 2.6 4.6 2.1 6 1.5 7.9 1.4zM640.6 245l-3.4-0.9-2.5-1.4-2.6-1.9-1.2-1.7 0.2-1.3 0.9-1 3-0.3 3.4 0.3 2.2 1 3.3 2.3 2.1 2 0.7 1.3-0.2 1-1 0.7-1.9 0.2-3-0.3zM625.9 234.2l1.5-1.3 1.9-2.4 0.9-1.6 0.7-2.3 0.2-2-0.3-2-1-1.6-1.3-1.1-2.2-0.7-2.7 0.5-1.9 1.5-0.9 2.4 0.1 3 1 2.9 2.1 3 1.9 1.7zM625.7 233.2l-1.3-1.1-1.1-1.9-0.6-2-0.1-2 0.5-1.6 0.9-1.2 1.1-0.6 1.6 0 1.1 0.6 0.7 0.9 0.6 1.3 0.1 1.6-1 3.6-1.2 1.7-1.1 0.7z"/>
<path fill="#d55e2e" stroke="#d55e2e" stroke-width="0.3" d="M606.3 245.1l2.2 0.2 3.4-0.4 2.7-0.8 2.5-1.4 2.2-1.6 1.4-1.7 0.2-1.3-1.1-1.3-2.2-0.3-2.6 0.1-1.6 0.2-2.2 1-3.3 2.3-2.3 2.3-0.5 1.3 0.4 0.9 0.6 0.4zM640.6 245l3 0.3 1.9-0.2 1-0.7 0.2-1-0.7-1.3-2.1-2-3.3-2.3-2.2-1-3.4-0.3-3 0.3-0.9 1-0.2 1.3 1.2 1.7 2.6 1.9 2.5 1.4 3.4 0.9zM625.9 233.2l1.1-0.7 1.2-1.7 1-3.6-0.1-1.6-0.6-1.3-0.7-0.9-1.1-0.6-1.6 0-1.1 0.6-0.9 1.2-0.5 1.6 0.1 2 0.6 2 1.1 1.9 1.3 1.1z"/>
<path fill="none" stroke="#000" stroke-opacity="0.55" stroke-width="0.5" d="M625.9 246.7l-1.5-0.8-0.7-2.2 0.7-2.9 0.7-1.1 0.8-0.4 0.8 0.4 0.7 1.1 0.7 2.9-0.7 2.2-1.5 0.8M615 234.5l-3.8-2-1.4-1.3-0.8-1.3 0.3-1 0.8-0.7 1.5-0.3 2.2 0.2 4.1 1.8 1.4 1.3 0.5 1-0.4 1.3-1 1-3.1 0.1M633.4 234.5l-0.8-0.7-0.6-1.3 0.3-1 1.2-1.3 3.7-1.9 2.3-0.4 1.9 0.2 0.9 0.4 0.5 1.4-1.8 2.3-3.8 2.2-3.4 0.2M625.5 249.7l-1.5-0.5-0.9-0.9-0.7-1.3-0.2-2 0.3-2.3 0.9-1.9 1.4-2 1.1-0.7 1.1 0.7 1.6 2.3 0.7 2 0.3 2.3-0.3 1.8-0.8 1.3-1.1 0.9-1.5 0.3M614.2 235.2l-2-0.4-2-1-4.3-3-3-2.6-0.8-1.3 0.4-1.1 1.1-0.6 2.3 0 4.9 0.7 3.1 1 4.1 2.3 2.6 2.3 0.9 1.7-0.8 1.6-2 0.4-4.1 0M632.3 235.1l-1.6-0.6-0.3-1.7 1.5-2 2.9-2.3 5.4-2.4 7.2-0.9 2 0.7 0.3 0.7-0.3 1-1.8 1.9-4 3-4 2.3-6.9 0.4M625.1 253l-2.1-0.7-1.5-1.3-1-2-0.2-2.3 0.5-2.7 1.1-2.3 2.5-3.1 1.5-1.3 2 1.8 2.2 3 1 2.6 0.4 2.7-0.4 2.3-1.4 1.9-1.9 1.2-2.3 0.3M615 235.5l-4.4-0.4-2.5-0.9-15.6-10-2.5-1.9-0.5-1.3 0.9-0.7 1.5 0 8.7 1.6 8.3 2.1 5.7 2.6 5.5 3.9 1.9 2 0.9 1.7-0.2 0.6-1 0.4-6.7 0.3M632.7 235.5l-3.6-0.7-0.2-0.6 0.4-1 3.6-3.7 5.1-3.3 3.4-1.6 4.5-1.4 9.9-2.2 5.2-0.7 1.1 0.3 0.3 0.7-1.7 2-17.6 11.2-2.9 0.8-7.1 0.2M682.5 215.2l-18.8 9.7-17.8 9.9-3.6 0.7-7.3 0.1-6.2-0.1-1.1-0.7 1.9-2.6 4.2-3.8 4.6-3 5.2-2.7 6.8-2.6 32.1-10M569.3 210.1l32.1 10 6.8 2.6 5.2 2.7 4.6 3 4.2 3.8 1.9 2.6-1.1 0.7-6.2 0.1-7.3-0.1-3.6-0.7-17.8-9.9-18.8-9.7M624 258l-3-1-2.3-1.9-1.2-2.5-0.3-2.9 0.6-2.7 1.3-3.3 6.8-7 6.8 7 1.6 4.3 0.3 3.3-1 3-2.4 2.4-3.4 1.3-3.8 0M569.3 268.1l26-11.6 13.2-6.7 9.9-6.5 3.7-3.4 3.5-3.8-0.1-0.3-30.5 0-0.4 1.6-1.2 1.7-4.2 3.3-8.2 4.3-11.7 5M682.5 251.7l-11.7-5-8.2-4.3-4.2-3.3-1.2-1.7-0.4-1.6-30.5 0-0.1 0.3 3.5 3.8 3.7 3.4 9.9 6.5 13.2 6.7 26 11.6M569.3 235.8l25.3 0 0.4-0.3-0.6-1.7-1.3-1.6-4.4-3.3-7.7-4-11.7-5M682.5 219.9l-11.7 5-7.7 4-4.4 3.3-1.3 1.6-0.6 1.7 0.4 0.3 25.3 0M569.3 203.5l26 11.6 13.2 6.7 9.9 6.5 3.9 3.5 3.6 4 3.6-4 3.9-3.5 9.9-6.5 13.2-6.7 26-11.6M569.3 261.1l32.8-10 6.4-2.5 4.9-2.5 5-3.3 3.8-3.4 1.8-2.6-1.3-0.7-5.9-0.1-6.7 0.1-3.7 0.7-18.2 10.2-18.9 9.8M682.5 256.8l-18.9-9.8-18.2-10.2-3.7-0.7-6.7-0.1-5.9 0.1-1.3 0.7 1.8 2.6 3.8 3.4 5 3.3 4.9 2.5 6.4 2.5 32.8 10M625.9 234.8l6.1-6.3 1.8-3.9 0.4-3-0.2-2.3-1-2-1.8-1.8-3.8-1.4-4.5 0.4-3.3 1.8-1.8 3-0.1 4 1.4 4.3 1.5 1.9 5.3 5.3M595.3 249.7l3.8-0.4 8.3-1.7 4.2-1.3 3.3-1.6 4.6-3.2 2.8-3.1 0.3-1-0.4-0.6-2.7-0.6-7.2 0.2-3 0.7-8.8 5.6-5.5 4-1.3 2 0.3 0.6 1 0.4M655.3 249.7l1.9-0.1 0.9-0.9-0.3-1-1.8-1.7-12.9-8.5-1.7-0.8-2.7-0.4-6-0.1-3.1 0.6-0.3 1 0.4 1 3.3 3.3 3.8 2.6 4.6 2.1 6 1.5 7.9 1.4M625.9 234.2l3.4-3.7 1.6-3.9 0.2-2-0.3-2-1-1.6-1.3-1.1-2.2-0.7-2.7 0.5-1.9 1.5-0.9 2.4 0.1 3 1 2.9 2.1 3 1.9 1.7M606.3 245.1l2.2 0.2 3.4-0.4 2.7-0.8 2.5-1.4 2.2-1.6 1.4-1.7 0.2-1.3-1.1-1.3-4.8-0.2-1.6 0.2-2.2 1-3.3 2.3-2.3 2.3-0.5 1.3 1 1.3M640.6 245l4.9 0.1 1-0.7 0.2-1-0.7-1.3-2.1-2-3.3-2.3-2.2-1-3.4-0.3-3 0.3-0.9 1-0.2 1.3 1.2 1.7 2.6 1.9 2.5 1.4 3.4 0.9M625.9 233.2l1.1-0.7 1.2-1.7 1-3.6-0.7-2.9-1.8-1.5-1.6 0-1.1 0.6-0.9 1.2-0.5 1.6 0.7 4 1.1 1.9 1.3 1.1"/>
<path fill="none" stroke="#1e1e1e" stroke-width="1.3" stroke-dasharray="3.6 2.2" d="M625.9 235.8l-3.8-4.2-3.8-3.4-4.6-3.3-5.4-3.2-6.1-3.2-8.4-4.1-28.3-12.6"/>
<path fill="none" stroke="#1e1e1e" stroke-width="1.3" stroke-dasharray="3.6 2.2" d="M625.9 235.8l3.8-4.2 3.8-3.4 4.6-3.3 5.4-3.2 6.1-3.2 8.4-4.1 28.3-12.6"/>
<path fill="none" stroke="#1e1e1e" stroke-width="1.3" stroke-dasharray="3.6 2.2" d="M625.9 235.8l-3.8 4.2-3.8 3.4-4.6 3.3-5.4 3.2-6.1 3.2-8.4 4.1-28.3 12.6"/>
<path fill="none" stroke="#1e1e1e" stroke-width="1.3" stroke-dasharray="3.6 2.2" d="M625.9 235.8l3.8 4.2 3.8 3.4 4.6 3.3 5.4 3.2 6.1 3.2 8.4 4.1 28.3 12.6"/>
<path fill="none" stroke="#1e1e1e" stroke-width="1.3" stroke-dasharray="3.6 2.2" d="M595 235.8l-0.4-1.7-1.5-2-2.5-2-3.3-2-4.5-2.4-6.7-3-16.9-6.7"/>
<path fill="none" stroke="#1e1e1e" stroke-width="1.3" stroke-dasharray="3.6 2.2" d="M656.8 235.8l0.4-1.7 1.5-2 2.5-2 3.3-2 4.5-2.4 6.7-3 16.9-6.7"/>
<path fill="none" stroke="#1e1e1e" stroke-width="1.3" stroke-dasharray="3.6 2.2" d="M595 235.8l-0.4 1.7-1.5 2-2.5 2-3.3 2-4.5 2.4-6.7 3-16.9 6.7"/>
<path fill="none" stroke="#1e1e1e" stroke-width="1.3" stroke-dasharray="3.6 2.2" d="M656.8 235.8l0.4 1.7 1.5 2 2.5 2 3.3 2 4.5 2.4 6.7 3 16.9 6.7"/>
<path fill="none" stroke="#1e1e1e" stroke-width="1.3" stroke-dasharray="3.6 2.2" d="M565.5 235.8l120.8 0"/>
</g>
<rect x="569.3" y="186.3" width="113.2" height="99.0" fill="none" stroke="#000" stroke-opacity="0.33" stroke-width="0.8"/>
<path stroke="#777" stroke-width="0.5" d="M569.3 285.3v-1.2M569.3 186.3v1.2M569.3 285.3h1.2M682.5 285.3h-1.2M588.2 285.3v-1.2M588.2 186.3v1.2M569.3 268.8h1.2M682.5 268.8h-1.2M607.0 285.3v-1.2M607.0 186.3v1.2M569.3 252.3h1.2M682.5 252.3h-1.2M625.9 285.3v-1.2M625.9 186.3v1.2M569.3 235.8h1.2M682.5 235.8h-1.2M644.8 285.3v-1.2M644.8 186.3v1.2M569.3 219.3h1.2M682.5 219.3h-1.2M663.6 285.3v-1.2M663.6 186.3v1.2M569.3 202.8h1.2M682.5 202.8h-1.2M682.5 285.3v-1.2M682.5 186.3v1.2M569.3 186.3h1.2M682.5 186.3h-1.2"/>
<text class="tk" x="569.3" y="293.4" text-anchor="middle">-15</text>
<text class="tk" x="567.1" y="287.3" text-anchor="end">-15</text>
<text class="tk" x="588.2" y="293.4" text-anchor="middle">-10</text>
<text class="tk" x="567.1" y="270.8" text-anchor="end">-10</text>
<text class="tk" x="607.0" y="293.4" text-anchor="middle">-5</text>
<text class="tk" x="567.1" y="254.3" text-anchor="end">-5</text>
<text class="tk" x="625.9" y="293.4" text-anchor="middle">0</text>
<text class="tk" x="567.1" y="237.8" text-anchor="end">0</text>
<text class="tk" x="644.8" y="293.4" text-anchor="middle">5</text>
<text class="tk" x="567.1" y="221.3" text-anchor="end">5</text>
<text class="tk" x="663.6" y="293.4" text-anchor="middle">10</text>
<text class="tk" x="567.1" y="204.8" text-anchor="end">10</text>
<text class="tk" x="682.5" y="293.4" text-anchor="middle">15</text>
<text class="tk" x="567.1" y="188.3" text-anchor="end">15</text>
<text class="al" x="623.3" y="300.5">P<tspan class="sub" dx="-0.4" dy="1.0">1</tspan></text>
<text class="al" style="font-size:6.6px" transform="translate(556.3,240.6) rotate(-90)">K<tspan class="sub" style="font-size:4.6px" dx="-0.2" dy="1.0">23</tspan></text>
<linearGradient id="gB21" x1="0" y1="1" x2="0" y2="0"><stop offset="0.000" stop-color="#4c5ca5"/><stop offset="0.050" stop-color="#5969ae"/><stop offset="0.100" stop-color="#6c7ab9"/><stop offset="0.150" stop-color="#8793c9"/><stop offset="0.200" stop-color="#9da7d5"/><stop offset="0.250" stop-color="#b4bce1"/><stop offset="0.300" stop-color="#c7cde8"/><stop offset="0.350" stop-color="#dbddef"/><stop offset="0.400" stop-color="#eaebf2"/><stop offset="0.450" stop-color="#f2f2f2"/><stop offset="0.500" stop-color="#f3f3f0"/><stop offset="0.550" stop-color="#f8f4ca"/><stop offset="0.600" stop-color="#f7ee9c"/><stop offset="0.650" stop-color="#f6ea84"/><stop offset="0.700" stop-color="#f4df60"/><stop offset="0.750" stop-color="#f1d040"/><stop offset="0.800" stop-color="#eab437"/><stop offset="0.850" stop-color="#e08431"/><stop offset="0.900" stop-color="#d1522d"/><stop offset="0.950" stop-color="#c63a2a"/><stop offset="1.000" stop-color="#bc2828"/></linearGradient>
<rect x="689.0" y="186.3" width="6.2" height="99.0" fill="url(#gB21)" stroke="#000" stroke-opacity="0.3" stroke-width="0.6"/>
<text class="tk" x="696.6" y="279.3">-0.8</text>
<text class="tk" x="696.6" y="267.9">-0.6</text>
<text class="tk" x="696.6" y="256.5">-0.4</text>
<text class="tk" x="696.6" y="245.1">-0.2</text>
<text class="tk" x="696.6" y="233.7">0</text>
<text class="tk" x="696.6" y="222.3">0.2</text>
<text class="tk" x="696.6" y="210.8">0.4</text>
<text class="tk" x="696.6" y="199.4">0.6</text>
<path stroke="#555" stroke-width="0.5" d="M695.2 277.3h-1.2M689.0 277.3h1.2M695.2 265.9h-1.2M689.0 265.9h1.2M695.2 254.5h-1.2M689.0 254.5h1.2M695.2 243.1h-1.2M689.0 243.1h1.2M695.2 231.7h-1.2M689.0 231.7h1.2M695.2 220.3h-1.2M689.0 220.3h1.2M695.2 208.8h-1.2M689.0 208.8h1.2M695.2 197.4h-1.2M689.0 197.4h1.2"/>
</g>
<g>
<clipPath id="cB2"><rect x="409.5" y="321.3" width="113.8" height="99.0"/></clipPath>
<g clip-path="url(#cB2)">
<path fill="#4c5ca5" stroke="#4c5ca5" stroke-width="0.3" d="M466 376.1l0.8 0 0.7-0.7-0.1-0.6-0.6-0.6-0.8 0-0.6 0.6-0.1 0.6 0.7 0.7z"/>
<path fill="#4f5fa7" stroke="#4f5fa7" stroke-width="0.3" d="M465.6 377.4l1.9-0.1 1.2-1.2-0.2-1.7-1.3-1-1.8 0-1.3 1.4 0.2 1.6 1.3 1zM466 376.1l-0.7-0.7 0.1-0.6 0.6-0.6 0.8 0 0.6 0.6 0.1 0.6-0.7 0.7-0.8 0z"/>
<path fill="#5f6eb2" stroke="#5f6eb2" stroke-width="0.3" d="M465.3 378.5l1.5 0.1 1.1-0.3 0.9-0.6 0.8-1 0.2-1.3-0.3-1-1-1-1-0.5-1.1-0.2-1.5 0.4-1 0.7-0.7 1-0.2 1 0.4 1.2 1.7 1.4zM465.6 377.4l-1.3-1-0.2-1.6 1.3-1.4 1.8 0 1.3 1 0.2 1.7-1.2 1.2-1.9 0.1z"/>
<path fill="#7d89c3" stroke="#7d89c3" stroke-width="0.3" d="M464.9 379.4l1.9 0.3 1.5-0.4 1.4-0.9 0.8-1.3 0.3-1.3-0.4-1.4-0.9-1-1.6-0.8-1.5-0.3-1.9 0.4-1.5 1-0.7 1.1-0.3 1.3 0.4 1.3 1 1.2 1.3 0.8zM465.1 378.4l-1.7-1.4-0.4-1.3 0.2-0.9 0.7-1 1-0.7 1.5-0.4 1.1 0.2 1 0.5 1 1 0.3 1-0.2 1.3-0.8 1-0.9 0.6-1.1 0.3-1.5-0.1z"/>
<path fill="#99a3d2" stroke="#99a3d2" stroke-width="0.3" d="M465.6 380.7l1.9 0 1.9-0.7 1.6-1.4 0.7-1.9-0.1-1.6-0.8-1.3-1.4-1-2.2-0.8-1.9 0.1-1.9 0.7-1.4 1-0.9 1.6 0 1.7 0.9 1.6 1.4 1.3 2 0.7zM464.7 379.4l-1.3-0.8-1-1.2-0.4-1.3 0.3-1.3 0.7-1.1 1.5-1 1.9-0.4 1.5 0.3 1.6 0.8 0.9 1 0.4 1.4-0.3 1.3-0.8 1.3-1.4 0.9-1.5 0.4-1.9-0.3z"/>
<path fill="#b3bbe1" stroke="#b3bbe1" stroke-width="0.3" d="M464.5 381.8l2.3 0.2 2.3-0.5 1.9-1.1 1.5-2 0.4-2-0.6-2-1.3-1.3-2.1-1-2.5-0.4-2.5 0.4-2.1 1-1.5 1.7-0.4 1.9 0.6 2 1.7 2 2.1 1zM465.4 380.7l-2-0.7-1.4-1.3-0.9-1.6 0-1.7 0.9-1.6 1.4-1 1.9-0.7 1.9-0.1 2.2 0.8 1.4 1 0.8 1.3 0.1 1.6-0.7 1.9-1.6 1.4-1.9 0.7-1.9 0z"/>
<path fill="#cacfe9" stroke="#cacfe9" stroke-width="0.3" d="M465.6 385.3l3.5-0.3 3-1.3 2.5-2.3 1.3-3-0.1-2.6-1.4-2.4-2.3-1.3-3.8-0.7-4.6 0.1-3.4 0.8-2.2 1.5-1.2 2.3 0.2 2.9 1.7 3.1 3 2.2 3.6 1zM464.3 381.7l-2.1-1-1.7-2-0.6-2 0.4-1.9 1.5-1.7 2.1-1 2.5-0.4 2.5 0.4 2.1 1 1.3 1.3 0.6 2-0.4 2-1.5 2-1.9 1.1-2.3 0.5-2.3-0.2z"/>
<path fill="#f1f1f3" stroke="#f1f1f3" stroke-width="0.3" d="M409.9 420.3l32 0 0-4-0.5-4.6-1.3-2.6-2.1-1.2-1.2-0.2-3 0.5-24.3 10.1 0 2zM491.1 420.3l32.2 0 0-2-24.3-10.1-3-0.5-1.2 0.2-1.8 1-1.2 1.8-0.5 1.3-0.4 4.3 0 4zM409.9 395.1l34.1-14.7 3.1-3.7 1.1-3.6 0.4-2.3 6.4 0 0.2 0.3-0.8 5-2.2 7.9-0.4 3 0.1 4.3 1.2 1.4 1.5 0.4 24.3-0.2 1.3-0.7 0.7-0.9 0.1-4-0.4-3.3-1.8-6.3-1.2-6.6 0.2-0.3 6.4 0 0.4 2.6 1.1 3.3 2.9 3.7 34.7 14.8 0-24.4-38.7 0-0.2-0.3 0.1-2 1.2-3.6 3.1-3.7 34.5-14.8 0-23.1-24.3 10.1-3 0.5-1.2-0.2-1.8-1-1.2-1.8-0.5-1.3-0.4-4.3 0-4-49 0 0 4-0.5 4.6-1.3 2.6-2.9 1.4-3.4-0.5-24.3-10.1 0 23.1 34.5 14.8 1.5 1.6 1.6 2.4 1.2 3.6 0.1 1.7-0.2 0.3-38.7 0 0 24.4zM465.4 385.3l-3.6-1-3-2.2-1.7-3.1-0.2-2.9 1.2-2.3 2.2-1.5 3.4-0.8 4.6-0.1 3.8 0.7 2.3 1.3 1.4 2.3 0.1 2.7-1.3 3-2.5 2.3-3 1.3-3.5 0.3zM455.2 370.5l-0.8-5-2.2-7.9-0.4-2.6 0-4.3 0.8-1.3 1.7-0.5 24.2 0 1.2 0.1 1.1 1 0.2 4-0.4 3.6-1.8 6.3-1.4 6.9-22 0z"/>
<path fill="#f8f5d2" stroke="#f8f5d2" stroke-width="0.3" d="M442.1 420.3l48.8 0 0-4 0.7-5.2 1.1-2 2.9-1.4 3.4 0.5 24.3 10.1 0-23.1-34.7-14.8-2.9-3.7-1.1-3.3-0.4-2.6-6.4 0-0.2 0.3 1.2 6.6 1.8 6.3 0.4 3.3-0.1 4-0.7 0.9-1.3 0.7-24.3 0.2-1.5-0.4-1.2-1.4-0.1-4.3 0.4-3 2.2-7.9 0.8-5-0.2-0.3-6.4 0-0.4 2.3-1.1 3.6-3.1 3.7-34.5 14.8 0 23.1 24.3-10.1 3.4-0.5 2.9 1.4 1.3 2.6 0.5 4.6 0 4zM409.9 370.8l38.3 0 0.2-1.3-1.5-4.6-2.1-3-0.8-0.7-34.5-14.8 0 24.4zM455.4 370.8l22 0 1.4-6.9 1.8-6.3 0.4-3.6-0.2-4-1.1-1-1.2-0.1-24.2 0-1.7 0.5-0.8 1.3 0 4.3 0.4 2.6 2.2 7.9 0.8 5zM464.5 370.1l-3.4-0.8-2.3-1.5-1.1-2 0-2.6 1.2-2.6 2.6-2.3 3-1.1 3-0.1 3.1 0.8 2.7 2 1.6 2.7 0.3 2.9-0.9 2-2.1 1.7-3.5 0.9-3.8 0.1zM484.6 370.8l38.7 0 0-24.4-34.5 14.8-3.1 3.7-1.2 3.6-0.1 2zM436.4 333.9l1.6-0.2 2.1-1.2 1.3-2.6 0.5-4.6 0-4-32.4 0 0 2 24.3 10.1 2.5 0.4zM495.2 333.9l3.8-0.5 24.3-10.1 0-2-32.4 0 0 4 0.5 4.6 1.3 2.6 2.4 1.3z"/>
<path fill="#f6e87d" stroke="#f6e87d" stroke-width="0.3" d="M464.9 370.2l3.8-0.1 3.5-0.9 2.1-1.7 0.9-2-0.3-2.9-1.6-2.7-2.7-2-3.1-0.8-3 0.1-3 1.1-2.6 2.3-1.2 2.6 0 2.6 1.1 2 2.3 1.5 3.4 0.8zM464.8 369.5l-2.2-1-1.3-1.3-0.5-1.7 0.2-1.6 1.1-1.7 1.6-1.1 1.9-0.5 2.3 0.1 1.9 0.8 1.4 1.4 0.8 1.6-0.2 2-1.1 1.7-1.6 0.9-2.3 0.6-1.9-0.2z"/>
<path fill="#edbf3b" stroke="#edbf3b" stroke-width="0.3" d="M464.9 369.5l1.9 0.2 2.3-0.6 1.6-0.9 1.1-1.7 0.2-2-0.8-1.6-1.4-1.4-1.9-0.8-2.3-0.1-1.9 0.5-1.6 1.1-1.1 1.7-0.2 1.6 0.5 1.7 1.3 1.3 2.2 1zM465.2 369.2l-1.5-0.7-1.3-1.3-0.4-1.4 0.2-1.3 0.8-1.3 1.1-0.8 1.5-0.5 1.9 0.1 1.6 0.6 1.1 1.1 0.6 1.5-0.1 1.3-0.8 1.3-1.4 1-1.7 0.5-1.5-0.1z"/>
<path fill="#e28e32" stroke="#e28e32" stroke-width="0.3" d="M465.3 369.2l1.5 0.1 1.7-0.5 1.4-1 0.8-1.3 0.1-1.3-0.6-1.5-1.1-1.1-1.6-0.6-1.9-0.1-1.5 0.5-1.1 0.8-0.8 1.3-0.2 1.3 0.4 1.4 1.3 1.3 1.5 0.7zM466 368.8l-1.1-0.3-1.2-1-0.5-1 0-1 0.4-1 0.9-0.9 1.1-0.4 1.6 0 1.1 0.4 0.9 0.9 0.4 1 0 1-1.2 1.7-1.2 0.5-1.2 0.1z"/>
<path fill="#d2542d" stroke="#d2542d" stroke-width="0.3" d="M466 368.8l1.2-0.1 1.2-0.5 1.2-1.7 0-1-0.4-1-0.9-0.9-1.1-0.4-1.6 0-1.1 0.4-0.9 0.9-0.4 1 0 1 0.5 1 1.2 1 1.1 0.3zM466.2 368.2l-1.3-0.7-0.6-1.3 0.8-1.3 1.7-0.4 1.3 0.7 0.3 1.3-0.9 1.3-1.1 0.4z"/>
<path fill="#c5372a" stroke="#c5372a" stroke-width="0.3" d="M466.4 368.2l1.1-0.4 0.9-1.3-0.3-1.3-1.3-0.7-1.7 0.4-0.8 1.3 0.6 1.3 1.3 0.7z"/>
<path fill="none" stroke="#000" stroke-opacity="0.55" stroke-width="0.5" d="M466 376.1l-0.7-1 0.3-0.7 0.8-0.3 0.8 0.3 0.3 0.7-0.3 0.8-0.8 0.2M465.6 377.4l-1.3-1-0.2-1.6 1.2-1.3 1.5-0.2 1.5 0.8 0.5 1.7-0.9 1.3-1.9 0.4M465.3 378.5l-1.9-1.5-0.4-1.3 0.2-0.9 1.6-1.7 2.4-0.3 2 1.3 0.5 1 0 1.3-1.4 1.7-2.7 0.5M464.9 379.4l-1.5-0.8-1-1.2-0.4-1.3 0.3-1.3 0.7-1 1.4-1 1.6-0.5 1.5 0.2 2.6 1.6 0.6 1.3 0 1.3-0.7 1.4-1.3 1-1.5 0.5-1.9 0M465.6 380.7l-1.9-0.5-1.5-1.2-1-1.6-0.1-1.6 0.4-1.4 1.3-1.3 2.1-0.9 1.9-0.2 1.9 0.5 1.7 0.9 1.1 1.4 0.3 1.6-0.5 1.7-1.5 1.6-1.9 0.9-1.9 0.2M464.5 381.8l-2.2-1.1-1.6-1.7-0.7-1.9 0.2-2 1.1-1.7 1.7-1 3-0.7 2.3 0.3 2.2 0.8 1.6 1.3 0.8 2-0.3 2-1.3 1.9-1.9 1.3-2.2 0.7-2.3-0.2M465.6 385.3l-4.1-1.2-3.3-2.7-0.9-1.7-0.5-2 0.1-1.6 0.7-1.7 2.4-1.9 4.1-1.1 5.3 0.1 4.1 1.3 1.5 1.3 0.9 2 0 2.3-0.9 2.3-1.8 2.1-2.2 1.5-2.7 0.9-2.7 0.1M490.9 420.3l0-4 0.7-5.2 1.1-2 2.9-1.4 3.4 0.5 24.3 10.1M409.5 418.3l24.3-10.1 3.4-0.5 2.9 1.4 1.3 2.6 0.5 8.6M523.3 395.2l-34.7-14.8-2.9-3.7-1.1-3.3-0.4-2.6-6.4 0-0.2 0.3 1.2 6.6 1.8 6.3 0.4 3.3-0.1 4-0.8 1.1-2.3 0.7-24.3-0.2-1.6-1.6-0.1-4.3 0.4-3 2.2-7.9 0.6-5.3-6.4 0-0.4 2.3-1.1 3.6-3.1 3.7-34.5 14.8M409.5 370.8l38.7 0 0.2-0.3-0.1-1.7-1.2-3.6-3.1-4-34.5-14.8M523.3 346.4l-34.5 14.8-3.1 3.7-1.2 3.6-0.1 2 0.2 0.3 38.7 0M409.5 323.3l24.3 10.1 3.4 0.5 2.9-1.4 1.3-2.6 0.5-8.6M490.9 321.3l0 4 0.7 5.2 1.1 2 2.9 1.4 3.4-0.5 24.3-10.1M455.4 370.8l22 0 1.4-6.9 1.8-6.3 0.4-3.6-0.2-4-1.1-1-1.2-0.1-24.2 0-1.7 0.5-0.8 1.3 0 4.3 0.4 2.6 2.2 7.9 0.8 5M464.9 370.2l3.8-0.1 3.5-0.9 2.1-1.7 0.9-2-0.3-2.9-1.6-2.7-2.7-2-3.1-0.8-3 0.1-3 1.1-2.6 2.3-1.2 2.6 0 2.6 1.1 2 2.3 1.5 3.4 0.8M464.9 369.5l1.9 0.2 2.3-0.6 1.6-0.9 1.1-1.7 0.2-2-0.8-1.6-1.4-1.4-1.9-0.8-2.3-0.1-1.9 0.5-1.6 1.1-1.1 1.7-0.2 1.6 0.5 1.7 1.3 1.3 2.2 1M465.3 369.2l1.5 0.1 1.7-0.5 1.4-1 0.8-1.3 0.1-1.3-0.6-1.5-1.1-1.1-1.6-0.6-1.9-0.1-1.5 0.5-1.1 0.8-0.8 1.3-0.2 1.3 0.4 1.4 1.3 1.3 1.5 0.7M466 368.8l2.4-0.6 1.2-1.7-0.4-2-2-1.3-1.6 0-1.1 0.4-1.3 1.9 0.5 2 2.3 1.3M466.4 368.2l1.1-0.4 0.9-1.3-0.3-1.3-1.3-0.7-1.7 0.4-0.8 1.3 0.6 1.3 1.3 0.7"/>
<path fill="none" stroke="#1e1e1e" stroke-width="1.3" stroke-dasharray="3.6 2.2" d="M407.6 322.5l26.3 11 3.7 0.5 2.6-1.5 1.4-2.9 0.4-9.9"/>
<path fill="none" stroke="#1e1e1e" stroke-width="1.3" stroke-dasharray="3.6 2.2" d="M525.2 322.5l-26.3 11-3.7 0.5-2.6-1.5-1.4-2.9-0.4-9.9"/>
<path fill="none" stroke="#1e1e1e" stroke-width="1.3" stroke-dasharray="3.6 2.2" d="M407.6 419.1l26.3-11 3.7-0.5 2.6 1.5 1.4 2.9 0.4 10"/>
<path fill="none" stroke="#1e1e1e" stroke-width="1.3" stroke-dasharray="3.6 2.2" d="M525.2 419.1l-26.3-11-3.7-0.5-2.6 1.5-1.4 2.9-0.4 10"/>
<path fill="none" stroke="#1e1e1e" stroke-width="1.3" stroke-dasharray="3.6 2.2" d="M407.6 345.6l36.8 15.6 2.7 3.7 1.1 3.3 0.4 2.6"/>
<path fill="none" stroke="#1e1e1e" stroke-width="1.3" stroke-dasharray="3.6 2.2" d="M525.2 345.6l-36.8 15.6-2.7 3.7-1.1 3.3-0.4 2.6"/>
<path fill="none" stroke="#1e1e1e" stroke-width="1.3" stroke-dasharray="3.6 2.2" d="M407.6 396l36.8-15.6 2.7-3.7 1.1-3.3 0.4-2.6"/>
<path fill="none" stroke="#1e1e1e" stroke-width="1.3" stroke-dasharray="3.6 2.2" d="M525.2 396l-36.8-15.6-2.7-3.7-1.1-3.3-0.4-2.6"/>
<path fill="none" stroke="#1e1e1e" stroke-width="1.3" stroke-dasharray="3.6 2.2" d="M466.4 348.7l-12.9 0-1.7 1.3-0.2 2.7 0.8 5.2 1.9 7 1.2 5.9"/>
<path fill="none" stroke="#1e1e1e" stroke-width="1.3" stroke-dasharray="3.6 2.2" d="M466.4 348.7l12.9 0 1.7 1.3 0.2 2.7-0.8 5.2-1.9 7-1.2 5.9"/>
<path fill="none" stroke="#1e1e1e" stroke-width="1.3" stroke-dasharray="3.6 2.2" d="M466.4 392.9l-12.9 0-1.7-1.3-0.2-2.6 0.8-5.3 1.9-7 1.2-5.9"/>
<path fill="none" stroke="#1e1e1e" stroke-width="1.3" stroke-dasharray="3.6 2.2" d="M466.4 392.9l12.9 0 1.7-1.3 0.2-2.6-0.8-5.3-1.9-7-1.2-5.9"/>
<path fill="none" stroke="#1e1e1e" stroke-width="1.3" stroke-dasharray="3.6 2.2" d="M405.7 370.8l121.4 0"/>
</g>
<rect x="409.5" y="321.3" width="113.8" height="99.0" fill="none" stroke="#000" stroke-opacity="0.33" stroke-width="0.8"/>
<path stroke="#777" stroke-width="0.5" d="M409.5 420.3v-1.2M409.5 321.3v1.2M409.5 420.3h1.2M523.3 420.3h-1.2M428.5 420.3v-1.2M428.5 321.3v1.2M409.5 403.8h1.2M523.3 403.8h-1.2M447.4 420.3v-1.2M447.4 321.3v1.2M409.5 387.3h1.2M523.3 387.3h-1.2M466.4 420.3v-1.2M466.4 321.3v1.2M409.5 370.8h1.2M523.3 370.8h-1.2M485.4 420.3v-1.2M485.4 321.3v1.2M409.5 354.3h1.2M523.3 354.3h-1.2M504.3 420.3v-1.2M504.3 321.3v1.2M409.5 337.8h1.2M523.3 337.8h-1.2M523.3 420.3v-1.2M523.3 321.3v1.2M409.5 321.3h1.2M523.3 321.3h-1.2"/>
<text class="tk" x="409.5" y="428.4" text-anchor="middle">-15</text>
<text class="tk" x="407.3" y="422.3" text-anchor="end">-15</text>
<text class="tk" x="428.5" y="428.4" text-anchor="middle">-10</text>
<text class="tk" x="407.3" y="405.8" text-anchor="end">-10</text>
<text class="tk" x="447.4" y="428.4" text-anchor="middle">-5</text>
<text class="tk" x="407.3" y="389.3" text-anchor="end">-5</text>
<text class="tk" x="466.4" y="428.4" text-anchor="middle">0</text>
<text class="tk" x="407.3" y="372.8" text-anchor="end">0</text>
<text class="tk" x="485.4" y="428.4" text-anchor="middle">5</text>
<text class="tk" x="407.3" y="356.3" text-anchor="end">5</text>
<text class="tk" x="504.3" y="428.4" text-anchor="middle">10</text>
<text class="tk" x="407.3" y="339.8" text-anchor="end">10</text>
<text class="tk" x="523.3" y="428.4" text-anchor="middle">15</text>
<text class="tk" x="407.3" y="323.3" text-anchor="end">15</text>
<text class="al" x="463.8" y="435.5">P<tspan class="sub" dx="-0.4" dy="1.0">1</tspan></text>
<text class="al" style="font-size:6.6px" transform="translate(396.5,375.6) rotate(-90)">K<tspan class="sub" style="font-size:4.6px" dx="-0.2" dy="1.0">23</tspan></text>
<linearGradient id="gB2" x1="0" y1="1" x2="0" y2="0"><stop offset="0.000" stop-color="#4c5ca5"/><stop offset="0.050" stop-color="#5969ae"/><stop offset="0.100" stop-color="#6c7ab9"/><stop offset="0.150" stop-color="#8793c9"/><stop offset="0.200" stop-color="#9da7d5"/><stop offset="0.250" stop-color="#b4bce1"/><stop offset="0.300" stop-color="#c7cde8"/><stop offset="0.350" stop-color="#dbddef"/><stop offset="0.400" stop-color="#eaebf2"/><stop offset="0.450" stop-color="#f2f2f2"/><stop offset="0.500" stop-color="#f3f3f0"/><stop offset="0.550" stop-color="#f8f4ca"/><stop offset="0.600" stop-color="#f7ee9c"/><stop offset="0.650" stop-color="#f6ea84"/><stop offset="0.700" stop-color="#f4df60"/><stop offset="0.750" stop-color="#f1d040"/><stop offset="0.800" stop-color="#eab437"/><stop offset="0.850" stop-color="#e08431"/><stop offset="0.900" stop-color="#d1522d"/><stop offset="0.950" stop-color="#c63a2a"/><stop offset="1.000" stop-color="#bc2828"/></linearGradient>
<rect x="529.3" y="321.3" width="6.5" height="99.0" fill="url(#gB2)" stroke="#000" stroke-opacity="0.3" stroke-width="0.6"/>
<text class="tk" x="537.2" y="415.3">-2</text>
<text class="tk" x="537.2" y="403.6">-1.5</text>
<text class="tk" x="537.2" y="391.9">-1</text>
<text class="tk" x="537.2" y="380.2">-0.5</text>
<text class="tk" x="537.2" y="368.5">0</text>
<text class="tk" x="537.2" y="356.8">0.5</text>
<text class="tk" x="537.2" y="345.1">1</text>
<text class="tk" x="537.2" y="333.4">1.5</text>
<path stroke="#555" stroke-width="0.5" d="M535.8 413.3h-1.2M529.3 413.3h1.2M535.8 401.6h-1.2M529.3 401.6h1.2M535.8 389.9h-1.2M529.3 389.9h1.2M535.8 378.2h-1.2M529.3 378.2h1.2M535.8 366.5h-1.2M529.3 366.5h1.2M535.8 354.8h-1.2M529.3 354.8h1.2M535.8 343.1h-1.2M529.3 343.1h1.2M535.8 331.4h-1.2M529.3 331.4h1.2"/>
</g>
<g>
<clipPath id="cB22"><rect x="569.3" y="321.3" width="113.2" height="99.0"/></clipPath>
<g clip-path="url(#cB22)">
<path fill="#4c5ca5" stroke="#4c5ca5" stroke-width="0.3" d="M625.5 376.1l0.8 0 0.6-0.7 0-0.6-0.6-0.6-0.8 0-0.6 0.6 0 0.6 0.6 0.7z"/>
<path fill="#4f5fa7" stroke="#4f5fa7" stroke-width="0.3" d="M625.1 377.4l1.9-0.1 1.2-1.2-0.2-1.7-1.3-1-1.8 0-1.3 1.4 0.2 1.6 1.3 1zM625.5 376.1l-0.6-0.7 0-0.6 0.6-0.6 0.8 0 0.6 0.6 0 0.6-0.6 0.7-0.8 0z"/>
<path fill="#5f6eb2" stroke="#5f6eb2" stroke-width="0.3" d="M624.8 378.5l1.5 0.1 1.1-0.3 0.9-0.6 0.8-1 0.2-1.3-0.4-1-0.9-1-1-0.5-1.1-0.2-1.5 0.4-1 0.7-0.7 1-0.2 1 0.4 1.2 1.7 1.4zM625.1 377.4l-1.3-1-0.2-1.6 1.3-1.4 1.8 0 1.3 1 0.2 1.7-1.2 1.2-1.9 0.1z"/>
<path fill="#7d89c3" stroke="#7d89c3" stroke-width="0.3" d="M624.4 379.4l1.9 0.3 1.5-0.4 1.3-0.9 0.9-1.3 0.2-1.3-0.4-1.4-0.8-1-1.6-0.8-1.5-0.3-1.9 0.4-1.5 1-0.7 1.1-0.2 1.3 0.3 1.3 1 1.2 1.3 0.8zM624.6 378.4l-1.7-1.4-0.4-1.2 0.2-1 0.7-1 1-0.7 1.5-0.4 1.1 0.2 1 0.5 0.9 1 0.4 1-0.2 1.3-0.8 1-0.9 0.6-1.1 0.3-1.5-0.1z"/>
<path fill="#99a3d2" stroke="#99a3d2" stroke-width="0.3" d="M625.1 380.7l1.9 0 1.9-0.7 1.5-1.4 0.8-1.9-0.1-1.6-0.8-1.3-1.4-1-2.2-0.8-1.9 0.1-1.9 0.7-1.4 1-0.9 1.6 0.1 1.7 0.8 1.6 1.4 1.3 2 0.7zM624.2 379.4l-1.3-0.8-1-1.2-0.3-1.3 0.2-1.3 0.7-1.1 1.5-1 1.9-0.4 1.5 0.3 1.6 0.8 0.8 1 0.4 1.4-0.2 1.3-0.9 1.3-1.3 0.9-1.5 0.4-1.9-0.3z"/>
<path fill="#b3bbe1" stroke="#b3bbe1" stroke-width="0.3" d="M624 381.8l2.3 0.2 2.2-0.5 1.9-1.1 1.5-2 0.5-2-0.6-2-1.3-1.3-2.1-1-2.5-0.4-2.5 0.4-2.1 1-1.5 1.7-0.3 1.9 0.5 2 1.7 2 2.1 1zM624.9 380.7l-2-0.7-1.4-1.3-0.8-1.6-0.1-1.7 0.9-1.6 1.4-1 1.9-0.7 1.9-0.1 2.2 0.8 1.4 1 0.8 1.3 0.1 1.6-0.8 1.9-1.5 1.4-1.9 0.7-1.9 0z"/>
<path fill="#cacfe9" stroke="#cacfe9" stroke-width="0.3" d="M625.1 385.3l3.4-0.3 3.1-1.3 2.4-2.3 1.3-3 0-2.6-1.5-2.4-2.3-1.3-3.7-0.7-4.4 0.1-3.5 0.8-2.3 1.5-1.1 2.3 0.1 2.9 1.8 3.1 3 2.2 3.5 1zM623.8 381.7l-2.1-1-1.7-2-0.5-2 0.3-1.9 1.5-1.7 2.1-1 2.5-0.4 2.5 0.4 2.1 1 1.3 1.3 0.6 2-0.5 2-1.5 2-1.9 1.1-2.2 0.5-2.3-0.2z"/>
<path fill="#f1f1f3" stroke="#f1f1f3" stroke-width="0.3" d="M569.7 420.3l112.8 0 0-25.2-24.1-11-12.1-5.9-6.7-4.1-1.6-1.6-0.6-1.4 0.2-0.3 44.9 0 0-24.3-24.1 11-12.9 6.3-6.3 4-1.2 1.4-0.8 1.6-22.6 0-0.8-1.6-1.2-1.4-6.3-4-12.9-6.3-24.1-11 0 24.3 44.9 0 0.2 0.3-0.6 1.4-1.6 1.6-6.7 4.1-12.1 5.9-24.1 11 0 25.2zM624.9 385.3l-3.5-1-3-2.2-1.8-3-0.1-3 1.1-2.3 2.3-1.5 3.5-0.8 4.4-0.1 3.7 0.7 2.3 1.3 1.5 2.4 0 2.6-1.3 3-2.4 2.3-3.1 1.3-3.4 0.3z"/>
<path fill="#f8f5d2" stroke="#f8f5d2" stroke-width="0.3" d="M569.6 394.9l23.8-10.8 12.1-5.9 6.7-4.1 1.6-1.6 0.6-1.4-0.2-0.3-44.9 0 0 24.3zM682.5 395.1l0-24.3-44.9 0-0.2 0.3 0.6 1.4 1.6 1.6 6.7 4.1 12.1 5.9 23.8 10.8zM614.6 370.8l22.6 0 0.8-1.6 1.2-1.4 6.3-4 12.9-6.3 24.1-11 0-25.2-113.2 0 0 25.2 24.1 11 12.1 5.9 6.7 4.1 1.6 1.7 0.6 1.3zM624.2 370.1l-3.2-0.6-2.4-1.3-1.3-2-0.2-2.7 1.1-2.6 2.4-2.3 2.7-1.2 3.4-0.4 3.4 0.9 2.7 2 1.6 2.7 0.3 2.9-0.9 2-2.2 1.7-3.4 0.9-3.8 0.1z"/>
<path fill="#f6e87d" stroke="#f6e87d" stroke-width="0.3" d="M624.4 370.2l3.8-0.1 3.4-0.9 2.2-1.7 0.9-2-0.3-2.9-1.6-2.7-2.7-2-3.4-0.9-3.4 0.4-2.7 1.2-2.4 2.3-1.1 2.6 0.2 2.7 1.3 2 2.4 1.3 3.2 0.6zM624.4 369.5l-1.9-0.7-1.5-1.3-0.7-1.7 0.2-1.6 0.9-1.7 1.9-1.4 1.8-0.5 2.3 0.1 1.9 0.8 1.4 1.4 0.7 1.6-0.1 2-1.1 1.7-1.7 0.9-2.2 0.6-1.9-0.2z"/>
<path fill="#edbf3b" stroke="#edbf3b" stroke-width="0.3" d="M624.4 369.5l1.9 0.2 2.2-0.6 1.7-0.9 1.1-1.7 0.1-2-0.7-1.6-1.4-1.4-1.9-0.8-2.3-0.1-1.8 0.5-1.9 1.4-0.9 1.7-0.2 1.6 0.7 1.7 1.5 1.3 1.9 0.7zM624.7 369.2l-1.5-0.7-1.3-1.3-0.4-1.4 0.2-1.3 0.8-1.3 1.1-0.8 1.5-0.5 1.9 0.1 1.5 0.6 1.2 1.1 0.6 1.5-0.1 1.3-0.8 1.3-1.4 1-1.7 0.5-1.5-0.1z"/>
<path fill="#e28e32" stroke="#e28e32" stroke-width="0.3" d="M624.8 369.2l1.5 0.1 1.7-0.5 1.4-1 0.8-1.3 0.1-1.3-0.6-1.5-1.2-1.1-1.5-0.6-1.9-0.1-1.5 0.5-1.1 0.8-0.8 1.3-0.2 1.3 0.4 1.4 1.3 1.3 1.5 0.7zM625.5 368.8l-1.1-0.3-1.2-1-0.5-1 0-1 0.4-1 0.9-0.9 1.1-0.4 1.6 0 1.1 0.4 0.9 0.9 0.4 1 0 1-1.2 1.7-1.2 0.5-1.2 0.1z"/>
<path fill="#d2542d" stroke="#d2542d" stroke-width="0.3" d="M625.5 368.8l1.2-0.1 1.2-0.5 1.2-1.7 0-1-0.4-1-0.9-0.9-1.1-0.4-1.6 0-1.1 0.4-0.9 0.9-0.4 1 0 1 0.5 1 1.2 1 1.1 0.3zM625.7 368.2l-1.3-0.7-0.5-1.3 0.7-1.3 1.7-0.4 1.3 0.7 0.3 1.3-0.9 1.3-1.1 0.4z"/>
<path fill="#c5372a" stroke="#c5372a" stroke-width="0.3" d="M625.9 368.2l1.1-0.4 0.9-1.3-0.3-1.3-1.3-0.7-1.7 0.4-0.7 1.3 0.5 1.3 1.3 0.7z"/>
<path fill="none" stroke="#000" stroke-opacity="0.55" stroke-width="0.5" d="M625.5 376.1l-0.7-1 0.3-0.7 0.8-0.3 0.8 0.3 0.3 0.7-0.3 0.8-0.8 0.2M625.1 377.4l-1.3-1-0.2-1.6 1.2-1.3 1.5-0.2 1.5 0.8 0.5 1.7-0.9 1.3-1.9 0.4M624.8 378.5l-1.9-1.5-0.4-1.2 0.2-1 1.6-1.7 2.4-0.3 2 1.3 0.5 1 0 1.3-1.4 1.7-2.7 0.5M624.4 379.4l-1.5-0.8-1-1.2-0.3-1.3 0.2-1.3 0.7-1 1.4-1 1.6-0.5 1.5 0.2 2.6 1.6 0.6 1.3-0.1 1.3-0.7 1.4-1.2 1-1.5 0.5-1.9 0M625.1 380.7l-1.8-0.5-1.6-1.2-0.9-1.6-0.2-1.6 0.4-1.4 1.3-1.3 2.1-0.9 1.9-0.2 1.9 0.5 1.7 0.9 1 1.4 0.3 1.6-0.4 1.7-1.5 1.6-1.9 0.9-1.9 0.2M624 381.8l-2.2-1.1-1.6-1.7-0.7-1.9 0.2-2 1.2-1.7 1.6-1 2.6-0.6 2.7 0.2 2.2 0.8 1.6 1.3 0.7 2-0.2 2-1.3 1.9-1.9 1.3-2.2 0.7-2.3-0.2M625.1 385.3l-4.1-1.2-3.2-2.7-0.9-1.7-0.5-2 0.1-1.6 0.6-1.7 2.4-1.9 4.1-1.1 5.3 0.1 4 1.3 1.5 1.3 0.9 2 0 2.3-0.9 2.3-1.7 2.1-2.3 1.5-2.6 0.9-2.7 0.1M569.3 395.1l24.1-11 12.1-5.9 6.7-4.1 1.6-1.6 0.6-1.4-0.2-0.3-44.9 0M682.5 370.8l-44.9 0-0.2 0.3 0.6 1.4 1.6 1.6 6.7 4.1 12.1 5.9 24.1 11M569.3 346.5l24.1 11 12.9 6.3 6.3 4 1.2 1.4 0.8 1.6 15.1 0 7.5 0 0.8-1.6 1.2-1.4 6.3-4 12.9-6.3 24.1-11M624.4 370.2l3.8-0.1 3.4-0.9 2.2-1.7 0.9-2-0.3-2.9-1.6-2.7-2.7-2-3.4-0.9-3.4 0.4-2.7 1.2-2.4 2.3-1.1 2.6 0.2 2.7 1.3 2 2.4 1.3 3.2 0.6M624.4 369.5l1.9 0.2 2.2-0.6 1.7-0.9 1.1-1.7 0.1-2-0.7-1.6-1.4-1.4-1.9-0.8-2.3-0.1-1.8 0.5-1.9 1.4-0.9 1.7-0.2 1.6 0.7 1.7 1.5 1.3 1.9 0.7M624.8 369.2l1.5 0.1 1.7-0.5 1.4-1 0.8-1.3 0.1-1.3-0.6-1.5-1.2-1.1-1.5-0.6-1.9-0.1-1.5 0.5-1.1 0.8-0.8 1.3-0.2 1.3 0.4 1.4 1.3 1.3 1.5 0.7M625.5 368.8l2.4-0.6 1.2-1.7-0.4-2-2-1.3-1.6 0-1.1 0.4-1.3 1.9 0.5 2 2.3 1.3M625.9 368.2l1.1-0.4 0.9-1.3-0.3-1.3-1.3-0.7-1.7 0.4-0.7 1.3 0.5 1.3 1.3 0.7"/>
<path fill="none" stroke="#1e1e1e" stroke-width="1.3" stroke-dasharray="3.6 2.2" d="M687.3 344.4l-26.7 12.1-13.9 6.7-4.7 2.7-2.6 1.8-1.7 1.8-0.4 1.3 0.4 1.3 1.7 1.8 2.6 1.8 4.7 2.7 13.9 6.7 26.7 12.1"/>
<path fill="none" stroke="#1e1e1e" stroke-width="1.3" stroke-dasharray="3.6 2.2" d="M564.5 344.4l26.7 12.1 13.9 6.7 4.7 2.7 2.6 1.8 1.7 1.8 0.4 1.3-0.4 1.3-1.7 1.8-2.6 1.8-4.7 2.7-13.9 6.7-26.7 12.1"/>
<path fill="none" stroke="#1e1e1e" stroke-width="1.3" stroke-dasharray="3.6 2.2" d="M565.5 370.8l120.8 0"/>
</g>
<rect x="569.3" y="321.3" width="113.2" height="99.0" fill="none" stroke="#000" stroke-opacity="0.33" stroke-width="0.8"/>
<path stroke="#777" stroke-width="0.5" d="M569.3 420.3v-1.2M569.3 321.3v1.2M569.3 420.3h1.2M682.5 420.3h-1.2M588.2 420.3v-1.2M588.2 321.3v1.2M569.3 403.8h1.2M682.5 403.8h-1.2M607.0 420.3v-1.2M607.0 321.3v1.2M569.3 387.3h1.2M682.5 387.3h-1.2M625.9 420.3v-1.2M625.9 321.3v1.2M569.3 370.8h1.2M682.5 370.8h-1.2M644.8 420.3v-1.2M644.8 321.3v1.2M569.3 354.3h1.2M682.5 354.3h-1.2M663.6 420.3v-1.2M663.6 321.3v1.2M569.3 337.8h1.2M682.5 337.8h-1.2M682.5 420.3v-1.2M682.5 321.3v1.2M569.3 321.3h1.2M682.5 321.3h-1.2"/>
<text class="tk" x="569.3" y="428.4" text-anchor="middle">-15</text>
<text class="tk" x="567.1" y="422.3" text-anchor="end">-15</text>
<text class="tk" x="588.2" y="428.4" text-anchor="middle">-10</text>
<text class="tk" x="567.1" y="405.8" text-anchor="end">-10</text>
<text class="tk" x="607.0" y="428.4" text-anchor="middle">-5</text>
<text class="tk" x="567.1" y="389.3" text-anchor="end">-5</text>
<text class="tk" x="625.9" y="428.4" text-anchor="middle">0</text>
<text class="tk" x="567.1" y="372.8" text-anchor="end">0</text>
<text class="tk" x="644.8" y="428.4" text-anchor="middle">5</text>
<text class="tk" x="567.1" y="356.3" text-anchor="end">5</text>
<text class="tk" x="663.6" y="428.4" text-anchor="middle">10</text>
<text class="tk" x="567.1" y="339.8" text-anchor="end">10</text>
<text class="tk" x="682.5" y="428.4" text-anchor="middle">15</text>
<text class="tk" x="567.1" y="323.3" text-anchor="end">15</text>
<text class="al" x="623.3" y="435.5">P<tspan class="sub" dx="-0.4" dy="1.0">1</tspan></text>
<text class="al" style="font-size:6.6px" transform="translate(556.3,375.6) rotate(-90)">K<tspan class="sub" style="font-size:4.6px" dx="-0.2" dy="1.0">23</tspan></text>
<linearGradient id="gB22" x1="0" y1="1" x2="0" y2="0"><stop offset="0.000" stop-color="#4c5ca5"/><stop offset="0.050" stop-color="#5969ae"/><stop offset="0.100" stop-color="#6c7ab9"/><stop offset="0.150" stop-color="#8793c9"/><stop offset="0.200" stop-color="#9da7d5"/><stop offset="0.250" stop-color="#b4bce1"/><stop offset="0.300" stop-color="#c7cde8"/><stop offset="0.350" stop-color="#dbddef"/><stop offset="0.400" stop-color="#eaebf2"/><stop offset="0.450" stop-color="#f2f2f2"/><stop offset="0.500" stop-color="#f3f3f0"/><stop offset="0.550" stop-color="#f8f4ca"/><stop offset="0.600" stop-color="#f7ee9c"/><stop offset="0.650" stop-color="#f6ea84"/><stop offset="0.700" stop-color="#f4df60"/><stop offset="0.750" stop-color="#f1d040"/><stop offset="0.800" stop-color="#eab437"/><stop offset="0.850" stop-color="#e08431"/><stop offset="0.900" stop-color="#d1522d"/><stop offset="0.950" stop-color="#c63a2a"/><stop offset="1.000" stop-color="#bc2828"/></linearGradient>
<rect x="689.0" y="321.3" width="6.2" height="99.0" fill="url(#gB22)" stroke="#000" stroke-opacity="0.3" stroke-width="0.6"/>
<text class="tk" x="696.6" y="415.3">-2</text>
<text class="tk" x="696.6" y="403.6">-1.5</text>
<text class="tk" x="696.6" y="391.9">-1</text>
<text class="tk" x="696.6" y="380.2">-0.5</text>
<text class="tk" x="696.6" y="368.5">0</text>
<text class="tk" x="696.6" y="356.8">0.5</text>
<text class="tk" x="696.6" y="345.1">1</text>
<text class="tk" x="696.6" y="333.4">1.5</text>
<path stroke="#555" stroke-width="0.5" d="M695.2 413.3h-1.2M689.0 413.3h1.2M695.2 401.6h-1.2M689.0 401.6h1.2M695.2 389.9h-1.2M689.0 389.9h1.2M695.2 378.2h-1.2M689.0 378.2h1.2M695.2 366.5h-1.2M689.0 366.5h1.2M695.2 354.8h-1.2M689.0 354.8h1.2M695.2 343.1h-1.2M689.0 343.1h1.2M695.2 331.4h-1.2M689.0 331.4h1.2"/>
</g>
<g>
<clipPath id="cB3"><rect x="409.5" y="456.3" width="113.8" height="99.0"/></clipPath>
<g clip-path="url(#cB3)">
<path fill="#5261a9" stroke="#5261a9" stroke-width="0.3" d="M465.6 516.8l1.2 0.1 0.7-0.3 0.8-0.8 0.4-1.2 0-1.5-0.4-1.7-0.8-1.5-0.7-0.6-0.8 0-0.7 0.6-1.2 2.8 0.1 2.3 1.2 1.7zM455.8 504.5l3 0 1.1-1 0.4-1.3-0.5-1-1.5-1.3-3.7-1.6-2.2-0.3-1.8 0.2-0.9 0.7-0.2 1 0.9 1.3 1.5 1.3 3.8 2zM474.4 504.6l1.5 0.1 1.9-0.4 3.9-2.5 1.3-1.3 0.3-1-0.5-1-0.8-0.4-1.9-0.1-2.7 0.5-3.4 1.7-1.2 1.3-0.3 1 0.6 1.3 0.9 0.7z"/>
<path fill="#7a87c2" stroke="#7a87c2" stroke-width="0.3" d="M465.3 519.7l1.9 0.1 1.5-0.7 1.1-1.4 0.4-1.7-0.1-2.3-0.8-2.3-1.4-2.2-1.3-1.1-1 0.3-1.6 2-0.9 2-0.5 2 0 1.6 0.4 1.7 0.7 1.1 1.4 0.9zM465.4 516.7l-1.2-1.7-0.1-2.3 1.2-2.8 0.7-0.6 0.8 0 0.7 0.6 0.8 1.5 0.4 1.7 0 1.5-0.4 1.2-0.8 0.8-0.7 0.3-1.2-0.1zM455.4 505.1l3.8 0.1 1.6-0.4 0.7-0.6 0.3-1-0.8-1.7-2.2-2-3.4-2-3-1-4.6-0.7-2.3 0-1.1 0.4-0.5 1 0.6 1.3 2.6 2.3 3.9 2.7 2.5 1.3 1.8 0.3zM455.7 504.5l-3.8-2-1.5-1.3-0.9-1.3 0.2-1 0.9-0.7 1.8-0.2 2.2 0.3 3.7 1.6 1.5 1.3 0.5 1-0.4 1.3-1.1 1-3 0zM473.2 505.2l3.8 0 2.2-0.4 4.7-2.6 3.4-2.7 1.5-1.6 0.1-1-0.5-0.7-1.5-0.4-3.1 0.1-4.1 0.8-2.3 0.9-2.9 1.6-2.4 2-1.1 1.6 0.6 1.7 1.5 0.6zM474 504.5l-0.9-0.7-0.6-1.3 0.3-1 1.2-1.3 3.4-1.7 2.7-0.5 1.9 0.1 0.8 0.4 0.5 1-0.3 1-1.3 1.3-3.9 2.5-1.9 0.4-1.5-0.1z"/>
<path fill="#abb4dc" stroke="#abb4dc" stroke-width="0.3" d="M464.9 523l2.6 0.1 2.3-0.9 1.6-1.9 0.7-2.3-0.2-2.6-1-3-2.2-3-2.3-2.1-1.5 1.3-2.6 3.1-1 2.3-0.6 2.4 0.1 2.3 0.7 1.8 1.2 1.5 1.9 1zM465.1 519.7l-1.4-0.9-0.7-1.1-0.4-1.7 0-1.6 0.5-2 0.9-2 1.6-2 1-0.3 1.3 1.1 1.4 2.2 0.8 2.3 0.1 2.3-0.4 1.7-1.1 1.4-1.5 0.7-1.9-0.1zM456.5 505.5l5.3-0.3 0.9-0.4 0.3-0.6-0.2-1-0.9-1.4-4.2-3.5-3.8-2.1-3.4-1.3-8.8-1.9-4.9-0.7-1.5 0.3-0.4 0.7 0.2 0.6 1.6 1.7 3.2 2.3 10.9 6.8 1.6 0.5 3.8 0.3zM455.3 505.1l-1.8-0.3-2.5-1.3-3.9-2.7-2.6-2.3-0.6-1.3 0.5-1 1.1-0.4 2.3 0 4.6 0.7 3 1 3.4 2 2.2 2 0.8 1.7-0.3 1-0.7 0.6-1.6 0.4-3.8-0.1zM474 505.5l6.6-0.4 3.2-1.4 8.6-5.5 4.5-3.3 0.8-1 0.2-0.6-0.4-0.7-1.5-0.3-4.8 0.6-8.1 1.8-3.4 1.1-3.4 1.8-4.4 3.2-2.1 2.7 0.1 1 0.8 0.6 3 0.4zM473.1 505.1l-1.5-0.6-0.6-1.7 1.1-1.6 2.4-2 2.9-1.6 2.3-0.9 4.1-0.8 3.1-0.1 1.5 0.4 0.5 0.7-0.1 1-1.5 1.6-3.4 2.7-4.7 2.6-2.2 0.4-3.8 0z"/>
<path fill="#d5d8ec" stroke="#d5d8ec" stroke-width="0.3" d="M465.6 528.3l3.8-0.4 3.1-1.5 2-2.5 0.7-2.9-0.4-3.3-1.6-4-6.8-7-6.8 7-1.4 3.3-0.6 3.3 0.4 3 1.6 2.4 2.6 1.8 3.3 0.7zM464.6 523l-1.9-1-1.2-1.5-0.7-1.8-0.1-2.3 0.6-2.4 1-2.3 2.6-3.1 1.5-1.3 2.3 2.1 2.2 3 1 3 0.2 2.6-0.7 2.3-1.6 1.9-2.3 0.9-2.6-0.1zM451.6 505.5l10.2 0.1 1.9-0.3 0.5-0.5-0.4-1.3-2.5-2.7-3.2-2.6-3.8-2.5-4.2-2-4.6-1.6-28.8-8.1-4.9-1.1-1 0.1 0.3 0.7 3.6 2.3 32.8 18.5 1.6 0.6 2.3 0.4zM456.2 505.5l-3.8-0.3-1.6-0.5-10.9-6.8-3.2-2.3-1.6-1.7-0.2-0.6 0.4-0.7 1.5-0.3 4.9 0.7 8.8 1.9 3.4 1.3 3.8 2.1 4.2 3.5 0.9 1.4 0.2 1-0.3 0.6-0.9 0.4-5.3 0.3zM470.2 505.5l9.9 0 4.6-0.7 34.5-19.5 2.5-1.6 0.3-0.7-0.6-0.1-5.3 1.1-26.6 7.4-7.2 2.5-6 3.2-4.8 3.7-2.8 3.4 0.1 0.9 1.1 0.4zM473.7 505.5l-3-0.4-0.8-0.6-0.1-1 2.1-2.7 4.4-3.2 3.4-1.8 3.4-1.1 8.1-1.8 4.8-0.6 1.5 0.3 0.4 0.7-0.2 0.6-0.8 1-4.5 3.3-8.6 5.5-3.2 1.4-6.6 0.4z"/>
<path fill="#f2f2f3" stroke="#f2f2f3" stroke-width="0.3" d="M409.9 555.3l41.4 0 11.3-13.2 2.3-2.1 1.5-0.5 1.5 0.5 2.3 2.1 11.3 13.2 41.8 0 0-17.2-25.8-11.5-13.7-6.8-5.3-3.2-4.5-3.3-4-3.5-3.3-3.7 0.1-0.3 30.7 0 0.4 1.6 1.1 1.7 4.3 3.3 8.2 4.3 11.8 5 0-15.9-25.4 0-0.4-0.3 0.6-1.7 1.2-1.6 4.5-3.3 7.7-4 11.8-5 0-16.4-26.9 12-13.7 6.9-5.3 3.4-3.8 2.8-3.6 3.2-3.6 4-3.6-4-3.6-3.2-3.8-2.8-5.3-3.4-13.7-6.9-26.9-12 0 16.4 11.8 5 7.7 4 4.5 3.3 1.2 1.6 0.6 1.7-0.4 0.3-25.4 0 0 15.9 11.8-5 8.2-4.3 4.3-3.3 1.1-1.7 0.4-1.6 30.7 0 0.1 0.3-3.3 3.7-4 3.5-4.5 3.3-5.3 3.2-13.7 6.8-25.8 11.5 0 17.2zM465.5 528.2l-3.3-0.7-2.6-1.8-1.6-2.4-0.4-3 0.6-3.3 1.4-3.3 6.8-7 6.8 7 1.6 4 0.4 3.3-0.7 2.9-2 2.5-3.1 1.5-3.8 0.4zM451.4 505.5l-2.3-0.4-1.6-0.6-32.8-18.5-3.6-2.3-0.3-0.7 1-0.1 4.9 1.1 28.8 8.1 4.6 1.6 4.2 2 3.8 2.5 3.2 2.6 2.5 2.7 0.4 1.3-0.5 0.5-1.9 0.3-10.2-0.1zM469.9 505.5l-1.1-0.4-0.1-0.9 2.8-3.4 4.8-3.7 6-3.2 7.2-2.5 26.6-7.4 5.3-1.1 0.6 0.1-0.3 0.7-2.5 1.6-34.5 19.5-4.6 0.7-9.9 0zM466.4 472.1l1.5-0.5 2.3-2.1 11.3-13.2-30.2 0 11.3 13.2 2.3 2.1 1.5 0.5z"/>
<path fill="#f8f5d1" stroke="#f8f5d1" stroke-width="0.3" d="M451.6 555.3l29.9 0-11.3-13.2-2.3-2.1-1.5-0.5-1.5 0.5-2.3 2.1-11.3 13.2zM409.9 538l25.4-11.4 13.7-6.8 5.3-3.2 4.5-3.3 4-3.5 3.3-3.7-0.1-0.3-30.7 0-0.4 1.6-1.1 1.7-4.3 3.3-8.2 4.3-11.8 5 0 16.4zM415.6 526.6l0.6-1 2.4-1.7 29.9-17.1 2.7-0.6 3.8-0.2 6.5 0.1 2.3 0.4 0.3 0.6-0.7 1.3-3.4 3.5-4.6 3.2-4.9 2.5-5.3 1.8-22.9 6.2-4.8 1.1-1.9-0.1zM522.9 538l0.4 0.1 0-16.4-11.8-5-8.2-4.3-4.3-3.3-1.1-1.7-0.4-1.6-30.7 0-0.1 0.3 3.3 3.7 4 3.5 4.5 3.3 5.3 3.2 13.7 6.8 25.1 11.2zM514.6 526.6l-28.9-7.7-4.9-1.9-4.5-2.6-3.5-2.5-2.6-2.5-1.4-2 0.2-0.9 1.6-0.4 4.1-0.1 8.4 0.4 2.3 0.9 29.8 17.3 1.8 1.3 0.2 0.7-0.7 0.2-1.5-0.2zM409.9 505.8l25 0 0.4-0.3-0.6-1.7-1.2-1.6-4.5-3.3-7.7-4-11.8-5 0 15.9zM466.4 505.8l3.6-4 3.6-3.2 3.8-2.8 5.3-3.4 13.7-6.9 26.9-12 0-17.2-41.8 0-11.3 13.2-2.3 2.1-1.5 0.5-1.5-0.5-2.3-2.1-11.3-13.2-41.8 0 0 17.2 25.8 11.5 13.7 6.8 4.9 3 4.5 3.2 4.1 3.5 3.6 4zM466.4 504.8l-5.3-5.3-1.6-2.3-1-2.3-0.5-2.3 0.3-3.6 0.8-1.7 1.2-1.4 1.5-1 1.9-0.7 2.3-0.3 2.3 0.1 1.9 0.6 1.9 1 1.6 1.7 0.9 2 0.3 2.6-0.5 2.7-1.9 3.9-6.1 6.3zM497.9 505.8l25.4 0 0-15.9-11.8 5-7.7 4-4.5 3.3-1.2 1.6-0.6 1.7z"/>
<path fill="#f6ea85" stroke="#f6ea85" stroke-width="0.3" d="M415.6 526.6l1.9 0.1 4.8-1.1 22.9-6.2 5.3-1.8 4.9-2.5 4.6-3.2 3.4-3.5 0.7-1.3-0.3-0.6-2.3-0.4-6.5-0.1-3.8 0.2-2.7 0.6-29.9 17.1-2.4 1.7-0.6 1zM438.4 518l-0.7-0.6 0-0.7 1.4-1.7 5-3.6 6.9-4.3 1.9-0.6 2.1-0.2 6.6 0.2 0.6 0.3 0.5 1-0.7 1.6-3.2 3-3.8 2.3-3 1.3-4.2 1-5.7 1-3.4 0.1zM515 526.6l1.5 0.2 0.7-0.2-0.2-0.7-1.8-1.3-29.8-17.3-2.3-0.9-8.4-0.4-4.1 0.1-1.6 0.4-0.2 0.9 1.4 2 2.6 2.5 3.5 2.5 4.5 2.6 4.9 1.9 28.9 7.7zM490.6 518l-7.1-1.3-4.2-1.3-4.2-2.2-3.8-3.1-1-1.3-0.2-1 0.5-1 0.6-0.3 3.9-0.3 4.8 0.3 1.9 0.6 3.9 2.3 5.9 4 2.8 2.3 0.7 1.3-0.6 1-3.8 0zM466.4 504.8l6.1-6.3 1.9-3.9 0.5-2.7-0.3-2.6-0.9-2-1.6-1.7-1.9-1-1.9-0.6-2.3-0.1-2.3 0.3-1.9 0.7-1.5 1-1.2 1.4-0.8 1.7-0.3 3.6 0.5 2.3 1 2.3 1.6 2.3 5.3 5.3zM466.3 504.1l-2.1-2-2.1-3-0.9-3 0-2.9 1-2.3 1.9-1.5 2.7-0.4 2.3 0.6 1.4 1.3 0.8 1.3 0.4 1.9-0.1 2-0.5 2-1 2-2.2 2.7-1.5 1.3z"/>
<path fill="#f0ce3f" stroke="#f0ce3f" stroke-width="0.3" d="M438.7 518.1l3.4-0.1 5.7-1 4.2-1 3-1.3 3.8-2.3 3.2-3 0.7-1.6-0.5-1-0.6-0.3-6.6-0.2-2.1 0.2-1.9 0.6-6.9 4.3-5 3.6-1.4 1.7 0 0.7 0.7 0.6zM447.2 514.7l-0.9-1 0.3-1.3 1.9-2 3.3-2.3 3.2-1.4 2.7-0.2 2.3 0.3 1.1 1.3 0 1.3-1 1.4-2.1 1.6-2.5 1.3-2.4 0.7-3.4 0.5-2.3-0.1zM490.7 518l3.8 0 0.6-1-0.7-1.3-2.8-2.3-5.9-4-3.9-2.3-1.9-0.6-4.8-0.3-3.9 0.3-0.6 0.3-0.5 1 0.2 1 1 1.3 3.8 3.1 4.2 2.2 4.2 1.3 7.1 1.3zM481.2 514.7l-2.9-0.7-2.4-1-2.9-1.9-1.3-1.7 0-1.3 1.1-1.3 1.9-0.3 2.7 0.2 1.7 0.4 2.9 1.7 3 2.3 1.4 1.6 0.1 1-0.9 1-4 0.1zM466.4 504.2l1.5-1.3 2.2-2.7 1-2 0.5-2 0.1-2-0.4-1.9-0.8-1.3-1.4-1.3-2.3-0.6-2.7 0.4-1.9 1.5-1 2.3 0 2.9 0.9 3 2.1 3 2.1 2zM466 503.2l-1.3-1.4-1.1-1.9-0.6-2.3 0.1-2 0.7-1.7 1.5-1.2 1.5-0.2 1.5 0.7 0.8 0.8 0.5 1.2 0 3.3-0.7 2-1 1.6-1.1 1.1-0.8 0z"/>
<path fill="#de7b30" stroke="#de7b30" stroke-width="0.3" d="M447.4 514.8l2.3 0.1 3.4-0.5 2.4-0.7 2.5-1.3 2.1-1.6 1-1.4 0-1.3-1.1-1.3-2.3-0.3-2.7 0.2-3.2 1.4-3.3 2.3-1.9 2-0.3 1.3 0.9 1zM452.8 512.1l-0.5-0.7-0.1-0.6 1.3-1.7 2.7-1.3 1.9 0.2 0.7 0.8 0.3 1-1 1.3-2.3 1.1-2.7 0zM481.6 514.8l4-0.1 0.9-1-0.1-1-1.4-1.6-3-2.3-2.9-1.7-1.7-0.4-2.7-0.2-1.9 0.3-1.1 1.3 0 1.3 1.3 1.7 2.9 1.9 2.4 1 2.9 0.7zM476.6 512.1l-1.9-1-1-1.3 0.3-1 0.6-0.7 0.9-0.3 1.1 0 2.7 1.3 1.3 1.7-0.3 0.9-0.6 0.5-2.7 0zM466 503.2l0.8 0 1.1-1.1 1-1.6 0.7-2 0-3.3-0.5-1.2-0.8-0.8-1.5-0.7-1.5 0.2-1.5 1.2-0.7 1.7-0.1 2 0.6 2.3 1.1 1.9 1.3 1.4zM465.8 501.5l-1-2 0-2.3 0.8-1.2 0.8-0.2 0.8 0.2 0.9 1.6-0.1 1.9-0.8 1.9-0.8 0.4-0.4-0.1z"/>
<path fill="#c3352a" stroke="#c3352a" stroke-width="0.3" d="M453.1 512.2l2.7 0 2.3-1.1 1-1.3-0.3-1-0.7-0.8-1.9-0.2-2.7 1.3-1.3 1.7 0.1 0.6 0.5 0.7zM477 512.2l2.7 0 0.6-0.5 0.3-0.9-1.3-1.7-2.7-1.3-1.1 0-0.9 0.3-0.6 0.7-0.3 1 1 1.3 1.9 1zM466 501.7l0.4 0.1 0.8-0.4 0.8-1.9 0.1-1.9-0.9-1.6-0.8-0.2-0.8 0.2-0.8 1.2 0 2.3 1 2z"/>
<path fill="none" stroke="#000" stroke-opacity="0.55" stroke-width="0.5" d="M465.6 516.8l-1.3-1.4-0.2-2.7 1.2-2.8 0.7-0.6 0.8 0 1.5 2.1 0.4 3-0.9 2-1.8 0.5M455.8 504.5l-2.9-1.3-2.5-2-0.9-1.3 0.5-1.4 1.6-0.5 3 0.3 2.7 1 2.2 1.5 0.8 1.4-0.7 1.7-1.5 0.7-2.3-0.1M474.4 504.6l-1.2-0.7-0.7-1.4 0.3-1 0.9-1 3.6-2 4.3-0.4 1.2 0.4 0.5 1-1.2 2-4 2.7-3.4 0.4M465.3 519.7l-1.2-0.6-0.9-1.1-0.6-1.6 0-1.7 1.2-3.9 1.5-2 1.1-0.8 1.1 0.8 1.7 2.3 0.8 2.3 0.2 2.3-0.4 1.9-1 1.4-1.6 0.8-1.6 0M455.4 505.1l-1.9-0.3-2.5-1.3-3.9-2.7-2.6-2.3-0.6-1.3 0.5-1 3-0.4 7.2 1.4 3.2 1.7 2.9 2.3 1.1 1.6-0.7 1.8-1.4 0.5-3.9 0.1M473.2 505.2l-1.6-0.7-0.6-1.7 1.1-1.6 2.4-2 5.2-2.5 7.2-0.9 1.5 0.4 0.5 0.7-0.1 1-1.5 1.6-3 2.3-5.1 3-5.6 0.4M464.9 523l-1.9-0.8-1.4-1.6-0.8-1.9-0.1-2.3 0.6-2.4 1-2.3 2.6-3.1 1.5-1.3 2.3 2.1 2.2 3 1 3 0.2 2.6-0.7 2.3-1.6 1.9-2.3 0.9-2.2 0M456.5 505.5l-4.3-0.4-2.9-1.2-12.2-8-1.8-1.7-0.3-1.3 0.7-0.4 1.9-0.1 7.2 1.2 6.8 1.7 4.6 2.1 4.7 3.4 1.5 1.7 0.6 1.3-0.3 1-0.6 0.3-5.6 0.4M474 505.5l-3.3-0.4-0.8-0.6-0.1-1 2.7-3.2 4.9-3.4 4.6-1.9 7.5-1.7 6.1-1 1.5 0.2 0.7 0.4-0.3 1.3-2.3 2-12.8 8.3-2.7 0.8-5.7 0.2M465.6 528.3l-3.4-0.8-2.6-1.8-1.6-2.4-0.4-3 0.6-3.3 1.4-3.3 6.8-7 6.8 7 1.4 3.3 0.6 3.6-0.7 3.3-1.9 2.4-2.8 1.4-3.8 0.6M451.6 505.5l-2.5-0.4-1.6-0.6-32.2-18.2-4.2-2.6-0.3-0.7 1-0.1 33.7 9.2 4.6 1.6 4.2 2 7 5.1 2.5 2.7 0.4 1.3-0.5 0.5-1.9 0.3-9.8-0.1M470.2 505.5l-1.4-0.4-0.2-0.6 2.2-3 5.1-4.1 6.1-3.4 7.2-2.5 26.9-7.5 5.3-1.1 0.6 0.1-0.3 0.7-2.5 1.6-34.5 19.5-4.3 0.7-9.8 0M481.5 555.3l-11.3-13.2-2.3-2.1-1.5-0.5-1.5 0.5-2.3 2.1-11.3 13.2M409.5 538.1l25.8-11.5 13.7-6.8 9.8-6.5 4-3.5 3.3-3.7-0.1-0.3-30.7 0-0.4 1.6-1.1 1.7-4.3 3.3-8.2 4.3-11.8 5M523.3 521.7l-11.8-5-8.2-4.3-4.3-3.3-1.1-1.7-0.4-1.6-30.7 0-0.1 0.3 3.3 3.7 4 3.5 9.8 6.5 13.7 6.8 25.8 11.5M409.5 505.8l25.4 0 0.4-0.3-0.6-1.7-1.2-1.6-4.5-3.3-7.7-4-11.8-5M523.3 489.9l-11.8 5-7.7 4-4.5 3.3-1.2 1.6-0.6 1.7 0.4 0.3 25.4 0M409.5 473.5l26.9 12 13.7 6.9 9.1 6.2 3.6 3.2 3.6 4 3.6-4 3.6-3.2 9.1-6.2 13.7-6.9 26.9-12M481.5 456.3l-11.3 13.2-2.3 2.1-1.5 0.5-1.5-0.5-2.3-2.1-11.3-13.2M415.6 526.6l1.9 0.1 4.8-1.1 22.9-6.2 5.3-1.8 4.9-2.5 4.6-3.2 3.4-3.5 0.7-1.3-0.3-0.6-2.3-0.4-6.5-0.1-3.8 0.2-2.7 0.6-29.9 17.1-2.4 1.7-0.6 1M515 526.6l2.2 0-0.2-0.7-1.8-1.3-29.8-17.3-2.3-0.9-8.4-0.4-5.7 0.5-0.2 0.9 1.4 2 6.1 5 4.5 2.6 4.9 1.9 28.9 7.7M466.4 504.8l6.1-6.3 1.9-3.9 0.5-2.7-0.3-2.6-0.9-2-1.6-1.7-3.8-1.6-4.6 0.2-3.4 1.7-1.2 1.4-0.8 1.7-0.3 3.6 1.5 4.6 1.6 2.3 5.3 5.3M438.7 518.1l3.4-0.1 5.7-1 4.2-1 3-1.3 3.8-2.3 3.2-3 0.7-1.6-0.5-1-0.6-0.3-6.6-0.2-4 0.8-6.9 4.3-5 3.6-1.4 1.7 0 0.7 0.7 0.6M490.7 518l3.8 0 0.6-1-0.7-1.3-8.7-6.3-3.9-2.3-1.9-0.6-4.8-0.3-3.9 0.3-0.6 0.3-0.5 1 0.2 1 1 1.3 3.8 3.1 4.2 2.2 4.2 1.3 7.1 1.3M466.4 504.2l1.5-1.3 2.2-2.7 1.5-4 0.1-2-0.4-1.9-0.8-1.3-1.4-1.3-2.3-0.6-2.7 0.4-1.9 1.5-1 2.3 0 2.9 0.9 3 2.1 3 2.1 2M447.4 514.8l2.3 0.1 3.4-0.5 4.9-2 3.1-3 0-1.3-1.1-1.3-2.3-0.3-2.7 0.2-3.2 1.4-3.3 2.3-1.9 2-0.3 1.3 0.9 1M481.6 514.8l4-0.1 0.9-1-0.1-1-1.4-1.6-3-2.3-2.9-1.7-1.7-0.4-4.6 0.1-1.1 1.3 0 1.3 1.3 1.7 2.9 1.9 5.3 1.7M466 503.2l0.8 0 1.1-1.1 1.7-3.6 0-3.3-1.3-2-1.5-0.7-1.5 0.2-1.5 1.2-0.7 1.7-0.1 2 0.6 2.3 1.1 1.9 1.3 1.4M453.1 512.2l2.7 0 2.3-1.1 1-1.3-0.3-1-0.7-0.8-1.9-0.2-2.7 1.3-1.3 1.7 0.6 1.3M477 512.2l2.7 0 0.6-0.5 0.3-0.9-1.3-1.7-2.7-1.3-2 0.3-0.9 1.7 1 1.3 1.9 1M466 501.7l1.2-0.3 0.8-1.9 0.1-1.9-0.9-1.6-1.6 0-0.8 1.2 0 2.3 1 2"/>
<path fill="none" stroke="#1e1e1e" stroke-width="1.3" stroke-dasharray="3.6 2.2" d="M466.4 505.8l-3.8-4.2-3.9-3.4-4.6-3.3-5.4-3.2-6.1-3.2-8.5-4.1-28.4-12.6"/>
<path fill="none" stroke="#1e1e1e" stroke-width="1.3" stroke-dasharray="3.6 2.2" d="M466.4 505.8l3.8-4.2 3.9-3.4 4.6-3.3 5.4-3.2 6.1-3.2 8.5-4.1 28.4-12.6"/>
<path fill="none" stroke="#1e1e1e" stroke-width="1.3" stroke-dasharray="3.6 2.2" d="M466.4 505.8l-3.8 4.2-3.9 3.4-4.6 3.3-5.4 3.2-6.1 3.2-8.5 4.1-28.4 12.6"/>
<path fill="none" stroke="#1e1e1e" stroke-width="1.3" stroke-dasharray="3.6 2.2" d="M466.4 505.8l3.8 4.2 3.9 3.4 4.6 3.3 5.4 3.2 6.1 3.2 8.5 4.1 28.4 12.6"/>
<path fill="none" stroke="#1e1e1e" stroke-width="1.3" stroke-dasharray="3.6 2.2" d="M435.3 505.8l-0.4-1.7-1.5-2-2.5-2-3.3-2-4.5-2.4-6.8-3-16.9-6.7"/>
<path fill="none" stroke="#1e1e1e" stroke-width="1.3" stroke-dasharray="3.6 2.2" d="M497.5 505.8l0.4-1.7 1.5-2 2.5-2 3.3-2 4.5-2.4 6.8-3 16.9-6.7"/>
<path fill="none" stroke="#1e1e1e" stroke-width="1.3" stroke-dasharray="3.6 2.2" d="M435.3 505.8l-0.4 1.7-1.5 2-2.5 2-3.3 2-4.5 2.4-6.8 3-16.9 6.7"/>
<path fill="none" stroke="#1e1e1e" stroke-width="1.3" stroke-dasharray="3.6 2.2" d="M497.5 505.8l0.4 1.7 1.5 2 2.5 2 3.3 2 4.5 2.4 6.8 3 16.9 6.7"/>
<path fill="none" stroke="#1e1e1e" stroke-width="1.3" stroke-dasharray="3.6 2.2" d="M405.7 505.8l121.4 0"/>
<path fill="none" stroke="#1e1e1e" stroke-width="1.3" stroke-dasharray="3.6 2.2" d="M466.4 472.1l-0.9-0.2-0.9-0.5-2.1-2-13.2-15.5"/>
<path fill="none" stroke="#1e1e1e" stroke-width="1.3" stroke-dasharray="3.6 2.2" d="M466.4 472.1l0.9-0.2 0.9-0.5 2.1-2 13.2-15.5"/>
<path fill="none" stroke="#1e1e1e" stroke-width="1.3" stroke-dasharray="3.6 2.2" d="M466.4 539.5l-0.9 0.2-0.9 0.5-2.1 2-13.2 15.5"/>
<path fill="none" stroke="#1e1e1e" stroke-width="1.3" stroke-dasharray="3.6 2.2" d="M466.4 539.5l0.9 0.2 0.9 0.5 2.1 2 13.2 15.5"/>
</g>
<rect x="409.5" y="456.3" width="113.8" height="99.0" fill="none" stroke="#000" stroke-opacity="0.33" stroke-width="0.8"/>
<path stroke="#777" stroke-width="0.5" d="M409.5 555.3v-1.2M409.5 456.3v1.2M409.5 555.3h1.2M523.3 555.3h-1.2M428.5 555.3v-1.2M428.5 456.3v1.2M409.5 538.8h1.2M523.3 538.8h-1.2M447.4 555.3v-1.2M447.4 456.3v1.2M409.5 522.3h1.2M523.3 522.3h-1.2M466.4 555.3v-1.2M466.4 456.3v1.2M409.5 505.8h1.2M523.3 505.8h-1.2M485.4 555.3v-1.2M485.4 456.3v1.2M409.5 489.3h1.2M523.3 489.3h-1.2M504.3 555.3v-1.2M504.3 456.3v1.2M409.5 472.8h1.2M523.3 472.8h-1.2M523.3 555.3v-1.2M523.3 456.3v1.2M409.5 456.3h1.2M523.3 456.3h-1.2"/>
<text class="tk" x="409.5" y="563.4" text-anchor="middle">-15</text>
<text class="tk" x="407.3" y="557.3" text-anchor="end">-15</text>
<text class="tk" x="428.5" y="563.4" text-anchor="middle">-10</text>
<text class="tk" x="407.3" y="540.8" text-anchor="end">-10</text>
<text class="tk" x="447.4" y="563.4" text-anchor="middle">-5</text>
<text class="tk" x="407.3" y="524.3" text-anchor="end">-5</text>
<text class="tk" x="466.4" y="563.4" text-anchor="middle">0</text>
<text class="tk" x="407.3" y="507.8" text-anchor="end">0</text>
<text class="tk" x="485.4" y="563.4" text-anchor="middle">5</text>
<text class="tk" x="407.3" y="491.3" text-anchor="end">5</text>
<text class="tk" x="504.3" y="563.4" text-anchor="middle">10</text>
<text class="tk" x="407.3" y="474.8" text-anchor="end">10</text>
<text class="tk" x="523.3" y="563.4" text-anchor="middle">15</text>
<text class="tk" x="407.3" y="458.3" text-anchor="end">15</text>
<text class="al" x="463.8" y="570.5">P<tspan class="sub" dx="-0.4" dy="1.0">1</tspan></text>
<text class="al" style="font-size:6.6px" transform="translate(396.5,510.6) rotate(-90)">K<tspan class="sub" style="font-size:4.6px" dx="-0.2" dy="1.0">23</tspan></text>
<linearGradient id="gB3" x1="0" y1="1" x2="0" y2="0"><stop offset="0.000" stop-color="#4c5ca5"/><stop offset="0.050" stop-color="#5969ae"/><stop offset="0.100" stop-color="#6c7ab9"/><stop offset="0.150" stop-color="#8793c9"/><stop offset="0.200" stop-color="#9da7d5"/><stop offset="0.250" stop-color="#b4bce1"/><stop offset="0.300" stop-color="#c7cde8"/><stop offset="0.350" stop-color="#dbddef"/><stop offset="0.400" stop-color="#eaebf2"/><stop offset="0.450" stop-color="#f2f2f2"/><stop offset="0.500" stop-color="#f3f3f0"/><stop offset="0.550" stop-color="#f8f4ca"/><stop offset="0.600" stop-color="#f7ee9c"/><stop offset="0.650" stop-color="#f6ea84"/><stop offset="0.700" stop-color="#f4df60"/><stop offset="0.750" stop-color="#f1d040"/><stop offset="0.800" stop-color="#eab437"/><stop offset="0.850" stop-color="#e08431"/><stop offset="0.900" stop-color="#d1522d"/><stop offset="0.950" stop-color="#c63a2a"/><stop offset="1.000" stop-color="#bc2828"/></linearGradient>
<rect x="529.3" y="456.3" width="6.5" height="99.0" fill="url(#gB3)" stroke="#000" stroke-opacity="0.3" stroke-width="0.6"/>
<text class="tk" x="537.2" y="555.2">-1</text>
<text class="tk" x="537.2" y="544.9">-0.8</text>
<text class="tk" x="537.2" y="534.5">-0.6</text>
<text class="tk" x="537.2" y="524.1">-0.4</text>
<text class="tk" x="537.2" y="513.8">-0.2</text>
<text class="tk" x="537.2" y="503.4">0</text>
<text class="tk" x="537.2" y="493.0">0.2</text>
<text class="tk" x="537.2" y="482.7">0.4</text>
<text class="tk" x="537.2" y="472.3">0.6</text>
<text class="tk" x="537.2" y="461.9">0.8</text>
<path stroke="#555" stroke-width="0.5" d="M535.8 553.2h-1.2M529.3 553.2h1.2M535.8 542.9h-1.2M529.3 542.9h1.2M535.8 532.5h-1.2M529.3 532.5h1.2M535.8 522.1h-1.2M529.3 522.1h1.2M535.8 511.8h-1.2M529.3 511.8h1.2M535.8 501.4h-1.2M529.3 501.4h1.2M535.8 491.0h-1.2M529.3 491.0h1.2M535.8 480.7h-1.2M529.3 480.7h1.2M535.8 470.3h-1.2M529.3 470.3h1.2M535.8 459.9h-1.2M529.3 459.9h1.2"/>
</g>
<g>
<clipPath id="cB23"><rect x="569.3" y="456.3" width="113.2" height="99.0"/></clipPath>
<g clip-path="url(#cB23)">
<path fill="#4c5ca5" stroke="#4c5ca5" stroke-width="0.3" d="M625.9 516.7l1.5-0.8 0.7-2.2-0.7-2.9-0.7-1.1-0.8-0.4-0.8 0.4-0.7 1-0.7 2.7 0.5 2.3 1.5 1zM615 504.5l1.8 0.2 1.6-0.2 1-1 0.4-1.3-0.5-1-1.4-1.3-3.7-1.7-2.3-0.3-1.5 0.2-0.9 0.4-0.5 1.4 0.8 1.3 1.4 1.3 3.5 2zM633.4 504.5l1.6 0.2 2.1-0.2 3.5-2 1.4-1.3 0.8-1.3-0.3-1-0.8-0.7-1.8-0.3-2.3 0.3-2 0.7-2.1 1.3-1 1-0.5 1 0.4 1.3 1 1z"/>
<path fill="#6170b4" stroke="#6170b4" stroke-width="0.3" d="M625.5 519.7l1.5-0.2 1.5-1 0.8-1.3 0.3-1.8-0.3-2.3-0.7-2-1.6-2.3-1.1-0.7-1.1 0.7-1.4 2-0.9 1.9-0.3 2 0.1 1.7 0.6 1.6 1.1 1.2 1.3 0.5zM625.7 516.7l-1.5-1-0.5-2.3 0.7-2.7 0.7-1 0.8-0.4 0.8 0.4 0.7 1.1 0.7 2.9-0.7 2.2-1.5 0.8zM614.2 505.2l4.5 0 2-0.4 0.8-1.3-0.7-1.7-2.8-2.6-3.4-2-3.7-1.3-4.6-0.7-2.3 0-1.2 0.4-0.7 1 0.5 1.3 2.4 2.3 4.2 3 2.4 1.4 2.3 0.5zM614.7 504.5l-3.5-2-1.4-1.3-0.8-1.3 0.5-1.4 0.9-0.4 1.5-0.2 2.3 0.3 3.7 1.7 1.4 1.3 0.5 1-0.4 1.3-1 1-1.6 0.2-1.8-0.2zM632.3 505.1l6.4-0.1 1.7-0.5 2.2-1.3 4.6-3.3 2.2-2.3 0.3-1-0.3-0.7-1.6-0.7-2.8 0-4.1 0.7-2.9 0.9-2.7 1.4-3.1 2.3-1.7 2-0.2 1 0.4 1 1.5 0.6zM633.4 504.5l-1-1-0.4-1.3 0.5-1 1-1 2.1-1.3 2-0.7 2.3-0.3 1.8 0.3 0.8 0.7 0.3 1-0.8 1.3-1.4 1.3-3.5 2-2.1 0.2-1.6-0.2z"/>
<path fill="#9ca6d4" stroke="#9ca6d4" stroke-width="0.3" d="M625.1 523l2.7-0.2 1.9-1.1 1.2-1.7 0.6-2.3-0.3-2.7-1.1-2.9-2.2-3-2-1.8-1.5 1.3-2.5 3.1-1.1 2.3-0.5 2.7 0.2 2.3 0.9 1.8 1.5 1.4 1.9 0.8zM625.3 519.7l-1.3-0.5-1.1-1.2-0.6-1.6-0.1-1.7 0.3-2 0.9-1.9 1.4-2 1.1-0.7 1.1 0.7 1.6 2.3 0.7 2 0.3 2.3-0.3 1.8-0.8 1.3-1.5 1-1.5 0.2zM615 505.5l6-0.2 1.1-0.2 0.8-0.6-0.4-1.3-1.4-1.7-5-4-4.2-2.3-4.5-1.6-9.8-2.3-6.4-1-1.5 0.3-0.3 0.7 0.3 0.6 1.9 1.7 4.3 3 12.8 7.9 1.9 0.6 4.1 0.4zM613.9 505.1l-2.3-0.5-2.4-1.4-4.2-3-2.4-2.3-0.5-1.3 0.7-1 1.2-0.4 2.3 0 4.6 0.7 3.7 1.3 3.4 2 2.8 2.6 0.7 1.7-0.8 1.3-2 0.4-4.5 0zM632.7 505.5l7.2-0.2 3.2-0.8 11.8-7.3 5.8-3.9 1.1-1 0.6-1-0.3-0.7-1.1-0.3-5.2 0.7-9.9 2.2-4.5 1.4-3.4 1.6-5.1 3.3-3.6 3.7-0.4 1 0.2 0.6 1 0.4 2.5 0.3zM632.2 505.1l-1.5-0.6-0.4-1 0.2-1 1.7-2 3.1-2.3 2.7-1.4 2.9-0.9 4.1-0.7 2.8 0 1.6 0.7 0.3 0.7-0.3 1-2.2 2.3-4.6 3.3-2.2 1.3-1.7 0.5-6.4 0.1z"/>
<path fill="#ccd0e9" stroke="#ccd0e9" stroke-width="0.3" d="M624 528l3.8 0 3.4-1.3 1.4-1.1 1-1.3 1-3-0.3-3.3-1.6-4.3-6.8-7-6.8 7-1.2 3-0.6 2.6 0.1 3 1.2 2.6 2 1.8 3 1.2zM624.8 523l-1.9-0.8-1.5-1.4-0.9-1.8-0.2-2.3 0.5-2.7 1.1-2.3 2.5-3.1 1.5-1.3 2 1.8 2.2 3 1.1 2.9 0.3 2.7-0.6 2.3-1.2 1.7-1.9 1.1-2.7 0.2zM609.7 505.5l10.5 0.1 2.8-0.1 1-0.4-0.4-1.3-2.4-2.6-3.2-2.8-3.4-2.3-5.3-2.9-6-2.5-34-10.6 0 5.1 18.8 9.7 17.1 9.6 1.8 0.6 2.5 0.4zM614.7 505.5l-4.1-0.4-1.9-0.6-12.8-7.9-4.3-3-1.9-1.7-0.3-0.6 0.3-0.7 1.5-0.3 6.4 1 9.8 2.3 4.5 1.6 4.2 2.3 5 4 1.4 1.7 0.4 1.3-0.8 0.6-1.1 0.2-6 0.2zM628.9 505.5l12.5 0 3.4-0.4 1.5-0.5 17.4-9.7 18.8-9.7 0-5.1-32.5 10.1-7.5 3-6.4 3.6-4.8 3.7-3.5 4 0 0.6 1 0.4zM632.6 505.5l-2.5-0.3-1-0.4-0.2-0.6 0.4-1 3.6-3.7 5.1-3.3 3.4-1.6 4.5-1.4 9.9-2.2 5.2-0.7 1.1 0.3 0.3 0.7-0.6 1-1.1 1-5.8 3.9-11.8 7.3-3.2 0.8-7.2 0.2z"/>
<path fill="#f1f1f3" stroke="#f1f1f3" stroke-width="0.3" d="M569.7 555.3l112.8 0 0-17.2-26-11.6-13.2-6.7-5.3-3.2-4.6-3.3-3.7-3.4-3.5-3.8 0.1-0.3 30.5 0 0.4 1.6 1.2 1.7 4.2 3.3 8.2 4.3 11.7 5 0-15.9-25.3 0-0.4-0.3 0.6-1.7 1.3-1.6 4.4-3.3 7.7-4 11.7-5 0-4.7-18.8 9.7-17.8 9.9-3.6 0.7-7.3 0.1-6.2-0.1-1-0.3-0.1-0.4 1.9-2.6 4.2-3.8 4.6-3 5.2-2.7 6.8-2.6 32.1-10 0-6.6-26 11.6-13.2 6.7-4.9 3-5 3.5-3.9 3.5-3.6 4-3.6-4-3.9-3.5-5-3.5-4.9-3-13.2-6.7-26-11.6 0 6.6 32.1 10 6.8 2.6 5.2 2.7 4.6 3 4.2 3.8 1.9 2.6-0.1 0.4-1 0.3-6.2 0.1-7.3-0.1-3.6-0.7-17.8-9.9-18.8-9.7 0 4.7 11.7 5 7.7 4 4.4 3.3 1.3 1.6 0.6 1.7-0.4 0.3-25.3 0 0 15.9 11.7-5 8.2-4.3 4.2-3.3 1.2-1.7 0.4-1.6 30.5 0 0.1 0.3-3.5 3.8-3.7 3.4-4.6 3.3-5.3 3.2-13.2 6.7-26 11.6 0 17.2zM623.6 527.9l-3-1.2-2-1.8-1.2-2.6-0.1-3 0.6-2.6 1.2-3 6.8-7 6.8 7 1.6 4.3 0.3 3.3-1 3-1 1.3-1.4 1.1-3.4 1.3-3.8 0z"/>
<path fill="#f8f5d4" stroke="#f8f5d4" stroke-width="0.3" d="M569.7 538l25.6-11.5 13.2-6.7 5.3-3.2 4.6-3.3 3.7-3.4 3.5-3.8-0.1-0.3-30.5 0-0.4 1.6-1.2 1.7-4.2 3.3-8.2 4.3-11.7 5 0 5.1 18.9-9.8 18.2-10.2 4.8-0.7 11.3 0 1.4 0.4 0 0.6-0.6 1-2.8 3-4 3.1-4.2 2.6-4.5 2.2-6 2.2-32.5 9.9 0 7zM682.1 538l0.4 0.1 0-7-32.5-9.9-6-2.2-4.5-2.2-4.2-2.6-4-3.1-2.8-3-0.6-1 0-0.6 1.4-0.4 11.3 0 4.8 0.7 18.2 10.2 18.9 9.8 0-5.1-11.7-5-8.2-4.3-4.2-3.3-1.2-1.7-0.4-1.6-30.5 0-0.1 0.3 3.5 3.8 3.7 3.4 4.6 3.3 5.3 3.2 13.2 6.7 25.3 11.3zM569.7 505.8l24.9 0 0.4-0.3-0.6-1.7-1.3-1.6-4.4-3.3-7.7-4-11.7-5 0 15.9zM625.9 505.8l3.6-4 3.9-3.5 5-3.5 4.9-3 13.2-6.7 26-11.6 0-17.2-113.2 0 0 17.2 26 11.6 13.2 6.7 4.9 3 4.6 3.2 4 3.5 3.6 4zM625.9 504.8l-5.3-5.3-1.5-1.9-1.4-4.3-0.1-2 0.2-2 0.8-1.7 1-1.3 1.4-1 1.9-0.8 2.2-0.5 2.3 0.1 1.9 0.5 1.9 0.9 1.8 1.8 1 2 0.2 2.3-0.4 3-1.8 3.9-6.1 6.3zM657.2 505.8l25.3 0 0-15.9-11.7 5-7.7 4-4.4 3.3-1.3 1.6-0.6 1.7z"/>
<path fill="#f6ea80" stroke="#f6ea80" stroke-width="0.3" d="M569.7 531l34.7-10.7 6-2.5 5.3-3.1 3.4-2.5 2.7-2.4 1.9-2.4 0.2-0.9-2.2-0.4-7.1-0.1-4.5 0.1-3.4 0.6-19.3 10.7-18.1 9.4 0 4.3zM595 519.7l-1-0.4-0.3-0.6 0.3-1 1-1 5.5-4 8.8-5.6 3-0.7 7.2-0.2 2.7 0.6 0.4 0.6-0.3 1-2.8 3.1-4.6 3.2-3.3 1.6-4.2 1.3-8.3 1.7-3.8 0.4zM682.1 531l0.4 0.1 0-4.3-17.4-9-20.3-11.2-3.1-0.5-5.6-0.1-6 0.1-2.2 0.4 0.2 0.9 1.9 2.4 2.7 2.4 3.4 2.5 5.3 3.1 6 2.5 34.4 10.6zM655.3 519.7l-7.9-1.4-6-1.5-4.6-2.1-3.8-2.6-3.3-3.3-0.4-1 0.3-1 0.6-0.3 2.5-0.3 6 0.1 2.7 0.4 1.7 0.7 12.9 8.6 1.8 1.7 0.3 1-0.3 0.6-0.6 0.3-1.9 0.1zM625.9 504.8l6.1-6.3 1.8-3.9 0.4-3-0.2-2.3-1-2-1.8-1.8-1.9-0.9-1.9-0.5-2.3-0.1-2.2 0.5-1.9 0.8-1.4 1-1 1.3-0.8 1.7-0.2 2 0.1 2 1.4 4.3 1.5 1.9 5.3 5.3zM625.9 504.1l-1.9-1.7-2.1-3-1-2.9-0.1-3 0.9-2.4 1.9-1.5 2.7-0.5 2.2 0.7 1.3 1.1 1 1.6 0.3 2-0.2 2-0.7 2.3-0.9 1.6-1.9 2.4-1.5 1.3z"/>
<path fill="#eec43c" stroke="#eec43c" stroke-width="0.3" d="M595.3 519.7l3.8-0.4 8.3-1.7 4.2-1.3 3.3-1.6 4.6-3.2 2.8-3.1 0.3-1-0.4-0.6-2.7-0.6-7.2 0.2-3 0.7-8.8 5.6-5.5 4-1 1-0.3 1 0.3 0.6 1 0.4zM606.1 515l-0.6-0.4-0.4-0.9 0.5-1.3 2.3-2.3 3.3-2.3 2.2-1 1.6-0.2 2.6-0.1 2.2 0.3 1.1 1.3-0.2 1.3-1.4 1.7-2.2 1.6-2.5 1.4-2.7 0.8-3.4 0.4-2.2-0.2zM655.3 519.7l1.9-0.1 0.6-0.3 0.3-0.6-0.3-1-1.8-1.7-12.9-8.6-1.7-0.7-2.7-0.4-6-0.1-2.5 0.3-0.6 0.3-0.3 1 0.4 1 3.3 3.3 3.8 2.6 4.6 2.1 6 1.5 7.9 1.4zM640.6 515l-3.4-0.9-2.5-1.4-2.6-1.9-1.2-1.7 0.2-1.3 0.9-1 3-0.3 3.4 0.3 2.2 1 3.3 2.3 2.1 2 0.7 1.3-0.2 1-1 0.7-1.9 0.2-3-0.3zM625.9 504.2l1.5-1.3 1.9-2.4 0.9-1.6 0.7-2.3 0.2-2-0.3-2-1-1.6-1.3-1.1-2.2-0.7-2.7 0.5-1.9 1.5-0.9 2.4 0.1 3 1 2.9 2.1 3 1.9 1.7zM625.7 503.2l-1.3-1.1-1.1-1.9-0.6-2-0.1-2 0.5-1.6 0.9-1.2 1.1-0.6 1.6 0 1.1 0.6 0.7 0.9 0.6 1.3 0.1 1.6-1 3.6-1.2 1.7-1.1 0.7z"/>
<path fill="#d55e2e" stroke="#d55e2e" stroke-width="0.3" d="M606.3 515.1l2.2 0.2 3.4-0.4 2.7-0.8 2.5-1.4 2.2-1.6 1.4-1.7 0.2-1.3-1.1-1.3-2.2-0.3-2.6 0.1-1.6 0.2-2.2 1-3.3 2.3-2.3 2.3-0.5 1.3 0.4 0.9 0.6 0.4zM640.6 515l3 0.3 1.9-0.2 1-0.7 0.2-1-0.7-1.3-2.1-2-3.3-2.3-2.2-1-3.4-0.3-3 0.3-0.9 1-0.2 1.3 1.2 1.7 2.6 1.9 2.5 1.4 3.4 0.9zM625.9 503.2l1.1-0.7 1.2-1.7 1-3.6-0.1-1.6-0.6-1.3-0.7-0.9-1.1-0.6-1.6 0-1.1 0.6-0.9 1.2-0.5 1.6 0.1 2 0.6 2 1.1 1.9 1.3 1.1z"/>
<path fill="none" stroke="#000" stroke-opacity="0.55" stroke-width="0.5" d="M625.9 516.7l-1.5-0.8-0.7-2.2 0.7-2.9 0.7-1.1 0.8-0.4 0.8 0.4 0.7 1.1 0.7 2.9-0.7 2.2-1.5 0.8M615 504.5l-3.8-2-1.4-1.3-0.8-1.3 0.3-1 0.8-0.7 1.5-0.3 2.2 0.2 4.1 1.8 1.4 1.3 0.5 1-0.4 1.3-1 1-3.1 0.1M633.4 504.5l-1-1-0.4-1.3 0.8-1.4 1.6-1.3 2.1-1 2.6-0.6 2.3 0.2 1.1 0.8 0.3 1-0.5 0.9-3.1 2.7-2.7 1.1-3.1-0.1M625.5 519.7l-1.5-0.5-0.9-0.9-0.7-1.3-0.2-2 0.3-2.3 0.9-1.9 1.4-2 1.1-0.7 1.1 0.7 1.6 2.3 0.7 2 0.3 2.3-0.3 1.8-0.8 1.3-1.1 0.9-1.5 0.3M614.2 505.2l-3-0.8-5.8-3.9-3-2.9-0.3-1 0.3-0.7 0.9-0.6 1.8-0.2 5.7 0.8 3.8 1.3 3.8 2.3 2.9 3 0.2 1-0.4 1-1.5 0.6-5.4 0.1M632.3 505.1l-1.6-0.6-0.3-1.7 1.5-2 2.9-2.3 5.4-2.4 7.2-0.9 2 0.7 0.3 0.7-0.3 1-1.8 1.9-4 3-4 2.3-6.9 0.4M625.1 523l-2.1-0.7-1.5-1.3-1-2-0.2-2.3 0.5-2.7 1.1-2.3 2.5-3.1 1.5-1.3 2 1.8 2.2 3 1.1 2.9 0.3 2.7-0.6 2.3-1.2 1.7-1.9 1.1-2.7 0.2M615 505.5l-4.4-0.4-2.5-0.9-15.6-10-2.5-1.9-0.5-1.3 0.9-0.7 1.5 0 8.7 1.6 8.3 2.1 5.7 2.6 5.5 3.9 1.9 2 0.9 1.7-0.2 0.6-1 0.4-6.7 0.3M632.7 505.5l-3.6-0.7-0.2-0.6 0.4-1 4.1-4.1 5.7-3.5 5.3-2 11.4-2.6 4.8-0.7 1.1 0.1 0.6 0.5-0.5 1.4-2.5 1.9-16.2 10.3-3.2 0.8-7.2 0.2M682.5 485.2l-18.8 9.7-17.8 9.9-3.6 0.7-7.3 0.1-6.2-0.1-1.1-0.7 1.9-2.6 4.2-3.8 4.6-3 5.2-2.7 6.8-2.6 32.1-10M569.3 480.1l32.1 10 6.8 2.6 5.2 2.7 4.6 3 4.2 3.8 1.9 2.6-1.1 0.7-6.2 0.1-7.3-0.1-3.6-0.7-17.8-9.9-18.8-9.7M624 528l-3-1-2.3-1.9-1.2-2.5-0.3-2.9 0.6-2.7 1.3-3.3 6.8-7 6.8 7 1.5 4 0.4 3.3-1 3.3-2 2.2-3.4 1.4-3.8 0.1M569.3 538.1l26-11.6 13.2-6.7 9.9-6.5 3.7-3.4 3.5-3.8-0.1-0.3-30.5 0-0.4 1.6-1.2 1.7-4.2 3.3-8.2 4.3-11.7 5M682.5 521.7l-11.7-5-8.2-4.3-4.2-3.3-1.2-1.7-0.4-1.6-30.5 0-0.1 0.3 3.5 3.8 3.7 3.4 9.9 6.5 13.2 6.7 26 11.6M569.3 505.8l25.3 0 0.4-0.3-0.6-1.7-1.3-1.6-4.4-3.3-7.7-4-11.7-5M682.5 489.9l-11.7 5-7.7 4-4.4 3.3-1.3 1.6-0.6 1.7 0.4 0.3 25.3 0M569.3 473.5l26 11.6 13.2 6.7 9.9 6.5 3.9 3.5 3.6 4 3.6-4 3.9-3.5 9.9-6.5 13.2-6.7 26-11.6M569.3 531.1l32.8-10 6.4-2.5 4.9-2.5 5-3.3 3.8-3.4 1.8-2.6-1.3-0.7-5.9-0.1-6.7 0.1-3.7 0.7-18.2 10.2-18.9 9.8M682.5 526.8l-18.9-9.8-18.2-10.2-3.7-0.7-6.7-0.1-5.9 0.1-1.3 0.7 1.8 2.6 3.8 3.4 5 3.3 4.9 2.5 6.4 2.5 32.8 10M625.9 504.8l6.1-6.3 1.8-3.9 0.4-3-0.2-2.3-1-2-1.8-1.8-3.8-1.4-4.5 0.4-3.3 1.8-1.8 3-0.1 4 1.4 4.3 1.5 1.9 5.3 5.3M595.3 519.7l3.8-0.4 8.3-1.7 4.2-1.3 3.3-1.6 4.6-3.2 2.8-3.1 0.3-1-0.4-0.6-2.7-0.6-7.2 0.2-3 0.7-8.8 5.6-5.5 4-1.3 2 0.3 0.6 1 0.4M655.3 519.7l1.9-0.1 0.9-0.9-0.3-1-1.8-1.7-12.9-8.6-1.7-0.7-2.7-0.4-6-0.1-3.1 0.6-0.3 1 0.4 1 3.3 3.3 3.8 2.6 4.6 2.1 6 1.5 7.9 1.4M625.9 504.2l3.4-3.7 1.6-3.9 0.2-2-0.3-2-1-1.6-1.3-1.1-2.2-0.7-2.7 0.5-1.9 1.5-0.9 2.4 0.1 3 1 2.9 2.1 3 1.9 1.7M606.3 515.1l2.2 0.2 3.4-0.4 2.7-0.8 2.5-1.4 2.2-1.6 1.4-1.7 0.2-1.3-1.1-1.3-4.8-0.2-1.6 0.2-2.2 1-3.3 2.3-2.3 2.3-0.5 1.3 1 1.3M640.6 515l4.9 0.1 1-0.7 0.2-1-0.7-1.3-2.1-2-3.3-2.3-2.2-1-3.4-0.3-3 0.3-0.9 1-0.2 1.3 1.2 1.7 2.6 1.9 2.5 1.4 3.4 0.9M625.9 503.2l1.1-0.7 1.2-1.7 1-3.6-0.7-2.9-1.8-1.5-1.6 0-1.1 0.6-0.9 1.2-0.5 1.6 0.7 4 1.1 1.9 1.3 1.1"/>
<path fill="none" stroke="#1e1e1e" stroke-width="1.3" stroke-dasharray="3.6 2.2" d="M625.9 505.8l-3.8-4.2-3.8-3.4-4.6-3.3-5.4-3.2-6.1-3.2-8.4-4.1-28.3-12.6"/>
<path fill="none" stroke="#1e1e1e" stroke-width="1.3" stroke-dasharray="3.6 2.2" d="M625.9 505.8l3.8-4.2 3.8-3.4 4.6-3.3 5.4-3.2 6.1-3.2 8.4-4.1 28.3-12.6"/>
<path fill="none" stroke="#1e1e1e" stroke-width="1.3" stroke-dasharray="3.6 2.2" d="M625.9 505.8l-3.8 4.2-3.8 3.4-4.6 3.3-5.4 3.2-6.1 3.2-8.4 4.1-28.3 12.6"/>
<path fill="none" stroke="#1e1e1e" stroke-width="1.3" stroke-dasharray="3.6 2.2" d="M625.9 505.8l3.8 4.2 3.8 3.4 4.6 3.3 5.4 3.2 6.1 3.2 8.4 4.1 28.3 12.6"/>
<path fill="none" stroke="#1e1e1e" stroke-width="1.3" stroke-dasharray="3.6 2.2" d="M595 505.8l-0.4-1.7-1.5-2-2.5-2-3.3-2-4.5-2.4-6.7-3-16.9-6.7"/>
<path fill="none" stroke="#1e1e1e" stroke-width="1.3" stroke-dasharray="3.6 2.2" d="M656.8 505.8l0.4-1.7 1.5-2 2.5-2 3.3-2 4.5-2.4 6.7-3 16.9-6.7"/>
<path fill="none" stroke="#1e1e1e" stroke-width="1.3" stroke-dasharray="3.6 2.2" d="M595 505.8l-0.4 1.7-1.5 2-2.5 2-3.3 2-4.5 2.4-6.7 3-16.9 6.7"/>
<path fill="none" stroke="#1e1e1e" stroke-width="1.3" stroke-dasharray="3.6 2.2" d="M656.8 505.8l0.4 1.7 1.5 2 2.5 2 3.3 2 4.5 2.4 6.7 3 16.9 6.7"/>
<path fill="none" stroke="#1e1e1e" stroke-width="1.3" stroke-dasharray="3.6 2.2" d="M565.5 505.8l120.8 0"/>
</g>
<rect x="569.3" y="456.3" width="113.2" height="99.0" fill="none" stroke="#000" stroke-opacity="0.33" stroke-width="0.8"/>
<path stroke="#777" stroke-width="0.5" d="M569.3 555.3v-1.2M569.3 456.3v1.2M569.3 555.3h1.2M682.5 555.3h-1.2M588.2 555.3v-1.2M588.2 456.3v1.2M569.3 538.8h1.2M682.5 538.8h-1.2M607.0 555.3v-1.2M607.0 456.3v1.2M569.3 522.3h1.2M682.5 522.3h-1.2M625.9 555.3v-1.2M625.9 456.3v1.2M569.3 505.8h1.2M682.5 505.8h-1.2M644.8 555.3v-1.2M644.8 456.3v1.2M569.3 489.3h1.2M682.5 489.3h-1.2M663.6 555.3v-1.2M663.6 456.3v1.2M569.3 472.8h1.2M682.5 472.8h-1.2M682.5 555.3v-1.2M682.5 456.3v1.2M569.3 456.3h1.2M682.5 456.3h-1.2"/>
<text class="tk" x="569.3" y="563.4" text-anchor="middle">-15</text>
<text class="tk" x="567.1" y="557.3" text-anchor="end">-15</text>
<text class="tk" x="588.2" y="563.4" text-anchor="middle">-10</text>
<text class="tk" x="567.1" y="540.8" text-anchor="end">-10</text>
<text class="tk" x="607.0" y="563.4" text-anchor="middle">-5</text>
<text class="tk" x="567.1" y="524.3" text-anchor="end">-5</text>
<text class="tk" x="625.9" y="563.4" text-anchor="middle">0</text>
<text class="tk" x="567.1" y="507.8" text-anchor="end">0</text>
<text class="tk" x="644.8" y="563.4" text-anchor="middle">5</text>
<text class="tk" x="567.1" y="491.3" text-anchor="end">5</text>
<text class="tk" x="663.6" y="563.4" text-anchor="middle">10</text>
<text class="tk" x="567.1" y="474.8" text-anchor="end">10</text>
<text class="tk" x="682.5" y="563.4" text-anchor="middle">15</text>
<text class="tk" x="567.1" y="458.3" text-anchor="end">15</text>
<text class="al" x="623.3" y="570.5">P<tspan class="sub" dx="-0.4" dy="1.0">1</tspan></text>
<text class="al" style="font-size:6.6px" transform="translate(556.3,510.6) rotate(-90)">K<tspan class="sub" style="font-size:4.6px" dx="-0.2" dy="1.0">23</tspan></text>
<linearGradient id="gB23" x1="0" y1="1" x2="0" y2="0"><stop offset="0.000" stop-color="#4c5ca5"/><stop offset="0.050" stop-color="#5969ae"/><stop offset="0.100" stop-color="#6c7ab9"/><stop offset="0.150" stop-color="#8793c9"/><stop offset="0.200" stop-color="#9da7d5"/><stop offset="0.250" stop-color="#b4bce1"/><stop offset="0.300" stop-color="#c7cde8"/><stop offset="0.350" stop-color="#dbddef"/><stop offset="0.400" stop-color="#eaebf2"/><stop offset="0.450" stop-color="#f2f2f2"/><stop offset="0.500" stop-color="#f3f3f0"/><stop offset="0.550" stop-color="#f8f4ca"/><stop offset="0.600" stop-color="#f7ee9c"/><stop offset="0.650" stop-color="#f6ea84"/><stop offset="0.700" stop-color="#f4df60"/><stop offset="0.750" stop-color="#f1d040"/><stop offset="0.800" stop-color="#eab437"/><stop offset="0.850" stop-color="#e08431"/><stop offset="0.900" stop-color="#d1522d"/><stop offset="0.950" stop-color="#c63a2a"/><stop offset="1.000" stop-color="#bc2828"/></linearGradient>
<rect x="689.0" y="456.3" width="6.2" height="99.0" fill="url(#gB23)" stroke="#000" stroke-opacity="0.3" stroke-width="0.6"/>
<text class="tk" x="696.6" y="549.3">-0.8</text>
<text class="tk" x="696.6" y="537.9">-0.6</text>
<text class="tk" x="696.6" y="526.5">-0.4</text>
<text class="tk" x="696.6" y="515.1">-0.2</text>
<text class="tk" x="696.6" y="503.7">0</text>
<text class="tk" x="696.6" y="492.3">0.2</text>
<text class="tk" x="696.6" y="480.8">0.4</text>
<text class="tk" x="696.6" y="469.4">0.6</text>
<path stroke="#555" stroke-width="0.5" d="M695.2 547.3h-1.2M689.0 547.3h1.2M695.2 535.9h-1.2M689.0 535.9h1.2M695.2 524.5h-1.2M689.0 524.5h1.2M695.2 513.1h-1.2M689.0 513.1h1.2M695.2 501.7h-1.2M689.0 501.7h1.2M695.2 490.3h-1.2M689.0 490.3h1.2M695.2 478.8h-1.2M689.0 478.8h1.2M695.2 467.4h-1.2M689.0 467.4h1.2"/>
</g>
<g transform="translate(16.10,107.80) rotate(-90)">
<text x="-15.40" y="0.00" font-family="Liberation Serif" font-size="15" font-style="italic" textLength="6.40" lengthAdjust="spacingAndGlyphs" fill="#222">r</text>
<text x="-4.80" y="0.00" font-family="Liberation Serif" font-size="15" textLength="9.80" lengthAdjust="spacingAndGlyphs" fill="#222">=</text>
<text x="8.50" y="0.00" font-family="Liberation Serif" font-size="15" textLength="7.20" lengthAdjust="spacingAndGlyphs" fill="#222">0</text>
</g>
<g transform="translate(386.90,107.20) rotate(-90)">
<text x="-15.40" y="0.00" font-family="Liberation Serif" font-size="15" font-style="italic" textLength="6.40" lengthAdjust="spacingAndGlyphs" fill="#222">r</text>
<text x="-4.80" y="0.00" font-family="Liberation Serif" font-size="15" textLength="9.80" lengthAdjust="spacingAndGlyphs" fill="#222">=</text>
<text x="8.50" y="0.00" font-family="Liberation Serif" font-size="15" textLength="7.20" lengthAdjust="spacingAndGlyphs" fill="#222">0</text>
</g>
<g transform="translate(16.10,243.50) rotate(-90)">
<text x="-15.40" y="0.00" font-family="Liberation Serif" font-size="15" font-style="italic" textLength="6.40" lengthAdjust="spacingAndGlyphs" fill="#222">r</text>
<text x="-4.80" y="0.00" font-family="Liberation Serif" font-size="15" textLength="9.80" lengthAdjust="spacingAndGlyphs" fill="#222">=</text>
<text x="8.50" y="0.00" font-family="Liberation Serif" font-size="15" textLength="7.20" lengthAdjust="spacingAndGlyphs" fill="#222">1</text>
</g>
<g transform="translate(386.90,242.20) rotate(-90)">
<text x="-15.40" y="0.00" font-family="Liberation Serif" font-size="15" font-style="italic" textLength="6.40" lengthAdjust="spacingAndGlyphs" fill="#222">r</text>
<text x="-4.80" y="0.00" font-family="Liberation Serif" font-size="15" textLength="9.80" lengthAdjust="spacingAndGlyphs" fill="#222">=</text>
<text x="8.50" y="0.00" font-family="Liberation Serif" font-size="15" textLength="7.20" lengthAdjust="spacingAndGlyphs" fill="#222">1</text>
</g>
<g transform="translate(16.10,378.90) rotate(-90)">
<text x="-15.40" y="0.00" font-family="Liberation Serif" font-size="15" font-style="italic" textLength="6.40" lengthAdjust="spacingAndGlyphs" fill="#222">r</text>
<text x="-4.80" y="0.00" font-family="Liberation Serif" font-size="15" textLength="9.80" lengthAdjust="spacingAndGlyphs" fill="#222">=</text>
<text x="8.50" y="0.00" font-family="Liberation Serif" font-size="15" textLength="7.20" lengthAdjust="spacingAndGlyphs" fill="#222">2</text>
</g>
<g transform="translate(386.90,377.20) rotate(-90)">
<text x="-15.40" y="0.00" font-family="Liberation Serif" font-size="15" font-style="italic" textLength="6.40" lengthAdjust="spacingAndGlyphs" fill="#222">r</text>
<text x="-4.80" y="0.00" font-family="Liberation Serif" font-size="15" textLength="9.80" lengthAdjust="spacingAndGlyphs" fill="#222">=</text>
<text x="8.50" y="0.00" font-family="Liberation Serif" font-size="15" textLength="7.20" lengthAdjust="spacingAndGlyphs" fill="#222">2</text>
</g>
<g transform="translate(16.10,514.45) rotate(-90)">
<text x="-15.40" y="0.00" font-family="Liberation Serif" font-size="15" font-style="italic" textLength="6.40" lengthAdjust="spacingAndGlyphs" fill="#222">r</text>
<text x="-4.80" y="0.00" font-family="Liberation Serif" font-size="15" textLength="9.80" lengthAdjust="spacingAndGlyphs" fill="#222">=</text>
<text x="8.50" y="0.00" font-family="Liberation Serif" font-size="15" textLength="7.20" lengthAdjust="spacingAndGlyphs" fill="#222">3</text>
</g>
<g transform="translate(386.90,512.20) rotate(-90)">
<text x="-15.40" y="0.00" font-family="Liberation Serif" font-size="15" font-style="italic" textLength="6.40" lengthAdjust="spacingAndGlyphs" fill="#222">r</text>
<text x="-4.80" y="0.00" font-family="Liberation Serif" font-size="15" textLength="9.80" lengthAdjust="spacingAndGlyphs" fill="#222">=</text>
<text x="8.50" y="0.00" font-family="Liberation Serif" font-size="15" textLength="7.20" lengthAdjust="spacingAndGlyphs" fill="#222">3</text>
</g>
</svg></body></html>
